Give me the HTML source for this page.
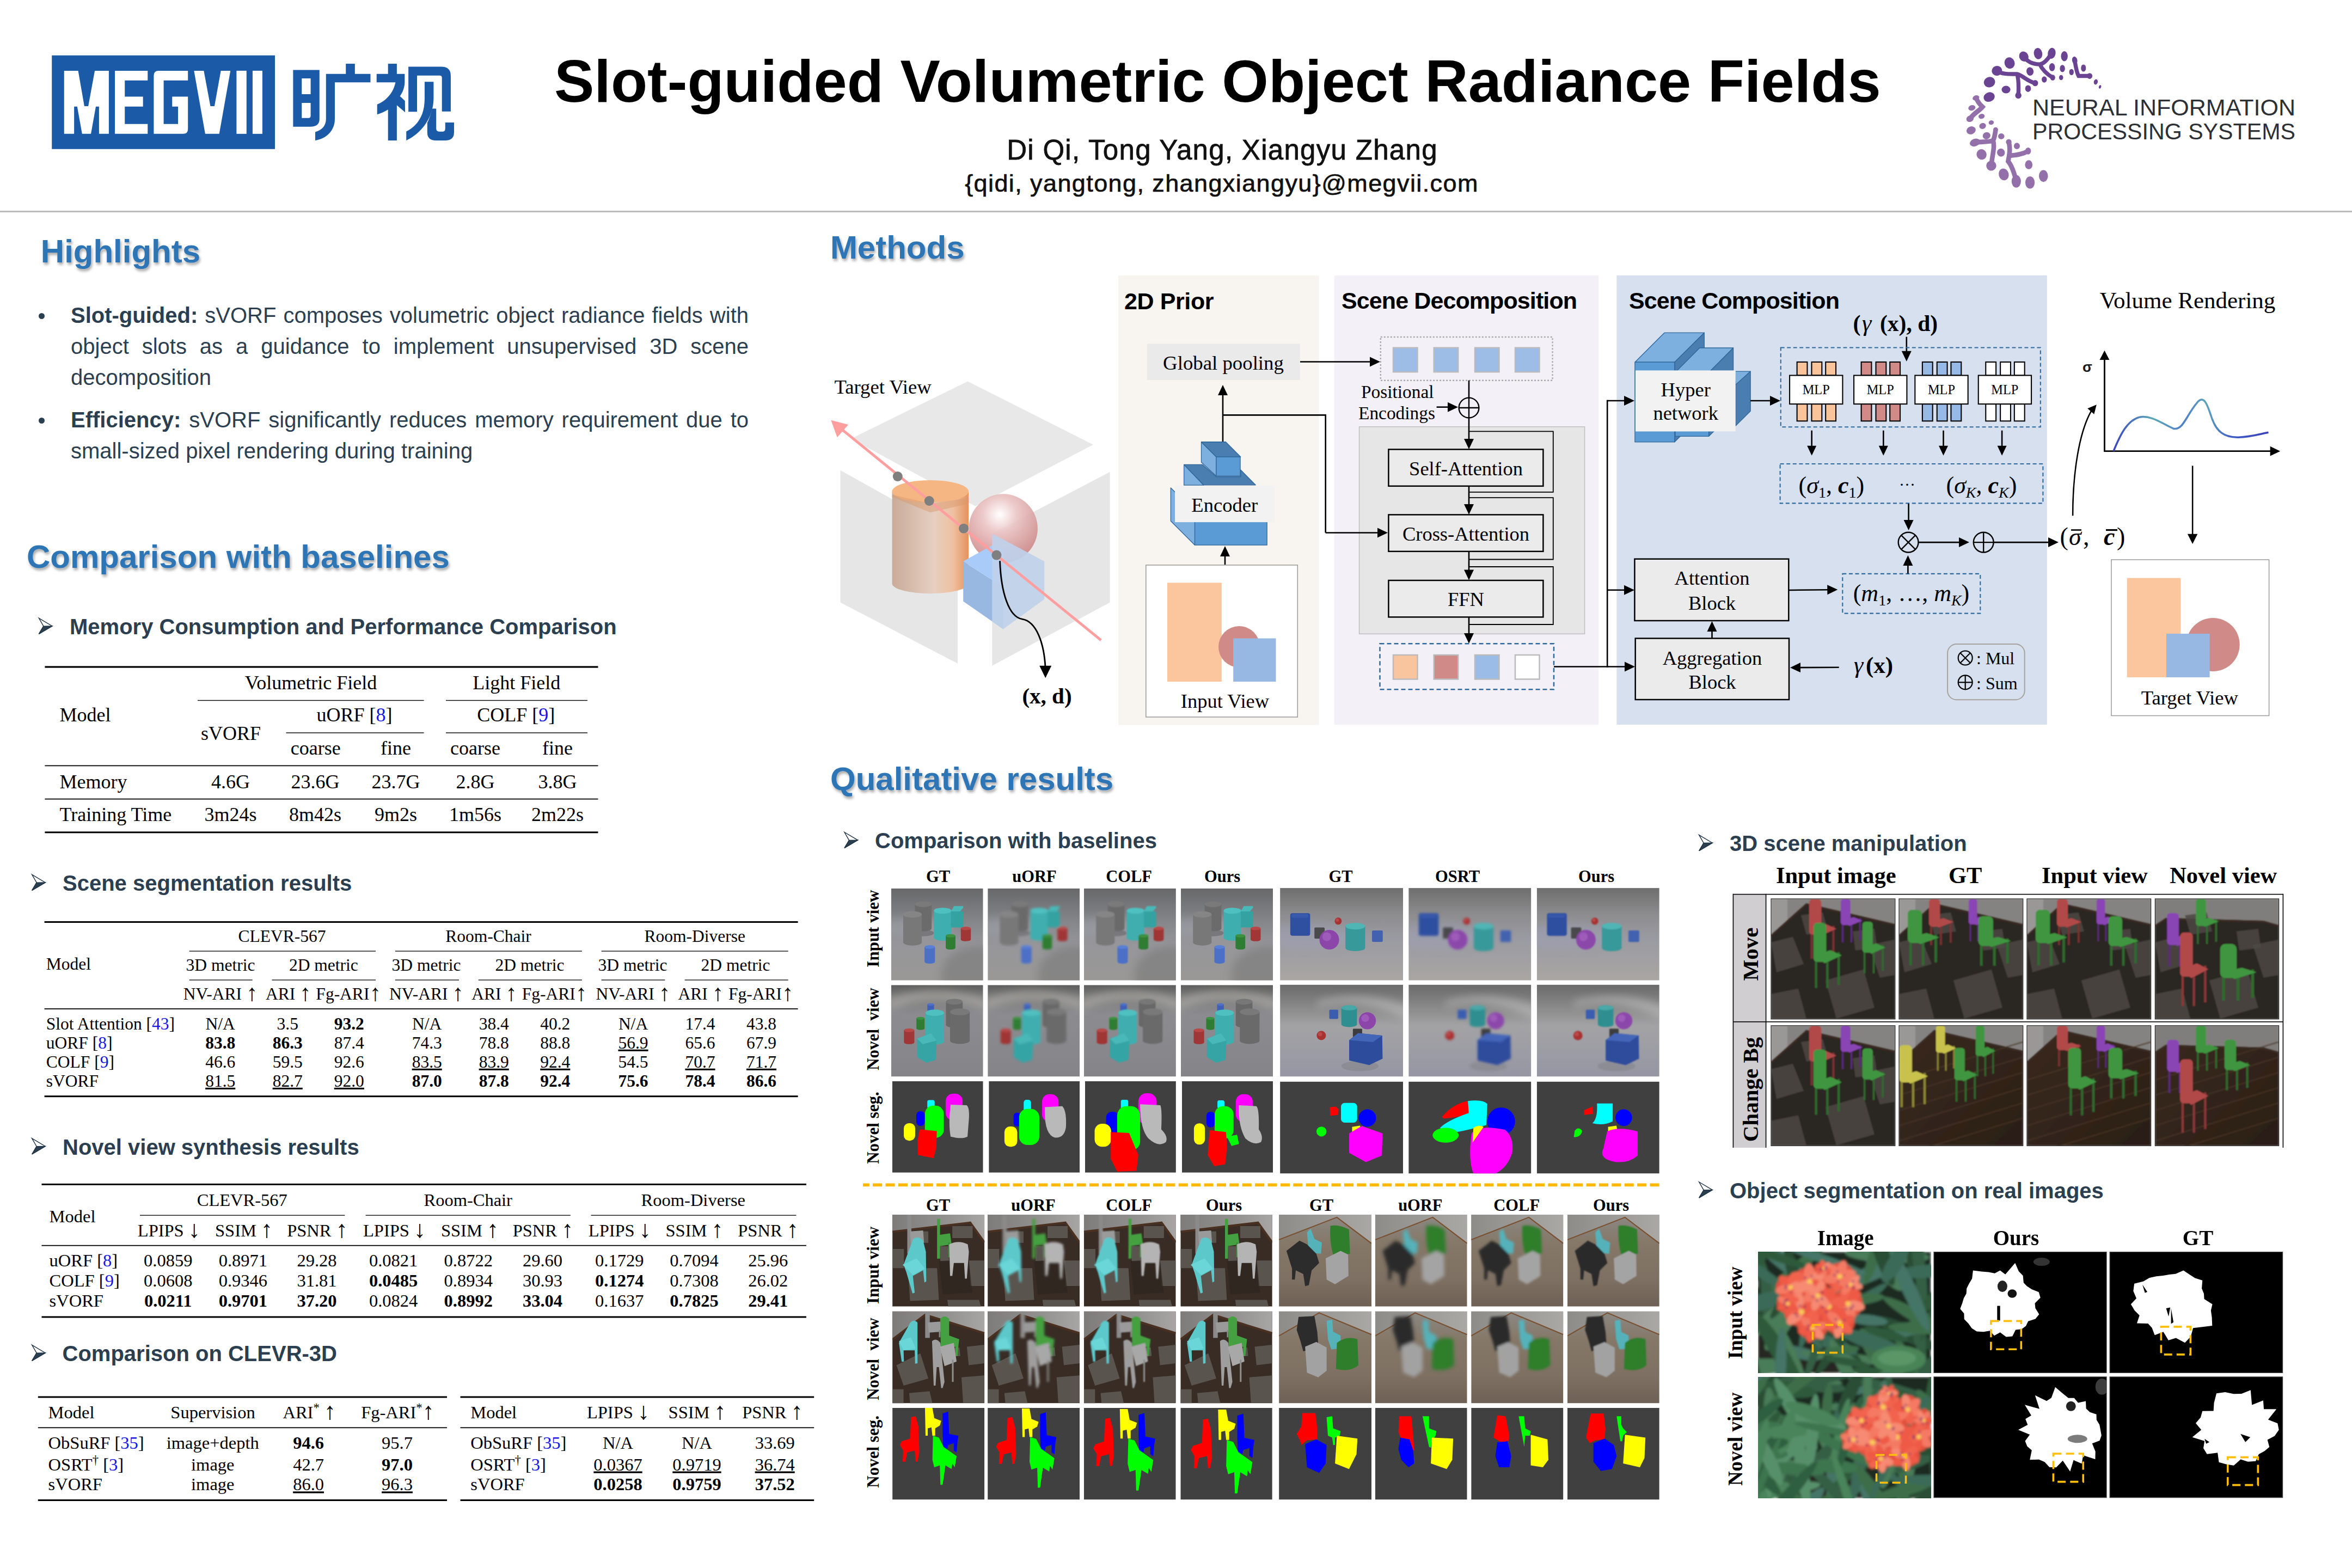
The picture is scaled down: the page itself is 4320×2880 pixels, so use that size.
<!DOCTYPE html>
<html><head><meta charset="utf-8"><title>sVORF poster</title>
<style>
html,body{margin:0;padding:0;background:#fff;}
body{width:4320px;height:2880px;position:relative;overflow:hidden;font-family:"Liberation Sans", sans-serif;}
svg{position:absolute;left:0;top:0;}
.hl{position:absolute;font-family:"Liberation Sans", sans-serif;font-size:40px;color:#2B3F51;line-height:57.3px;text-align:justify;}
.hl b{font-weight:bold;}
</style></head><body>
<svg width="4320" height="2880" viewBox="0 0 4320 2880">
<defs>
<filter id="tsh" x="-5%" y="-20%" width="115%" height="160%"><feDropShadow dx="2" dy="4" stdDeviation="2.5" flood-color="#000" flood-opacity="0.35"/></filter>
<marker id="ah" viewBox="0 0 10 10" refX="9" refY="5" markerWidth="6" markerHeight="6" orient="auto-start-reverse"><path d="M0,0 L10,5 L0,10 z" fill="#000"/></marker>
</defs>
<g transform="translate(80,90) scale(0.195578231292517,0.19550342130987292)" fill="#1A5AA6"><rect x="78" y="60" width="2095" height="880"/><g fill="#fff"><polygon points="193,204 325,204 383,537 420,537 481,204 613,204 613,797 521,797 521,541 491,541 445,797 362,797 316,541 287,541 287,797 193,797"/><polygon points="670,204 978,204 978,296 763,296 763,448 934,448 934,541 763,541 763,705 978,705 978,797 670,797"/><path d="M1035,797 L1035,250 Q1035,204 1080,204 L1356,204 L1356,296 L1128,296 L1128,705 L1263,705 L1263,541 L1208,541 L1208,448 L1356,448 L1356,750 Q1356,797 1310,797 Z"/><polygon points="1413,204 1505,204 1567,537 1605,537 1665,204 1755,204 1650,797 1518,797"/><rect x="1812" y="204" width="94" height="593"/><rect x="1963" y="204" width="92" height="593"/></g></g><g transform="translate(520,100) scale(0.1445578231292517,0.14457831325301204)" fill="#1A5AA6"><path fill-rule="evenodd" d="M127,197 L462,197 L462,820 Q462,918 345,918 L127,918 Z M237,305 L350,305 L350,505 L237,505 Z M237,615 L350,615 L350,780 Q350,808 322,808 L237,808 Z"/><rect x="797" y="118" width="115" height="135"/><path d="M545,248 L1110,248 L1110,355 L657,355 L657,820 C657,960 560,1070 408,1092 L408,985 C500,960 545,900 545,820 Z"/><rect x="1333" y="118" width="112" height="135"/><path d="M1188,248 L1545,248 L1545,360 C1540,430 1520,480 1485,530 L1548,590 L1550,735 L1445,645 L1445,1092 L1333,1092 L1333,700 C1290,725 1240,750 1195,762 L1195,635 C1310,590 1400,490 1428,355 L1188,355 Z"/><path d="M1592,155 L2010,155 Q2130,155 2130,270 L2130,725 L2018,725 L2018,295 Q2018,268 1990,268 L1702,268 L1702,728 L1592,728 Z"/><path d="M1798,348 L1912,348 L1912,560 C1910,780 1780,990 1565,1092 L1565,978 C1720,900 1798,760 1798,560 Z"/><path d="M1893,688 L1945,688 L1945,940 Q1945,980 1990,980 L2025,980 Q2060,980 2060,940 L2060,865 L2172,865 L2172,990 Q2172,1092 2060,1092 L1940,1092 Q1832,1092 1832,990 L1832,870 Q1870,790 1893,688 Z"/></g><text x="1018" y="187" font-family='"Liberation Sans", sans-serif' font-size="110" font-weight="bold" text-anchor="start" fill="#000" >Slot-guided Volumetric Object Radiance Fields</text><text x="2245" y="293.3" font-family='"Liberation Sans", sans-serif' font-size="51" font-weight="normal" text-anchor="middle" fill="#111" letter-spacing="1.3" stroke="#111" stroke-width="0.8">Di Qi, Tong Yang, Xiangyu Zhang</text><text x="2244" y="352.2" font-family='"Liberation Sans", sans-serif' font-size="45" font-weight="normal" text-anchor="middle" fill="#111" letter-spacing="1.4" stroke="#111" stroke-width="0.7">{qidi, yangtong, zhangxiangyu}@megvii.com</text><g transform="translate(3600,80) scale(0.11904761904761904)" fill="#6A4492"><ellipse cx="1205" cy="155" rx="65" ry="88" transform="rotate(-10 1205 155)"/><ellipse cx="1415" cy="150" rx="60" ry="85" transform="rotate(10 1415 150)"/><ellipse cx="1610" cy="195" rx="52" ry="78" transform="rotate(0 1610 195)"/><ellipse cx="1770" cy="260" rx="40" ry="60" transform="rotate(-10 1770 260)"/><ellipse cx="1905" cy="378" rx="38" ry="55" transform="rotate(0 1905 378)"/><ellipse cx="2000" cy="500" rx="42" ry="45" transform="rotate(0 2000 500)"/><ellipse cx="2095" cy="592" rx="30" ry="42" transform="rotate(15 2095 592)"/><ellipse cx="2160" cy="668" rx="18" ry="28" transform="rotate(15 2160 668)"/><ellipse cx="985" cy="200" rx="70" ry="80" transform="rotate(-30 985 200)"/><ellipse cx="765" cy="300" rx="78" ry="88" transform="rotate(-20 765 300)"/><ellipse cx="570" cy="420" rx="80" ry="75" transform="rotate(-20 570 420)"/><ellipse cx="1080" cy="430" rx="55" ry="65" transform="rotate(-10 1080 430)"/><ellipse cx="1420" cy="365" rx="45" ry="62" transform="rotate(0 1420 365)"/><ellipse cx="1580" cy="385" rx="40" ry="55" transform="rotate(0 1580 385)"/><ellipse cx="1720" cy="440" rx="35" ry="48" transform="rotate(0 1720 440)"/><ellipse cx="1300" cy="555" rx="40" ry="48" transform="rotate(0 1300 555)"/><ellipse cx="1560" cy="525" rx="32" ry="40" transform="rotate(0 1560 525)"/><ellipse cx="1430" cy="525" rx="38" ry="45" transform="rotate(0 1430 525)"/><ellipse cx="1160" cy="610" rx="45" ry="48" transform="rotate(0 1160 610)"/><ellipse cx="1050" cy="695" rx="45" ry="52" transform="rotate(0 1050 695)"/><ellipse cx="710" cy="710" rx="68" ry="58" transform="rotate(0 710 710)"/><ellipse cx="455" cy="595" rx="88" ry="80" transform="rotate(-20 455 595)"/><ellipse cx="450" cy="825" rx="88" ry="72" transform="rotate(-20 450 825)"/><ellipse cx="900" cy="800" rx="48" ry="50" transform="rotate(0 900 800)"/><path d="M985,200 C1050,300 1150,320 1230,320 C1300,310 1350,250 1400,170 M1230,320 C1270,400 1320,460 1430,525 M570,420 C650,480 780,470 880,470 C950,480 1050,590 1160,610 M880,470 C910,560 905,700 900,800 M1770,260 C1790,380 1800,450 1830,500 C1900,500 1950,500 2000,500" fill="none" stroke="#6A4492" stroke-width="62" stroke-linecap="round"/></g><g transform="translate(3600,170) scale(0.11479738261967627)" fill="#9470AA"><ellipse cx="255" cy="85" rx="55" ry="40" transform="rotate(-20 255 85)"/><ellipse cx="190" cy="245" rx="58" ry="43" transform="rotate(-15 190 245)"/><ellipse cx="345" cy="380" rx="50" ry="40" transform="rotate(-15 345 380)"/><ellipse cx="160" cy="420" rx="60" ry="50" transform="rotate(-20 160 420)"/><ellipse cx="500" cy="480" rx="42" ry="35" transform="rotate(-15 500 480)"/><ellipse cx="362" cy="535" rx="55" ry="48" transform="rotate(-20 362 535)"/><ellipse cx="178" cy="605" rx="75" ry="62" transform="rotate(-20 178 605)"/><ellipse cx="570" cy="590" rx="38" ry="35" transform="rotate(0 570 590)"/><ellipse cx="425" cy="690" rx="62" ry="55" transform="rotate(-20 425 690)"/><ellipse cx="660" cy="700" rx="50" ry="47" transform="rotate(-10 660 700)"/><ellipse cx="240" cy="800" rx="85" ry="60" transform="rotate(-20 240 800)"/><ellipse cx="345" cy="990" rx="80" ry="85" transform="rotate(-20 345 990)"/><ellipse cx="500" cy="1170" rx="80" ry="80" transform="rotate(-20 500 1170)"/><ellipse cx="655" cy="960" rx="62" ry="65" transform="rotate(-20 655 960)"/><ellipse cx="780" cy="790" rx="45" ry="45" transform="rotate(0 780 790)"/><ellipse cx="910" cy="855" rx="48" ry="52" transform="rotate(0 910 855)"/><ellipse cx="1090" cy="935" rx="45" ry="55" transform="rotate(0 1090 935)"/><ellipse cx="1100" cy="1155" rx="60" ry="72" transform="rotate(0 1100 1155)"/><ellipse cx="700" cy="1310" rx="80" ry="95" transform="rotate(-15 700 1310)"/><ellipse cx="900" cy="1420" rx="75" ry="100" transform="rotate(0 900 1420)"/><ellipse cx="1120" cy="1440" rx="75" ry="98" transform="rotate(0 1120 1440)"/><ellipse cx="1335" cy="1335" rx="72" ry="95" transform="rotate(0 1335 1335)"/><path d="M255,85 C300,180 330,200 360,230 C300,300 220,330 160,420 M240,800 C330,780 420,800 530,770 C560,700 560,650 570,600 M530,770 C560,870 520,980 500,1170 M780,790 C810,900 790,1000 770,1100 C820,1160 860,1250 900,1420 M800,1010 C900,1000 1000,990 1090,935" fill="none" stroke="#9470AA" stroke-width="75" stroke-linecap="round"/></g><text x="3733" y="211.7" font-family='"Liberation Sans", sans-serif' font-size="42" font-weight="normal" text-anchor="start" fill="#2D3035" textLength="483" lengthAdjust="spacingAndGlyphs">NEURAL INFORMATION</text><text x="3733" y="256" font-family='"Liberation Sans", sans-serif' font-size="42" font-weight="normal" text-anchor="start" fill="#2D3035" textLength="483" lengthAdjust="spacingAndGlyphs">PROCESSING SYSTEMS</text><rect x="0" y="387" width="4320" height="3" fill="#BBBBBB" stroke="none" stroke-width="1" /><text x="74.8" y="482.2" font-family='"Liberation Sans", sans-serif' font-size="60" font-weight="bold" text-anchor="start" fill="#2E75B6" filter="url(#tsh)">Highlights</text><text x="49" y="1043.2" font-family='"Liberation Sans", sans-serif' font-size="60" font-weight="bold" text-anchor="start" fill="#2E75B6" filter="url(#tsh)">Comparison with baselines</text><text x="1524.9" y="475.1" font-family='"Liberation Sans", sans-serif' font-size="60" font-weight="bold" text-anchor="start" fill="#2E75B6" filter="url(#tsh)">Methods</text><text x="1525" y="1451.4" font-family='"Liberation Sans", sans-serif' font-size="60" font-weight="bold" text-anchor="start" fill="#2E75B6" filter="url(#tsh)">Qualitative results</text><polygon points="71.4,1135.3 95.9,1149.9 71.4,1164.4 79.9,1150.1" fill="none" stroke="#1E3345" stroke-width="1.4" stroke-linejoin="miter"/><polygon points="79.9,1150.1 95.9,1149.9 71.4,1164.4" fill="#2B3F51" stroke="#1E3345" stroke-width="1.2"/><text x="128" y="1165" font-family='"Liberation Sans", sans-serif' font-size="40" font-weight="bold" text-anchor="start" fill="#2B3F51" >Memory Consumption and Performance Comparison</text><polygon points="58.7,1606.3 83.2,1620.9 58.7,1635.4 67.2,1621.1" fill="none" stroke="#1E3345" stroke-width="1.4" stroke-linejoin="miter"/><polygon points="67.2,1621.1 83.2,1620.9 58.7,1635.4" fill="#2B3F51" stroke="#1E3345" stroke-width="1.2"/><text x="115" y="1636" font-family='"Liberation Sans", sans-serif' font-size="40" font-weight="bold" text-anchor="start" fill="#2B3F51" >Scene segmentation results</text><polygon points="58.7,2090.9 83.2,2105.5 58.7,2120.0 67.2,2105.7" fill="none" stroke="#1E3345" stroke-width="1.4" stroke-linejoin="miter"/><polygon points="67.2,2105.7 83.2,2105.5 58.7,2120.0" fill="#2B3F51" stroke="#1E3345" stroke-width="1.2"/><text x="115" y="2120.6" font-family='"Liberation Sans", sans-serif' font-size="40" font-weight="bold" text-anchor="start" fill="#2B3F51" >Novel view synthesis results</text><polygon points="58.7,2470.3 83.2,2484.9 58.7,2499.4 67.2,2485.1" fill="none" stroke="#1E3345" stroke-width="1.4" stroke-linejoin="miter"/><polygon points="67.2,2485.1 83.2,2484.9 58.7,2499.4" fill="#2B3F51" stroke="#1E3345" stroke-width="1.2"/><text x="114.5" y="2500" font-family='"Liberation Sans", sans-serif' font-size="40" font-weight="bold" text-anchor="start" fill="#2B3F51" >Comparison on CLEVR-3D</text><polygon points="1551,1528.5 1575.5,1543.1000000000001 1551,1557.6000000000001 1559.5,1543.3" fill="none" stroke="#1E3345" stroke-width="1.4" stroke-linejoin="miter"/><polygon points="1559.5,1543.3 1575.5,1543.1000000000001 1551,1557.6000000000001" fill="#2B3F51" stroke="#1E3345" stroke-width="1.2"/><text x="1607" y="1558.2" font-family='"Liberation Sans", sans-serif' font-size="40" font-weight="bold" text-anchor="start" fill="#2B3F51" >Comparison with baselines</text><polygon points="3120.7,1533.6 3145.2,1548.2 3120.7,1562.7 3129.2,1548.3999999999999" fill="none" stroke="#1E3345" stroke-width="1.4" stroke-linejoin="miter"/><polygon points="3129.2,1548.3999999999999 3145.2,1548.2 3120.7,1562.7" fill="#2B3F51" stroke="#1E3345" stroke-width="1.2"/><text x="3177" y="1563.3" font-family='"Liberation Sans", sans-serif' font-size="40" font-weight="bold" text-anchor="start" fill="#2B3F51" >3D scene manipulation</text><polygon points="3120.7,2171.0 3145.2,2185.6 3120.7,2200.1 3129.2,2185.7999999999997" fill="none" stroke="#1E3345" stroke-width="1.4" stroke-linejoin="miter"/><polygon points="3129.2,2185.7999999999997 3145.2,2185.6 3120.7,2200.1" fill="#2B3F51" stroke="#1E3345" stroke-width="1.2"/><text x="3177" y="2200.7" font-family='"Liberation Sans", sans-serif' font-size="40" font-weight="bold" text-anchor="start" fill="#2B3F51" >Object segmentation on real images</text><rect x="82.4" y="1223.4" width="1016.1" height="3.2" fill="#000" stroke="none" stroke-width="1" /><text x="571" y="1266" font-family='"Liberation Serif", serif' font-size="36" font-weight="normal" text-anchor="middle" fill="#000" >Volumetric Field</text><text x="948.7" y="1266" font-family='"Liberation Serif", serif' font-size="36" font-weight="normal" text-anchor="middle" fill="#000" >Light Field</text><rect x="363" y="1285.8" width="415.6" height="1.4" fill="#000" stroke="none" stroke-width="1" /><rect x="819" y="1285.8" width="260" height="1.4" fill="#000" stroke="none" stroke-width="1" /><text x="109.5" y="1325" font-family='"Liberation Serif", serif' font-size="36" font-weight="normal" text-anchor="start" fill="#000" >Model</text><text x="651" y="1325" font-family='"Liberation Serif", serif' font-size="36" font-weight="normal" text-anchor="middle" fill="#000" >uORF [<tspan fill="#1515E6">8</tspan>]</text><text x="947.7" y="1325" font-family='"Liberation Serif", serif' font-size="36" font-weight="normal" text-anchor="middle" fill="#000" >COLF [<tspan fill="#1515E6">9</tspan>]</text><text x="424" y="1359" font-family='"Liberation Serif", serif' font-size="36" font-weight="normal" text-anchor="middle" fill="#000" >sVORF</text><rect x="525.5" y="1345.3" width="253.10000000000002" height="1.4" fill="#000" stroke="none" stroke-width="1" /><rect x="819" y="1345.3" width="260" height="1.4" fill="#000" stroke="none" stroke-width="1" /><text x="579.8" y="1386" font-family='"Liberation Serif", serif' font-size="36" font-weight="normal" text-anchor="middle" fill="#000" >coarse</text><text x="727" y="1386" font-family='"Liberation Serif", serif' font-size="36" font-weight="normal" text-anchor="middle" fill="#000" >fine</text><text x="873" y="1386" font-family='"Liberation Serif", serif' font-size="36" font-weight="normal" text-anchor="middle" fill="#000" >coarse</text><text x="1024" y="1386" font-family='"Liberation Serif", serif' font-size="36" font-weight="normal" text-anchor="middle" fill="#000" >fine</text><rect x="82.4" y="1405.5" width="1016.1" height="1.8" fill="#000" stroke="none" stroke-width="1" /><text x="109.5" y="1447.7" font-family='"Liberation Serif", serif' font-size="36" font-weight="normal" text-anchor="start" fill="#000" >Memory</text><text x="423.5" y="1447.7" font-family='"Liberation Serif", serif' font-size="36" font-weight="normal" text-anchor="middle" fill="#000" >4.6G</text><text x="579" y="1447.7" font-family='"Liberation Serif", serif' font-size="36" font-weight="normal" text-anchor="middle" fill="#000" >23.6G</text><text x="727" y="1447.7" font-family='"Liberation Serif", serif' font-size="36" font-weight="normal" text-anchor="middle" fill="#000" >23.7G</text><text x="873" y="1447.7" font-family='"Liberation Serif", serif' font-size="36" font-weight="normal" text-anchor="middle" fill="#000" >2.8G</text><text x="1024" y="1447.7" font-family='"Liberation Serif", serif' font-size="36" font-weight="normal" text-anchor="middle" fill="#000" >3.8G</text><rect x="82.4" y="1466.6999999999998" width="1016.1" height="1.8" fill="#000" stroke="none" stroke-width="1" /><text x="109.5" y="1507.9" font-family='"Liberation Serif", serif' font-size="36" font-weight="normal" text-anchor="start" fill="#000" >Training Time</text><text x="423.5" y="1507.9" font-family='"Liberation Serif", serif' font-size="36" font-weight="normal" text-anchor="middle" fill="#000" >3m24s</text><text x="579" y="1507.9" font-family='"Liberation Serif", serif' font-size="36" font-weight="normal" text-anchor="middle" fill="#000" >8m42s</text><text x="727" y="1507.9" font-family='"Liberation Serif", serif' font-size="36" font-weight="normal" text-anchor="middle" fill="#000" >9m2s</text><text x="873" y="1507.9" font-family='"Liberation Serif", serif' font-size="36" font-weight="normal" text-anchor="middle" fill="#000" >1m56s</text><text x="1024" y="1507.9" font-family='"Liberation Serif", serif' font-size="36" font-weight="normal" text-anchor="middle" fill="#000" >2m22s</text><rect x="82.4" y="1527.3" width="1016.1" height="3.0" fill="#000" stroke="none" stroke-width="1" /><rect x="81.6" y="1692.0" width="1384.0" height="3.0" fill="#000" stroke="none" stroke-width="1" /><text x="517.9" y="1730" font-family='"Liberation Serif", serif' font-size="31.5" font-weight="normal" text-anchor="middle" fill="#000" >CLEVR-567</text><text x="897" y="1730" font-family='"Liberation Serif", serif' font-size="31.5" font-weight="normal" text-anchor="middle" fill="#000" >Room-Chair</text><text x="1276.2" y="1730" font-family='"Liberation Serif", serif' font-size="31.5" font-weight="normal" text-anchor="middle" fill="#000" >Room-Diverse</text><rect x="347.6" y="1746.35" width="342.4" height="1.3" fill="#000" stroke="none" stroke-width="1" /><rect x="725.8" y="1746.35" width="343.10000000000014" height="1.3" fill="#000" stroke="none" stroke-width="1" /><rect x="1104.6" y="1746.35" width="343.10000000000014" height="1.3" fill="#000" stroke="none" stroke-width="1" /><text x="84.8" y="1781" font-family='"Liberation Serif", serif' font-size="31.5" font-weight="normal" text-anchor="start" fill="#000" >Model</text><text x="405" y="1782.8" font-family='"Liberation Serif", serif' font-size="31.5" font-weight="normal" text-anchor="middle" fill="#000" >3D metric</text><text x="783" y="1782.8" font-family='"Liberation Serif", serif' font-size="31.5" font-weight="normal" text-anchor="middle" fill="#000" >3D metric</text><text x="1162" y="1782.8" font-family='"Liberation Serif", serif' font-size="31.5" font-weight="normal" text-anchor="middle" fill="#000" >3D metric</text><text x="594.4" y="1782.8" font-family='"Liberation Serif", serif' font-size="31.5" font-weight="normal" text-anchor="middle" fill="#000" >2D metric</text><text x="973" y="1782.8" font-family='"Liberation Serif", serif' font-size="31.5" font-weight="normal" text-anchor="middle" fill="#000" >2D metric</text><text x="1351" y="1782.8" font-family='"Liberation Serif", serif' font-size="31.5" font-weight="normal" text-anchor="middle" fill="#000" >2D metric</text><rect x="347.6" y="1799.35" width="116.0" height="1.3" fill="#000" stroke="none" stroke-width="1" /><rect x="499.4" y="1799.35" width="190.60000000000002" height="1.3" fill="#000" stroke="none" stroke-width="1" /><rect x="725.8" y="1799.35" width="117.20000000000005" height="1.3" fill="#000" stroke="none" stroke-width="1" /><rect x="878.8" y="1799.35" width="190.10000000000014" height="1.3" fill="#000" stroke="none" stroke-width="1" /><rect x="1104.6" y="1799.35" width="116.70000000000005" height="1.3" fill="#000" stroke="none" stroke-width="1" /><rect x="1257.7" y="1799.35" width="190.0" height="1.3" fill="#000" stroke="none" stroke-width="1" /><text x="405" y="1836.4" font-family='"Liberation Serif", serif' font-size="31.5" font-weight="normal" text-anchor="middle" fill="#000" >NV-ARI <tspan font-size="42.5" baseline-shift="-1.9">↑</tspan></text><text x="529.6" y="1836.4" font-family='"Liberation Serif", serif' font-size="31.5" font-weight="normal" text-anchor="middle" fill="#000" >ARI <tspan font-size="42.5" baseline-shift="-1.9">↑</tspan></text><text x="640" y="1836.4" font-family='"Liberation Serif", serif' font-size="31.5" font-weight="normal" text-anchor="middle" fill="#000" >Fg-ARI<tspan font-size="42.5" baseline-shift="-1.9">↑</tspan></text><text x="783.3" y="1836.4" font-family='"Liberation Serif", serif' font-size="31.5" font-weight="normal" text-anchor="middle" fill="#000" >NV-ARI <tspan font-size="42.5" baseline-shift="-1.9">↑</tspan></text><text x="907.9000000000001" y="1836.4" font-family='"Liberation Serif", serif' font-size="31.5" font-weight="normal" text-anchor="middle" fill="#000" >ARI <tspan font-size="42.5" baseline-shift="-1.9">↑</tspan></text><text x="1018.3" y="1836.4" font-family='"Liberation Serif", serif' font-size="31.5" font-weight="normal" text-anchor="middle" fill="#000" >Fg-ARI<tspan font-size="42.5" baseline-shift="-1.9">↑</tspan></text><text x="1162.7" y="1836.4" font-family='"Liberation Serif", serif' font-size="31.5" font-weight="normal" text-anchor="middle" fill="#000" >NV-ARI <tspan font-size="42.5" baseline-shift="-1.9">↑</tspan></text><text x="1287.3000000000002" y="1836.4" font-family='"Liberation Serif", serif' font-size="31.5" font-weight="normal" text-anchor="middle" fill="#000" >ARI <tspan font-size="42.5" baseline-shift="-1.9">↑</tspan></text><text x="1397.7" y="1836.4" font-family='"Liberation Serif", serif' font-size="31.5" font-weight="normal" text-anchor="middle" fill="#000" >Fg-ARI<tspan font-size="42.5" baseline-shift="-1.9">↑</tspan></text><rect x="81.6" y="1852.1" width="1384.0" height="1.8" fill="#000" stroke="none" stroke-width="1" /><text x="84.8" y="1890.6" font-family='"Liberation Serif", serif' font-size="31.5" font-weight="normal" text-anchor="start" fill="#000" >Slot Attention [<tspan fill="#1515E6">43</tspan>]</text><text x="404.7" y="1890.6" font-family='"Liberation Serif", serif' font-size="31.5" font-weight="normal" text-anchor="middle" fill="#000" >N/A</text><text x="528.2" y="1890.6" font-family='"Liberation Serif", serif' font-size="31.5" font-weight="normal" text-anchor="middle" fill="#000" >3.5</text><text x="641.3" y="1890.6" font-family='"Liberation Serif", serif' font-size="31.5" font-weight="normal" text-anchor="middle" fill="#000" ><tspan font-weight="bold">93.2</tspan></text><text x="784.2" y="1890.6" font-family='"Liberation Serif", serif' font-size="31.5" font-weight="normal" text-anchor="middle" fill="#000" >N/A</text><text x="907.2" y="1890.6" font-family='"Liberation Serif", serif' font-size="31.5" font-weight="normal" text-anchor="middle" fill="#000" >38.4</text><text x="1019.8" y="1890.6" font-family='"Liberation Serif", serif' font-size="31.5" font-weight="normal" text-anchor="middle" fill="#000" >40.2</text><text x="1163" y="1890.6" font-family='"Liberation Serif", serif' font-size="31.5" font-weight="normal" text-anchor="middle" fill="#000" >N/A</text><text x="1286" y="1890.6" font-family='"Liberation Serif", serif' font-size="31.5" font-weight="normal" text-anchor="middle" fill="#000" >17.4</text><text x="1398.5" y="1890.6" font-family='"Liberation Serif", serif' font-size="31.5" font-weight="normal" text-anchor="middle" fill="#000" >43.8</text><text x="84.8" y="1925.7" font-family='"Liberation Serif", serif' font-size="31.5" font-weight="normal" text-anchor="start" fill="#000" >uORF [<tspan fill="#1515E6">8</tspan>]</text><text x="404.7" y="1925.7" font-family='"Liberation Serif", serif' font-size="31.5" font-weight="normal" text-anchor="middle" fill="#000" ><tspan font-weight="bold">83.8</tspan></text><text x="528.2" y="1925.7" font-family='"Liberation Serif", serif' font-size="31.5" font-weight="normal" text-anchor="middle" fill="#000" ><tspan font-weight="bold">86.3</tspan></text><text x="641.3" y="1925.7" font-family='"Liberation Serif", serif' font-size="31.5" font-weight="normal" text-anchor="middle" fill="#000" >87.4</text><text x="784.2" y="1925.7" font-family='"Liberation Serif", serif' font-size="31.5" font-weight="normal" text-anchor="middle" fill="#000" >74.3</text><text x="907.2" y="1925.7" font-family='"Liberation Serif", serif' font-size="31.5" font-weight="normal" text-anchor="middle" fill="#000" >78.8</text><text x="1019.8" y="1925.7" font-family='"Liberation Serif", serif' font-size="31.5" font-weight="normal" text-anchor="middle" fill="#000" >88.8</text><text x="1163" y="1925.7" font-family='"Liberation Serif", serif' font-size="31.5" font-weight="normal" text-anchor="middle" fill="#000" ><tspan text-decoration="underline">56.9</tspan></text><text x="1286" y="1925.7" font-family='"Liberation Serif", serif' font-size="31.5" font-weight="normal" text-anchor="middle" fill="#000" >65.6</text><text x="1398.5" y="1925.7" font-family='"Liberation Serif", serif' font-size="31.5" font-weight="normal" text-anchor="middle" fill="#000" >67.9</text><text x="84.8" y="1960.7" font-family='"Liberation Serif", serif' font-size="31.5" font-weight="normal" text-anchor="start" fill="#000" >COLF [<tspan fill="#1515E6">9</tspan>]</text><text x="404.7" y="1960.7" font-family='"Liberation Serif", serif' font-size="31.5" font-weight="normal" text-anchor="middle" fill="#000" >46.6</text><text x="528.2" y="1960.7" font-family='"Liberation Serif", serif' font-size="31.5" font-weight="normal" text-anchor="middle" fill="#000" >59.5</text><text x="641.3" y="1960.7" font-family='"Liberation Serif", serif' font-size="31.5" font-weight="normal" text-anchor="middle" fill="#000" >92.6</text><text x="784.2" y="1960.7" font-family='"Liberation Serif", serif' font-size="31.5" font-weight="normal" text-anchor="middle" fill="#000" ><tspan text-decoration="underline">83.5</tspan></text><text x="907.2" y="1960.7" font-family='"Liberation Serif", serif' font-size="31.5" font-weight="normal" text-anchor="middle" fill="#000" ><tspan text-decoration="underline">83.9</tspan></text><text x="1019.8" y="1960.7" font-family='"Liberation Serif", serif' font-size="31.5" font-weight="normal" text-anchor="middle" fill="#000" ><tspan text-decoration="underline">92.4</tspan></text><text x="1163" y="1960.7" font-family='"Liberation Serif", serif' font-size="31.5" font-weight="normal" text-anchor="middle" fill="#000" >54.5</text><text x="1286" y="1960.7" font-family='"Liberation Serif", serif' font-size="31.5" font-weight="normal" text-anchor="middle" fill="#000" ><tspan text-decoration="underline">70.7</tspan></text><text x="1398.5" y="1960.7" font-family='"Liberation Serif", serif' font-size="31.5" font-weight="normal" text-anchor="middle" fill="#000" ><tspan text-decoration="underline">71.7</tspan></text><text x="84.8" y="1995.8" font-family='"Liberation Serif", serif' font-size="31.5" font-weight="normal" text-anchor="start" fill="#000" >sVORF</text><text x="404.7" y="1995.8" font-family='"Liberation Serif", serif' font-size="31.5" font-weight="normal" text-anchor="middle" fill="#000" ><tspan text-decoration="underline">81.5</tspan></text><text x="528.2" y="1995.8" font-family='"Liberation Serif", serif' font-size="31.5" font-weight="normal" text-anchor="middle" fill="#000" ><tspan text-decoration="underline">82.7</tspan></text><text x="641.3" y="1995.8" font-family='"Liberation Serif", serif' font-size="31.5" font-weight="normal" text-anchor="middle" fill="#000" ><tspan text-decoration="underline">92.0</tspan></text><text x="784.2" y="1995.8" font-family='"Liberation Serif", serif' font-size="31.5" font-weight="normal" text-anchor="middle" fill="#000" ><tspan font-weight="bold">87.0</tspan></text><text x="907.2" y="1995.8" font-family='"Liberation Serif", serif' font-size="31.5" font-weight="normal" text-anchor="middle" fill="#000" ><tspan font-weight="bold">87.8</tspan></text><text x="1019.8" y="1995.8" font-family='"Liberation Serif", serif' font-size="31.5" font-weight="normal" text-anchor="middle" fill="#000" ><tspan font-weight="bold">92.4</tspan></text><text x="1163" y="1995.8" font-family='"Liberation Serif", serif' font-size="31.5" font-weight="normal" text-anchor="middle" fill="#000" ><tspan font-weight="bold">75.6</tspan></text><text x="1286" y="1995.8" font-family='"Liberation Serif", serif' font-size="31.5" font-weight="normal" text-anchor="middle" fill="#000" ><tspan font-weight="bold">78.4</tspan></text><text x="1398.5" y="1995.8" font-family='"Liberation Serif", serif' font-size="31.5" font-weight="normal" text-anchor="middle" fill="#000" ><tspan font-weight="bold">86.6</tspan></text><rect x="81.6" y="2012.2" width="1384.0" height="3.0" fill="#000" stroke="none" stroke-width="1" /><rect x="76.5" y="2173.9" width="1404.4" height="3.0" fill="#000" stroke="none" stroke-width="1" /><text x="444.8" y="2215" font-family='"Liberation Serif", serif' font-size="32.5" font-weight="normal" text-anchor="middle" fill="#000" >CLEVR-567</text><text x="859.7" y="2215" font-family='"Liberation Serif", serif' font-size="32.5" font-weight="normal" text-anchor="middle" fill="#000" >Room-Chair</text><text x="1273.3" y="2215" font-family='"Liberation Serif", serif' font-size="32.5" font-weight="normal" text-anchor="middle" fill="#000" >Room-Diverse</text><rect x="257" y="2231.5499999999997" width="376.29999999999995" height="1.3" fill="#000" stroke="none" stroke-width="1" /><rect x="671.6" y="2231.5499999999997" width="376.19999999999993" height="1.3" fill="#000" stroke="none" stroke-width="1" /><rect x="1085.5" y="2231.5499999999997" width="376.9000000000001" height="1.3" fill="#000" stroke="none" stroke-width="1" /><text x="90.6" y="2245" font-family='"Liberation Serif", serif' font-size="32.5" font-weight="normal" text-anchor="start" fill="#000" >Model</text><text x="310.3" y="2270.5" font-family='"Liberation Serif", serif' font-size="32.5" font-weight="normal" text-anchor="middle" fill="#000" >LPIPS <tspan font-size="43.9" baseline-shift="-1.9">↓</tspan></text><text x="448" y="2270.5" font-family='"Liberation Serif", serif' font-size="32.5" font-weight="normal" text-anchor="middle" fill="#000" >SSIM <tspan font-size="43.9" baseline-shift="-1.9">↑</tspan></text><text x="582.9" y="2270.5" font-family='"Liberation Serif", serif' font-size="32.5" font-weight="normal" text-anchor="middle" fill="#000" >PSNR <tspan font-size="43.9" baseline-shift="-1.9">↑</tspan></text><text x="724.5" y="2270.5" font-family='"Liberation Serif", serif' font-size="32.5" font-weight="normal" text-anchor="middle" fill="#000" >LPIPS <tspan font-size="43.9" baseline-shift="-1.9">↓</tspan></text><text x="862.9" y="2270.5" font-family='"Liberation Serif", serif' font-size="32.5" font-weight="normal" text-anchor="middle" fill="#000" >SSIM <tspan font-size="43.9" baseline-shift="-1.9">↑</tspan></text><text x="997.4" y="2270.5" font-family='"Liberation Serif", serif' font-size="32.5" font-weight="normal" text-anchor="middle" fill="#000" >PSNR <tspan font-size="43.9" baseline-shift="-1.9">↑</tspan></text><text x="1138.3" y="2270.5" font-family='"Liberation Serif", serif' font-size="32.5" font-weight="normal" text-anchor="middle" fill="#000" >LPIPS <tspan font-size="43.9" baseline-shift="-1.9">↓</tspan></text><text x="1275.5" y="2270.5" font-family='"Liberation Serif", serif' font-size="32.5" font-weight="normal" text-anchor="middle" fill="#000" >SSIM <tspan font-size="43.9" baseline-shift="-1.9">↑</tspan></text><text x="1411" y="2270.5" font-family='"Liberation Serif", serif' font-size="32.5" font-weight="normal" text-anchor="middle" fill="#000" >PSNR <tspan font-size="43.9" baseline-shift="-1.9">↑</tspan></text><rect x="76.5" y="2286.7999999999997" width="1404.4" height="1.8" fill="#000" stroke="none" stroke-width="1" /><text x="90.6" y="2326" font-family='"Liberation Serif", serif' font-size="32.5" font-weight="normal" text-anchor="start" fill="#000" >uORF [<tspan fill="#1515E6">8</tspan>]</text><text x="308.7" y="2326" font-family='"Liberation Serif", serif' font-size="32.5" font-weight="normal" text-anchor="middle" fill="#000" >0.0859</text><text x="446.4" y="2326" font-family='"Liberation Serif", serif' font-size="32.5" font-weight="normal" text-anchor="middle" fill="#000" >0.8971</text><text x="582" y="2326" font-family='"Liberation Serif", serif' font-size="32.5" font-weight="normal" text-anchor="middle" fill="#000" >29.28</text><text x="722.6" y="2326" font-family='"Liberation Serif", serif' font-size="32.5" font-weight="normal" text-anchor="middle" fill="#000" >0.0821</text><text x="860.3" y="2326" font-family='"Liberation Serif", serif' font-size="32.5" font-weight="normal" text-anchor="middle" fill="#000" >0.8722</text><text x="996.5" y="2326" font-family='"Liberation Serif", serif' font-size="32.5" font-weight="normal" text-anchor="middle" fill="#000" >29.60</text><text x="1137.8" y="2326" font-family='"Liberation Serif", serif' font-size="32.5" font-weight="normal" text-anchor="middle" fill="#000" >0.1729</text><text x="1275" y="2326" font-family='"Liberation Serif", serif' font-size="32.5" font-weight="normal" text-anchor="middle" fill="#000" >0.7094</text><text x="1410.7" y="2326" font-family='"Liberation Serif", serif' font-size="32.5" font-weight="normal" text-anchor="middle" fill="#000" >25.96</text><text x="90.6" y="2363" font-family='"Liberation Serif", serif' font-size="32.5" font-weight="normal" text-anchor="start" fill="#000" >COLF [<tspan fill="#1515E6">9</tspan>]</text><text x="308.7" y="2363" font-family='"Liberation Serif", serif' font-size="32.5" font-weight="normal" text-anchor="middle" fill="#000" >0.0608</text><text x="446.4" y="2363" font-family='"Liberation Serif", serif' font-size="32.5" font-weight="normal" text-anchor="middle" fill="#000" >0.9346</text><text x="582" y="2363" font-family='"Liberation Serif", serif' font-size="32.5" font-weight="normal" text-anchor="middle" fill="#000" >31.81</text><text x="722.6" y="2363" font-family='"Liberation Serif", serif' font-size="32.5" font-weight="normal" text-anchor="middle" fill="#000" ><tspan font-weight="bold">0.0485</tspan></text><text x="860.3" y="2363" font-family='"Liberation Serif", serif' font-size="32.5" font-weight="normal" text-anchor="middle" fill="#000" >0.8934</text><text x="996.5" y="2363" font-family='"Liberation Serif", serif' font-size="32.5" font-weight="normal" text-anchor="middle" fill="#000" >30.93</text><text x="1137.8" y="2363" font-family='"Liberation Serif", serif' font-size="32.5" font-weight="normal" text-anchor="middle" fill="#000" ><tspan font-weight="bold">0.1274</tspan></text><text x="1275" y="2363" font-family='"Liberation Serif", serif' font-size="32.5" font-weight="normal" text-anchor="middle" fill="#000" >0.7308</text><text x="1410.7" y="2363" font-family='"Liberation Serif", serif' font-size="32.5" font-weight="normal" text-anchor="middle" fill="#000" >26.02</text><text x="90.6" y="2400" font-family='"Liberation Serif", serif' font-size="32.5" font-weight="normal" text-anchor="start" fill="#000" >sVORF</text><text x="308.7" y="2400" font-family='"Liberation Serif", serif' font-size="32.5" font-weight="normal" text-anchor="middle" fill="#000" ><tspan font-weight="bold">0.0211</tspan></text><text x="446.4" y="2400" font-family='"Liberation Serif", serif' font-size="32.5" font-weight="normal" text-anchor="middle" fill="#000" ><tspan font-weight="bold">0.9701</tspan></text><text x="582" y="2400" font-family='"Liberation Serif", serif' font-size="32.5" font-weight="normal" text-anchor="middle" fill="#000" ><tspan font-weight="bold">37.20</tspan></text><text x="722.6" y="2400" font-family='"Liberation Serif", serif' font-size="32.5" font-weight="normal" text-anchor="middle" fill="#000" >0.0824</text><text x="860.3" y="2400" font-family='"Liberation Serif", serif' font-size="32.5" font-weight="normal" text-anchor="middle" fill="#000" ><tspan font-weight="bold">0.8992</tspan></text><text x="996.5" y="2400" font-family='"Liberation Serif", serif' font-size="32.5" font-weight="normal" text-anchor="middle" fill="#000" ><tspan font-weight="bold">33.04</tspan></text><text x="1137.8" y="2400" font-family='"Liberation Serif", serif' font-size="32.5" font-weight="normal" text-anchor="middle" fill="#000" >0.1637</text><text x="1275" y="2400" font-family='"Liberation Serif", serif' font-size="32.5" font-weight="normal" text-anchor="middle" fill="#000" ><tspan font-weight="bold">0.7825</tspan></text><text x="1410.7" y="2400" font-family='"Liberation Serif", serif' font-size="32.5" font-weight="normal" text-anchor="middle" fill="#000" ><tspan font-weight="bold">29.41</tspan></text><rect x="76.5" y="2417.5" width="1404.4" height="3.0" fill="#000" stroke="none" stroke-width="1" /><rect x="69.8" y="2564.5" width="751.2" height="3.0" fill="#000" stroke="none" stroke-width="1" /><rect x="845.5" y="2564.5" width="649.7" height="3.0" fill="#000" stroke="none" stroke-width="1" /><text x="88.6" y="2604.8" font-family='"Liberation Serif", serif' font-size="32.5" font-weight="normal" text-anchor="start" fill="#000" >Model</text><text x="391" y="2604.8" font-family='"Liberation Serif", serif' font-size="32.5" font-weight="normal" text-anchor="middle" fill="#000" >Supervision</text><text x="568.2" y="2604.8" font-family='"Liberation Serif", serif' font-size="32.5" font-weight="normal" text-anchor="middle" fill="#000" >ARI<tspan baseline-shift="super" font-size="22.75">*</tspan> <tspan font-size="43.9" baseline-shift="-1.9">↑</tspan></text><text x="730.4" y="2604.8" font-family='"Liberation Serif", serif' font-size="32.5" font-weight="normal" text-anchor="middle" fill="#000" >Fg-ARI<tspan baseline-shift="super" font-size="22.75">*</tspan><tspan font-size="43.9" baseline-shift="-1.9">↑</tspan></text><text x="864.3" y="2604.8" font-family='"Liberation Serif", serif' font-size="32.5" font-weight="normal" text-anchor="start" fill="#000" >Model</text><text x="1135.4" y="2604.8" font-family='"Liberation Serif", serif' font-size="32.5" font-weight="normal" text-anchor="middle" fill="#000" >LPIPS <tspan font-size="43.9" baseline-shift="-1.9">↓</tspan></text><text x="1280.6" y="2604.8" font-family='"Liberation Serif", serif' font-size="32.5" font-weight="normal" text-anchor="middle" fill="#000" >SSIM <tspan font-size="43.9" baseline-shift="-1.9">↑</tspan></text><text x="1418.9" y="2604.8" font-family='"Liberation Serif", serif' font-size="32.5" font-weight="normal" text-anchor="middle" fill="#000" >PSNR <tspan font-size="43.9" baseline-shift="-1.9">↑</tspan></text><rect x="69.8" y="2621.4" width="751.2" height="1.8" fill="#000" stroke="none" stroke-width="1" /><rect x="845.5" y="2621.4" width="649.7" height="1.8" fill="#000" stroke="none" stroke-width="1" /><text x="88.6" y="2661" font-family='"Liberation Serif", serif' font-size="32.5" font-weight="normal" text-anchor="start" fill="#000" >ObSuRF [<tspan fill="#1515E6">35</tspan>]</text><text x="864.3" y="2661" font-family='"Liberation Serif", serif' font-size="32.5" font-weight="normal" text-anchor="start" fill="#000" >ObSuRF [<tspan fill="#1515E6">35</tspan>]</text><text x="390.8" y="2661" font-family='"Liberation Serif", serif' font-size="32.5" font-weight="normal" text-anchor="middle" fill="#000" >image+depth</text><text x="566.6" y="2661" font-family='"Liberation Serif", serif' font-size="32.5" font-weight="normal" text-anchor="middle" fill="#000" ><tspan font-weight="bold">94.6</tspan></text><text x="729.5" y="2661" font-family='"Liberation Serif", serif' font-size="32.5" font-weight="normal" text-anchor="middle" fill="#000" >95.7</text><text x="1135" y="2661" font-family='"Liberation Serif", serif' font-size="32.5" font-weight="normal" text-anchor="middle" fill="#000" >N/A</text><text x="1280" y="2661" font-family='"Liberation Serif", serif' font-size="32.5" font-weight="normal" text-anchor="middle" fill="#000" >N/A</text><text x="1423.2" y="2661" font-family='"Liberation Serif", serif' font-size="32.5" font-weight="normal" text-anchor="middle" fill="#000" >33.69</text><text x="88.6" y="2700.5" font-family='"Liberation Serif", serif' font-size="32.5" font-weight="normal" text-anchor="start" fill="#000" >OSRT<tspan baseline-shift="super" font-size="22.75">†</tspan> [<tspan fill="#1515E6">3</tspan>]</text><text x="864.3" y="2700.5" font-family='"Liberation Serif", serif' font-size="32.5" font-weight="normal" text-anchor="start" fill="#000" >OSRT<tspan baseline-shift="super" font-size="22.75">†</tspan> [<tspan fill="#1515E6">3</tspan>]</text><text x="390.8" y="2700.5" font-family='"Liberation Serif", serif' font-size="32.5" font-weight="normal" text-anchor="middle" fill="#000" >image</text><text x="566.6" y="2700.5" font-family='"Liberation Serif", serif' font-size="32.5" font-weight="normal" text-anchor="middle" fill="#000" >42.7</text><text x="729.5" y="2700.5" font-family='"Liberation Serif", serif' font-size="32.5" font-weight="normal" text-anchor="middle" fill="#000" ><tspan font-weight="bold">97.0</tspan></text><text x="1135" y="2700.5" font-family='"Liberation Serif", serif' font-size="32.5" font-weight="normal" text-anchor="middle" fill="#000" ><tspan text-decoration="underline">0.0367</tspan></text><text x="1280" y="2700.5" font-family='"Liberation Serif", serif' font-size="32.5" font-weight="normal" text-anchor="middle" fill="#000" ><tspan text-decoration="underline">0.9719</tspan></text><text x="1423.2" y="2700.5" font-family='"Liberation Serif", serif' font-size="32.5" font-weight="normal" text-anchor="middle" fill="#000" ><tspan text-decoration="underline">36.74</tspan></text><text x="88.6" y="2737.4" font-family='"Liberation Serif", serif' font-size="32.5" font-weight="normal" text-anchor="start" fill="#000" >sVORF</text><text x="864.3" y="2737.4" font-family='"Liberation Serif", serif' font-size="32.5" font-weight="normal" text-anchor="start" fill="#000" >sVORF</text><text x="390.8" y="2737.4" font-family='"Liberation Serif", serif' font-size="32.5" font-weight="normal" text-anchor="middle" fill="#000" >image</text><text x="566.6" y="2737.4" font-family='"Liberation Serif", serif' font-size="32.5" font-weight="normal" text-anchor="middle" fill="#000" ><tspan text-decoration="underline">86.0</tspan></text><text x="729.5" y="2737.4" font-family='"Liberation Serif", serif' font-size="32.5" font-weight="normal" text-anchor="middle" fill="#000" ><tspan text-decoration="underline">96.3</tspan></text><text x="1135" y="2737.4" font-family='"Liberation Serif", serif' font-size="32.5" font-weight="normal" text-anchor="middle" fill="#000" ><tspan font-weight="bold">0.0258</tspan></text><text x="1280" y="2737.4" font-family='"Liberation Serif", serif' font-size="32.5" font-weight="normal" text-anchor="middle" fill="#000" ><tspan font-weight="bold">0.9759</tspan></text><text x="1423.2" y="2737.4" font-family='"Liberation Serif", serif' font-size="32.5" font-weight="normal" text-anchor="middle" fill="#000" ><tspan font-weight="bold">37.52</tspan></text><rect x="69.8" y="2754.0" width="751.2" height="3.0" fill="#000" stroke="none" stroke-width="1" /><rect x="845.5" y="2754.0" width="649.7" height="3.0" fill="#000" stroke="none" stroke-width="1" /><rect x="2054" y="506" width="368.5" height="825.5" fill="#F8F4F0" stroke="none" stroke-width="1" /><rect x="2450.7" y="506" width="485.6" height="825.3" fill="#F4F0F8" stroke="none" stroke-width="1" /><rect x="2969.4" y="505.7" width="790.4" height="825.3" fill="#D6E0EF" stroke="none" stroke-width="1" /><text x="2065" y="568.3" font-family='"Liberation Sans", sans-serif' font-size="43" font-weight="bold" text-anchor="start" fill="#000" letter-spacing="-0.4">2D Prior</text><text x="2464" y="567" font-family='"Liberation Sans", sans-serif' font-size="43" font-weight="bold" text-anchor="start" fill="#000" letter-spacing="-0.9">Scene Decomposition</text><text x="2992" y="567" font-family='"Liberation Sans", sans-serif' font-size="43" font-weight="bold" text-anchor="start" fill="#000" letter-spacing="-0.9">Scene Composition</text><defs><linearGradient id="cylg" x1="0" x2="1" y1="0" y2="0"><stop offset="0" stop-color="#C9AB98"/><stop offset="0.55" stop-color="#E6CFC2"/><stop offset="0.8" stop-color="#EFC0A0"/><stop offset="1" stop-color="#E3935F"/></linearGradient><radialGradient id="sphg" cx="0.45" cy="0.3" r="0.7"><stop offset="0" stop-color="#FFFFFF"/><stop offset="0.35" stop-color="#EBC4C4"/><stop offset="1" stop-color="#CC8585"/></radialGradient><linearGradient id="curvg" x1="0" x2="1" y1="0" y2="0"><stop offset="0" stop-color="#3A45C0"/><stop offset="0.25" stop-color="#5BA8B8"/><stop offset="0.45" stop-color="#4F7FC8"/><stop offset="0.6" stop-color="#5EA2BA"/><stop offset="0.75" stop-color="#4060C8"/><stop offset="1" stop-color="#3A40B8"/></linearGradient></defs><g transform="translate(1510,680) scale(0.408163)"><polygon points="130,308 655,50 1220,335 690,612" fill="#E8E8E8"/><polygon points="82,450 610,745 610,1320 82,1045" fill="#E6E6E6"/><polygon points="765,735 1295,458 1295,1045 765,1330" fill="#E6E6E6"/><path d="M315,545 L315,960 A172,45 0 0 0 659,960 L659,545 Z" fill="url(#cylg)"/><ellipse cx="487" cy="545" rx="172" ry="50" fill="#F6B684"/><path d="M315,560 L487,600 L660,575 L660,600 L487,640 L315,570 Z" fill="#D99A6C" opacity="0.5"/><circle cx="815" cy="712" r="155" fill="url(#sphg)" opacity="0.9"/><polygon points="635,860 815,975 815,1165 635,1040" fill="#98B8E2"/><polygon points="635,860 770,785 815,810 815,975" fill="#A9CBFA"/><polygon points="765,735 1000,860 1000,1030 815,1165 765,1130" fill="#BFD1EA" opacity="0.92"/><line x1="75" y1="255" x2="1255" y2="1215" stroke="#FF9E9E" stroke-width="12"/><polygon points="40,225 118,245 68,302" fill="#FF9E9E"/><circle cx="340" cy="478" r="22" fill="#7F7F7F"/><circle cx="482" cy="588" r="22" fill="#7F7F7F"/><circle cx="637" cy="712" r="22" fill="#7F7F7F"/><circle cx="785" cy="832" r="22" fill="#7F7F7F"/><path d="M800,858 C805,1000 840,1110 900,1120 C965,1130 1000,1230 1005,1345" fill="none" stroke="#000" stroke-width="7"/><polygon points="978,1330 1032,1330 1005,1385" fill="#000"/></g><text x="1532.4" y="722.9" font-family='"Liberation Serif", serif' font-size="36.7" font-weight="normal" text-anchor="start" fill="#000" >Target View</text><text x="1923" y="1292.2" font-family='"Liberation Serif", serif' font-size="41" font-weight="bold" text-anchor="middle" fill="#000" >(x, d)</text><rect x="2107" y="631.4" width="280.6" height="66.6" fill="#EAEAEA" stroke="none" stroke-width="1" /><text x="2247" y="678.5" font-family='"Liberation Serif", serif' font-size="36.8" font-weight="normal" text-anchor="middle" fill="#000" >Global pooling</text><g transform="translate(2130,790) scale(0.140331)" stroke="#2E6699" stroke-width="9" stroke-linejoin="round"><polygon points="145,755 460,1070 460,1505 145,1190" fill="#7EB0DF"/><rect x="460" y="1200" width="945" height="305" fill="#5B9BD5"/><polygon points="318,452 318,720 575,720" fill="#7EB0DF"/><polygon points="318,452 560,452 740,610 1060,610 1060,520 1255,718 575,718" fill="#4A7DB0"/><polygon points="545,155 740,350 740,600 545,420" fill="#7EB0DF"/><rect x="740" y="350" width="315" height="250" fill="#5B9BD5"/><polygon points="545,155 865,155 1060,350 740,350" fill="#4A7DB0"/><rect x="200" y="728" width="1305" height="477" fill="#F2F2F2" stroke="none"/></g><text x="2249.3" y="939.5" font-family='"Liberation Serif", serif' font-size="36.6" font-weight="normal" text-anchor="middle" fill="#000" >Encoder</text><rect x="2104.8" y="1037.9" width="278.5" height="279.1" fill="#FFFFFF" stroke="#999" stroke-width="1.5" /><rect x="2144" y="1070.3" width="99.8" height="181.7" fill="#FBC59D" stroke="none" stroke-width="1" /><circle cx="2276" cy="1188" r="38" fill="#D08A87"/><rect x="2265.2" y="1172.5" width="78.3" height="79.5" fill="#98B8E4" stroke="none" stroke-width="1" /><text x="2250" y="1300" font-family='"Liberation Serif", serif' font-size="36.5" font-weight="normal" text-anchor="middle" fill="#000" >Input View</text><line x1="2250.0" y1="1037.0" x2="2250.0" y2="1021.0" stroke="#000" stroke-width="2.6"/><polygon points="2250.0,1003.0 2259.0,1022.0 2241.0,1022.0" fill="#000"/><line x1="2246.0" y1="811.0" x2="2246.0" y2="725.0" stroke="#000" stroke-width="2.6"/><polygon points="2246.0,707.0 2255.0,726.0 2237.0,726.0" fill="#000"/><line x1="2388.0" y1="664.5" x2="2517.0" y2="664.5" stroke="#000" stroke-width="2.6"/><polygon points="2535.0,664.5 2516.0,673.5 2516.0,655.5" fill="#000"/><rect x="2496.6" y="783.8" width="414" height="380.5" fill="#E6E6E6" stroke="#BFBFBF" stroke-width="1.5" /><rect x="2535.8" y="619" width="315.8" height="79.7" fill="none" stroke="#AAAAAA" stroke-width="2.4" stroke-dasharray="3,3"/><rect x="2559" y="638.7" width="44.5" height="44.5" fill="#9DBDE7" stroke="#BBBBBB" stroke-width="2.5" /><rect x="2633.7" y="638.7" width="44.5" height="44.5" fill="#9DBDE7" stroke="#BBBBBB" stroke-width="2.5" /><rect x="2709" y="638.7" width="44.5" height="44.5" fill="#9DBDE7" stroke="#BBBBBB" stroke-width="2.5" /><rect x="2783" y="638.7" width="44.5" height="44.5" fill="#9DBDE7" stroke="#BBBBBB" stroke-width="2.5" /><line x1="2698" y1="698.7" x2="2698" y2="731" stroke="#000" stroke-width="2.6" /><circle cx="2698" cy="749" r="18.4" fill="none" stroke="#000" stroke-width="2.4"/><line x1="2679.6" y1="749" x2="2716.4" y2="749" stroke="#000" stroke-width="2.4"/><line x1="2698" y1="730.6" x2="2698" y2="767.4" stroke="#000" stroke-width="2.4"/><line x1="2698.0" y1="767.4" x2="2698.0" y2="807.0" stroke="#000" stroke-width="2.6"/><polygon points="2698.0,825.0 2689.0,806.0 2707.0,806.0" fill="#000"/><text x="2500" y="730.6" font-family='"Liberation Serif", serif' font-size="33.4" font-weight="normal" text-anchor="start" fill="#000" >Positional</text><text x="2495" y="770" font-family='"Liberation Serif", serif' font-size="33.4" font-weight="normal" text-anchor="start" fill="#000" >Encodings</text><line x1="2638.6" y1="747.7" x2="2660.0" y2="747.7" stroke="#000" stroke-width="2.6"/><polygon points="2678.0,747.7 2659.0,756.7 2659.0,738.7" fill="#000"/><rect x="2550.4" y="825.4" width="284" height="67.4" fill="#EBEBEB" stroke="#000" stroke-width="2.5" /><text x="2692.5" y="872.6999999999999" font-family='"Liberation Serif", serif' font-size="36.5" font-weight="normal" text-anchor="middle" fill="#000" >Self-Attention</text><rect x="2550.4" y="945.4" width="284" height="67.4" fill="#EBEBEB" stroke="#000" stroke-width="2.5" /><text x="2692.5" y="992.6999999999999" font-family='"Liberation Serif", serif' font-size="36.5" font-weight="normal" text-anchor="middle" fill="#000" >Cross-Attention</text><rect x="2550.4" y="1066" width="284" height="67.4" fill="#EBEBEB" stroke="#000" stroke-width="2.5" /><text x="2692.5" y="1113.3" font-family='"Liberation Serif", serif' font-size="36.5" font-weight="normal" text-anchor="middle" fill="#000" >FFN</text><polyline points="2698,792.4 2852.8,792.4 2852.8,903.8 2698,903.8" fill="none" stroke="#000" stroke-width="1.8"/><polyline points="2698,914.2 2852.8,914.2 2852.8,1027.5 2698,1027.5" fill="none" stroke="#000" stroke-width="1.8"/><polyline points="2698,1041 2852.8,1041 2852.8,1147 2698,1147" fill="none" stroke="#000" stroke-width="1.8"/><line x1="2698.0" y1="892.8" x2="2698.0" y2="927.0" stroke="#000" stroke-width="2.6"/><polygon points="2698.0,945.0 2689.0,926.0 2707.0,926.0" fill="#000"/><line x1="2698.0" y1="1012.8" x2="2698.0" y2="1047.6" stroke="#000" stroke-width="2.6"/><polygon points="2698.0,1065.6 2689.0,1046.6 2707.0,1046.6" fill="#000"/><line x1="2698.0" y1="1133.0" x2="2698.0" y2="1164.0" stroke="#000" stroke-width="2.6"/><polygon points="2698.0,1182.0 2689.0,1163.0 2707.0,1163.0" fill="#000"/><rect x="2534.5" y="1182.3" width="319.5" height="84" fill="none" stroke="#2F6A9E" stroke-width="2.5" stroke-dasharray="8,5"/><rect x="2559" y="1203" width="44.5" height="44.5" fill="#F9C59F" stroke="#BBBBBB" stroke-width="2.5" /><rect x="2633.7" y="1203" width="44.5" height="44.5" fill="#D08B88" stroke="#BBBBBB" stroke-width="2.5" /><rect x="2709" y="1203" width="44.5" height="44.5" fill="#9BBCE6" stroke="#BBBBBB" stroke-width="2.5" /><rect x="2783" y="1203" width="44.5" height="44.5" fill="#FFFFFF" stroke="#BBBBBB" stroke-width="2.5" /><polyline points="2246,762.4 2434.7,762.4 2434.7,978.5" fill="none" stroke="#000" stroke-width="2.6"/><line x1="2434.7" y1="978.5" x2="2531.0" y2="978.5" stroke="#000" stroke-width="2.6"/><polygon points="2549.0,978.5 2530.0,987.5 2530.0,969.5" fill="#000"/><line x1="2854" y1="1224.5" x2="2952.2" y2="1224.5" stroke="#000" stroke-width="2.6" /><line x1="2952.2" y1="734.7" x2="2952.2" y2="1225.8" stroke="#000" stroke-width="2.6" /><line x1="2951.0" y1="736.0" x2="2984.0" y2="736.0" stroke="#000" stroke-width="2.6"/><polygon points="3002.0,736.0 2983.0,745.0 2983.0,727.0" fill="#000"/><line x1="2951.0" y1="1083.7" x2="2984.0" y2="1083.7" stroke="#000" stroke-width="2.6"/><polygon points="3002.0,1083.7 2983.0,1092.7 2983.0,1074.7" fill="#000"/><line x1="2951.0" y1="1224.5" x2="2985.0" y2="1224.5" stroke="#000" stroke-width="2.6"/><polygon points="3003.0,1224.5 2984.0,1233.5 2984.0,1215.5" fill="#000"/><g transform="translate(2990,600) scale(0.140272)" stroke="#2E6699" stroke-width="9" stroke-linejoin="round"><polygon points="92,465 478,80 1000,80 612,465" fill="#7EB0DF"/><polygon points="612,465 1000,80 1000,1120 612,1510" fill="#4A7DB0"/><rect x="92" y="465" width="520" height="1045" fill="#5B9BD5"/><polygon points="1410,760 1605,585 1605,1105 1410,1300" fill="#4A7DB0"/><polygon points="1400,585 1605,585 1410,760" fill="#7EB0DF"/><polygon points="620,600 940,278 1380,278 1060,600" fill="#7EB0DF"/><polygon points="1060,600 1380,278 1380,1120 1060,1435" fill="#4A7DB0"/><rect x="620" y="600" width="440" height="835" fill="#5B9BD5"/><rect x="100" y="573" width="1310" height="799" fill="#F2F2F2" stroke="none"/></g><text x="3096.2" y="727.6" font-family='"Liberation Serif", serif' font-size="36.5" font-weight="normal" text-anchor="middle" fill="#000" >Hyper</text><text x="3096.2" y="771.4" font-family='"Liberation Serif", serif' font-size="36.5" font-weight="normal" text-anchor="middle" fill="#000" >network</text><line x1="3215.0" y1="736.0" x2="3252.0" y2="736.0" stroke="#000" stroke-width="2.6"/><polygon points="3270.0,736.0 3251.0,745.0 3251.0,727.0" fill="#000"/><text x="3403.5" y="607.5" font-family='"Liberation Serif", serif' font-size="42" font-weight="bold" text-anchor="start" fill="#000" >(</text><text x="3420" y="607.5" font-family='"Liberation Serif", serif' font-size="44" font-weight="normal" text-anchor="start" fill="#000" font-style="italic">γ</text><text x="3453" y="607.5" font-family='"Liberation Serif", serif' font-size="41.5" font-weight="bold" text-anchor="start" fill="#000" >(x), d)</text><line x1="3501.8" y1="618.6" x2="3501.8" y2="645.8" stroke="#000" stroke-width="2.6"/><polygon points="3501.8,663.8 3492.8,644.8 3510.8,644.8" fill="#000"/><g transform="translate(3260,580) scale(0.229568)"><rect x="47" y="255" width="2078" height="635" fill="none" stroke="#2F6A9E" stroke-width="9" stroke-dasharray="30,20"/><rect x="177" y="370" width="82" height="107" fill="#FAC49A" stroke="#000" stroke-width="9"/><rect x="177" y="706" width="82" height="136" fill="#FAC49A" stroke="#000" stroke-width="9"/><rect x="294" y="370" width="82" height="107" fill="#FAC49A" stroke="#000" stroke-width="9"/><rect x="294" y="706" width="82" height="136" fill="#FAC49A" stroke="#000" stroke-width="9"/><rect x="406" y="370" width="82" height="107" fill="#FAC49A" stroke="#000" stroke-width="9"/><rect x="406" y="706" width="82" height="136" fill="#FAC49A" stroke="#000" stroke-width="9"/><rect x="118" y="477" width="424" height="229" fill="#FFFFFF" stroke="#000" stroke-width="9"/><text x="330" y="628" font-family='"Liberation Serif", serif' font-size="106" text-anchor="middle">MLP</text><rect x="691" y="370" width="82" height="107" fill="#D08B88" stroke="#000" stroke-width="9"/><rect x="691" y="706" width="82" height="136" fill="#D08B88" stroke="#000" stroke-width="9"/><rect x="808" y="370" width="82" height="107" fill="#D08B88" stroke="#000" stroke-width="9"/><rect x="808" y="706" width="82" height="136" fill="#D08B88" stroke="#000" stroke-width="9"/><rect x="920" y="370" width="82" height="107" fill="#D08B88" stroke="#000" stroke-width="9"/><rect x="920" y="706" width="82" height="136" fill="#D08B88" stroke="#000" stroke-width="9"/><rect x="632" y="477" width="424" height="229" fill="#FFFFFF" stroke="#000" stroke-width="9"/><text x="844" y="628" font-family='"Liberation Serif", serif' font-size="106" text-anchor="middle">MLP</text><rect x="1180" y="370" width="82" height="107" fill="#96B9E6" stroke="#000" stroke-width="9"/><rect x="1180" y="706" width="82" height="136" fill="#96B9E6" stroke="#000" stroke-width="9"/><rect x="1297" y="370" width="82" height="107" fill="#96B9E6" stroke="#000" stroke-width="9"/><rect x="1297" y="706" width="82" height="136" fill="#96B9E6" stroke="#000" stroke-width="9"/><rect x="1409" y="370" width="82" height="107" fill="#96B9E6" stroke="#000" stroke-width="9"/><rect x="1409" y="706" width="82" height="136" fill="#96B9E6" stroke="#000" stroke-width="9"/><rect x="1121" y="477" width="424" height="229" fill="#FFFFFF" stroke="#000" stroke-width="9"/><text x="1333" y="628" font-family='"Liberation Serif", serif' font-size="106" text-anchor="middle">MLP</text><rect x="1687" y="370" width="82" height="107" fill="#FFFFFF" stroke="#000" stroke-width="9"/><rect x="1687" y="706" width="82" height="136" fill="#FFFFFF" stroke="#000" stroke-width="9"/><rect x="1804" y="370" width="82" height="107" fill="#FFFFFF" stroke="#000" stroke-width="9"/><rect x="1804" y="706" width="82" height="136" fill="#FFFFFF" stroke="#000" stroke-width="9"/><rect x="1916" y="370" width="82" height="107" fill="#FFFFFF" stroke="#000" stroke-width="9"/><rect x="1916" y="706" width="82" height="136" fill="#FFFFFF" stroke="#000" stroke-width="9"/><rect x="1628" y="477" width="424" height="229" fill="#FFFFFF" stroke="#000" stroke-width="9"/><text x="1840" y="628" font-family='"Liberation Serif", serif' font-size="106" text-anchor="middle">MLP</text></g><line x1="3327.7" y1="790.7" x2="3327.7" y2="819.7" stroke="#000" stroke-width="2.6"/><polygon points="3327.7,836.7 3319.2,818.7 3336.2,818.7" fill="#000"/><line x1="3459.3" y1="790.7" x2="3459.3" y2="819.7" stroke="#000" stroke-width="2.6"/><polygon points="3459.3,836.7 3450.8,818.7 3467.8,818.7" fill="#000"/><line x1="3569.5" y1="790.7" x2="3569.5" y2="819.7" stroke="#000" stroke-width="2.6"/><polygon points="3569.5,836.7 3561.0,818.7 3578.0,818.7" fill="#000"/><line x1="3677.1" y1="790.7" x2="3677.1" y2="819.7" stroke="#000" stroke-width="2.6"/><polygon points="3677.1,836.7 3668.6,818.7 3685.6,818.7" fill="#000"/><rect x="3269.6" y="852" width="482.8" height="72.4" fill="none" stroke="#2F6A9E" stroke-width="2.1" stroke-dasharray="7,4.6"/><text x="3303.6" y="905.5" font-family='"Liberation Serif", serif' font-size="44" font-weight="normal" text-anchor="start" fill="#000" >(<tspan font-style="italic">σ</tspan><tspan font-size="28" dy="8">1</tspan><tspan dy="-8">, </tspan><tspan font-style="italic" font-weight="bold">c</tspan><tspan font-size="28" dy="8">1</tspan><tspan dy="-8">)</tspan></text><text x="3502.9" y="900" font-family='"Liberation Serif", serif' font-size="30" font-weight="normal" text-anchor="middle" fill="#000" >···</text><text x="3574.5" y="905.5" font-family='"Liberation Serif", serif' font-size="44" font-weight="normal" text-anchor="start" fill="#000" >(<tspan font-style="italic">σ</tspan><tspan font-size="28" font-style="italic" dy="8">K</tspan><tspan dy="-8">, </tspan><tspan font-style="italic" font-weight="bold">c</tspan><tspan font-size="28" font-style="italic" dy="8">K</tspan><tspan dy="-8">)</tspan></text><line x1="3505.6" y1="925.0" x2="3505.6" y2="956.0" stroke="#000" stroke-width="2.6"/><polygon points="3505.6,974.0 3496.6,955.0 3514.6,955.0" fill="#000"/><circle cx="3505.1" cy="996.1" r="18.4" fill="none" stroke="#000" stroke-width="2.4"/><line x1="3492.0912" y1="983.0912000000001" x2="3518.1088" y2="1009.1088" stroke="#000" stroke-width="2.4"/><line x1="3492.0912" y1="1009.1088" x2="3518.1088" y2="983.0912000000001" stroke="#000" stroke-width="2.4"/><line x1="3524.0" y1="996.1" x2="3599.0" y2="996.1" stroke="#000" stroke-width="2.6"/><polygon points="3617.0,996.1 3598.0,1005.1 3598.0,987.1" fill="#000"/><circle cx="3643.2" cy="996.1" r="18.4" fill="none" stroke="#000" stroke-width="2.4"/><line x1="3624.7999999999997" y1="996.1" x2="3661.6" y2="996.1" stroke="#000" stroke-width="2.4"/><line x1="3643.2" y1="977.7" x2="3643.2" y2="1014.5" stroke="#000" stroke-width="2.4"/><line x1="3662.0" y1="996.1" x2="3763.0" y2="996.1" stroke="#000" stroke-width="2.6"/><polygon points="3781.0,996.1 3762.0,1005.1 3762.0,987.1" fill="#000"/><text x="3783.6" y="1001" font-family='"Liberation Serif", serif' font-size="46" font-weight="normal" text-anchor="start" fill="#000" >(</text><text x="3800" y="1001" font-family='"Liberation Serif", serif' font-size="46" font-weight="normal" text-anchor="start" fill="#000" font-style="italic">σ</text><text x="3826" y="1001" font-family='"Liberation Serif", serif' font-size="46" font-weight="normal" text-anchor="start" fill="#000" >,</text><text x="3864" y="1001" font-family='"Liberation Serif", serif' font-size="46" font-weight="bold" text-anchor="start" fill="#000" font-style="italic">c</text><text x="3888" y="1001" font-family='"Liberation Serif", serif' font-size="46" font-weight="normal" text-anchor="start" fill="#000" >)</text><line x1="3804" y1="973.5" x2="3823" y2="973.5" stroke="#000" stroke-width="2.6" /><line x1="3868" y1="973.5" x2="3889" y2="973.5" stroke="#000" stroke-width="3.2" /><rect x="3002.4" y="1026.7" width="282.9" height="113.3" fill="#EBEBEB" stroke="#000" stroke-width="2.5" /><text x="3144.5" y="1074" font-family='"Liberation Serif", serif' font-size="36.5" font-weight="normal" text-anchor="middle" fill="#000" >Attention</text><text x="3144.5" y="1120" font-family='"Liberation Serif", serif' font-size="36.5" font-weight="normal" text-anchor="middle" fill="#000" >Block</text><rect x="3003.7" y="1172.5" width="282.3" height="112.5" fill="#EBEBEB" stroke="#000" stroke-width="2.5" /><text x="3145" y="1220.8" font-family='"Liberation Serif", serif' font-size="36.5" font-weight="normal" text-anchor="middle" fill="#000" >Aggregation</text><text x="3145" y="1265" font-family='"Liberation Serif", serif' font-size="36.5" font-weight="normal" text-anchor="middle" fill="#000" >Block</text><line x1="3144.5" y1="1172.0" x2="3144.5" y2="1159.0" stroke="#000" stroke-width="2.6"/><polygon points="3144.5,1141.0 3153.5,1160.0 3135.5,1160.0" fill="#000"/><line x1="3285.5" y1="1084.0" x2="3357.3" y2="1083.2" stroke="#000" stroke-width="2.6"/><polygon points="3375.3,1083.0 3356.4,1092.2 3356.2,1074.2" fill="#000"/><rect x="3384.3" y="1053.9" width="253" height="72.7" fill="none" stroke="#2F6A9E" stroke-width="2.1" stroke-dasharray="7,4.6"/><text x="3403.7" y="1103.5" font-family='"Liberation Serif", serif' font-size="44" font-weight="normal" text-anchor="start" fill="#000" >(<tspan font-style="italic">m</tspan><tspan font-size="28" dy="8">1</tspan><tspan dy="-8">, …, </tspan><tspan font-style="italic">m</tspan><tspan font-size="28" font-style="italic" dy="8">K</tspan><tspan dy="-8">)</tspan></text><line x1="3504.4" y1="1053.5" x2="3504.4" y2="1038.0" stroke="#000" stroke-width="2.6"/><polygon points="3504.4,1020.0 3513.4,1039.0 3495.4,1039.0" fill="#000"/><line x1="3377.7" y1="1225.7" x2="3306.0" y2="1226.1" stroke="#000" stroke-width="2.6"/><polygon points="3288.0,1226.2 3306.9,1217.1 3307.0,1235.1" fill="#000"/><text x="3405" y="1235.6" font-family='"Liberation Serif", serif' font-size="44" font-weight="normal" text-anchor="start" fill="#000" font-style="italic">γ</text><text x="3427" y="1235.6" font-family='"Liberation Serif", serif' font-size="43" font-weight="bold" text-anchor="start" fill="#000" >(x)</text><rect x="3577.1" y="1183" width="141.6" height="102.2" rx="16.5" fill="none" stroke="#A8A39E" stroke-width="2"/><circle cx="3609.7" cy="1208.5" r="13" fill="none" stroke="#000" stroke-width="2.2"/><line x1="3600.509" y1="1199.309" x2="3618.8909999999996" y2="1217.691" stroke="#000" stroke-width="2.2"/><line x1="3600.509" y1="1217.691" x2="3618.8909999999996" y2="1199.309" stroke="#000" stroke-width="2.2"/><circle cx="3609.7" cy="1253.3" r="13" fill="none" stroke="#000" stroke-width="2.2"/><line x1="3596.7" y1="1253.3" x2="3622.7" y2="1253.3" stroke="#000" stroke-width="2.2"/><line x1="3609.7" y1="1240.3" x2="3609.7" y2="1266.3" stroke="#000" stroke-width="2.2"/><text x="3630" y="1220.3" font-family='"Liberation Serif", serif' font-size="32" font-weight="normal" text-anchor="start" fill="#000" >: Mul</text><text x="3630" y="1266.3" font-family='"Liberation Serif", serif' font-size="32" font-weight="normal" text-anchor="start" fill="#000" >: Sum</text><text x="3856.5" y="566.2" font-family='"Liberation Serif", serif' font-size="43" font-weight="normal" text-anchor="start" fill="#000" >Volume Rendering</text><g transform="translate(3780,520) scale(0.318878)"><line x1="268" y1="970" x2="268" y2="440" stroke="#000" stroke-width="9"/><polygon points="268,388 240,442 296,442" fill="#000"/><line x1="264" y1="968" x2="1225" y2="968" stroke="#000" stroke-width="9"/><polygon points="1280,968 1222,940 1222,996" fill="#000"/><path d="M320,968 C360,870 400,790 470,772 C540,760 600,810 665,838 C720,850 740,760 800,690 C840,640 860,700 880,760 C910,860 960,890 1040,888 C1110,886 1160,870 1212,860" fill="none" stroke="url(#curvg)" stroke-width="11"/><path d="M85,1340 C85,1100 120,850 200,722" fill="none" stroke="#000" stroke-width="8"/><polygon points="222,700 170,722 208,755" fill="#000"/><line x1="775" y1="1052" x2="775" y2="1450" stroke="#000" stroke-width="8"/><polygon points="775,1502 746,1445 804,1445" fill="#000"/></g><text x="3834" y="683" font-family='"Liberation Sans", sans-serif' font-size="26" font-weight="bold" text-anchor="middle" fill="#1a1a1a" >σ</text><rect x="3878" y="1028" width="289.6" height="286.5" fill="#FFFFFF" stroke="#999" stroke-width="1.5" /><rect x="3906.7" y="1061.6" width="98.6" height="182.4" fill="#FBC59D" stroke="none" stroke-width="1" /><circle cx="4064.7" cy="1184" r="49" fill="#D08A87"/><rect x="3979" y="1163.9" width="79.6" height="80.1" fill="#98B8E4" stroke="none" stroke-width="1" /><text x="4021.8" y="1294.3" font-family='"Liberation Serif", serif' font-size="36.7" font-weight="normal" text-anchor="middle" fill="#000" >Target View</text><defs><filter id="bl1" x="-10%" y="-10%" width="120%" height="120%"><feGaussianBlur stdDeviation="3"/></filter><filter id="bl2" x="-10%" y="-10%" width="120%" height="120%"><feGaussianBlur stdDeviation="6"/></filter><filter id="bl3" x="-10%" y="-10%" width="120%" height="120%"><feGaussianBlur stdDeviation="10"/></filter><filter id="bl4" x="-30%" y="-60%" width="160%" height="220%"><feGaussianBlur stdDeviation="22"/></filter><linearGradient id="clvA" x1="0" y1="0" x2="0" y2="1"><stop offset="0" stop-color="#68686A"/><stop offset="0.35" stop-color="#848589"/><stop offset="0.6" stop-color="#96969A"/><stop offset="1" stop-color="#9A9896"/></linearGradient><linearGradient id="clvB" x1="0" y1="0" x2="0" y2="1"><stop offset="0" stop-color="#5E5E5E"/><stop offset="0.14" stop-color="#7C7C7C"/><stop offset="0.32" stop-color="#8C8C90"/><stop offset="1" stop-color="#848489"/></linearGradient><linearGradient id="osA" x1="0" y1="0" x2="0" y2="1"><stop offset="0" stop-color="#6E6E6E"/><stop offset="0.3" stop-color="#8E8E90"/><stop offset="0.55" stop-color="#9A9AA2"/><stop offset="1" stop-color="#A9A6A2"/></linearGradient><linearGradient id="osB" x1="0" y1="0" x2="0" y2="1"><stop offset="0" stop-color="#6A6A6A"/><stop offset="0.25" stop-color="#8A8A8A"/><stop offset="0.45" stop-color="#A3A3A5"/><stop offset="1" stop-color="#9696A4"/></linearGradient><linearGradient id="rcA" x1="0" y1="0" x2="0" y2="1"><stop offset="0" stop-color="#5A5654"/><stop offset="0.2" stop-color="#3A302A"/><stop offset="1" stop-color="#3A3029"/></linearGradient><linearGradient id="rdA" x1="0" y1="0" x2="0" y2="1"><stop offset="0" stop-color="#8B8985"/><stop offset="0.3" stop-color="#857868"/><stop offset="0.7" stop-color="#7E7062"/><stop offset="1" stop-color="#6E6054"/></linearGradient></defs><defs><linearGradient id="rcw" x1="0" y1="0" x2="1" y2="0"><stop offset="0" stop-color="#7E7C7A"/><stop offset="0.6" stop-color="#949290"/><stop offset="1" stop-color="#A8A6A4"/></linearGradient></defs><defs><linearGradient id="rdw" x1="0" y1="0" x2="1" y2="0"><stop offset="0" stop-color="#8E8C88"/><stop offset="1" stop-color="#AAA8A4"/></linearGradient></defs><svg x="1636.8" y="1631.8" width="168.9" height="168.9" viewBox="0 0 495 495" preserveAspectRatio="none" overflow="hidden"><rect width="495" height="495" fill="url(#clvA)"/><ellipse cx="120" cy="210" rx="220" ry="55" fill="#A4A4AE" opacity="0.5" filter="url(#bl4)"/><ellipse cx="470" cy="470" rx="200" ry="160" fill="#707070" opacity="0.45" filter="url(#bl4)"/><ellipse cx="170" cy="240" rx="60" ry="18" fill="#5A5A5C" opacity="0.5"/><path d="M128,85 L128,215 A45,15.749999999999998 0 0 0 218,215 L218,85 Z" fill="#6B6B6B"/><ellipse cx="173" cy="85" rx="45" ry="15.749999999999998" fill="#7A7A7A"/><path d="M65,140 L65,290 A50,17.5 0 0 0 165,290 L165,140 Z" fill="#787878"/><ellipse cx="115" cy="140" rx="50" ry="17.5" fill="#858585"/><path d="M230,120 L230,265 A47,16.45 0 0 0 324,265 L324,120 Z" fill="#3FAEAE"/><ellipse cx="277" cy="120" rx="47" ry="16.45" fill="#4FC0C0"/><rect x="322" y="123.75" width="66" height="86.25" fill="#35A2A2"/><polygon points="322,123.75 338.5,95 388,95 388,103.625 371.5,123.75" fill="#48B8B8"/><path d="M375,215 L375,275 A27,9.45 0 0 0 429,275 L429,215 Z" fill="#A03636"/><ellipse cx="402" cy="215" rx="27" ry="9.45" fill="#B84848"/><path d="M294,255 L294,320 A26,9.1 0 0 0 346,320 L346,255 Z" fill="#2F7D32"/><ellipse cx="320" cy="255" rx="26" ry="9.1" fill="#3C9240"/><path d="M180,315 L180,395 A28,9.799999999999999 0 0 0 236,395 L236,315 Z" fill="#4B70C6"/><ellipse cx="208" cy="315" rx="28" ry="9.799999999999999" fill="#5A80D6"/></svg><svg x="1636.8" y="1809.2" width="168.9" height="168.2" viewBox="0 0 495 495" preserveAspectRatio="none" overflow="hidden"><rect width="495" height="495" fill="url(#clvB)"/><path d="M-20,140 Q230,20 520,140 L520,80 Q230,-20 -20,80 Z" fill="#B4B2AC" opacity="0.6" filter="url(#bl4)"/><path d="M295,90 L295,215 A45,15.749999999999998 0 0 0 385,215 L385,90 Z" fill="#686868"/><ellipse cx="340" cy="90" rx="45" ry="15.749999999999998" fill="#777"/><path d="M317,145 L317,300 A53,18.549999999999997 0 0 0 423,300 L423,145 Z" fill="#6A6A6A"/><ellipse cx="370" cy="145" rx="53" ry="18.549999999999997" fill="#797979"/><path d="M195,105 L195,140 A18,6.3 0 0 0 231,140 L231,105 Z" fill="#4060B8"/><ellipse cx="213" cy="105" rx="18" ry="6.3" fill="#5070C8"/><path d="M136,180 L136,235 A22,7.699999999999999 0 0 0 180,235 L180,180 Z" fill="#2F7D32"/><ellipse cx="158" cy="180" rx="22" ry="7.699999999999999" fill="#3C9240"/><path d="M185,150 L185,305 A50,17.5 0 0 0 285,305 L285,150 Z" fill="#3FAEAE"/><ellipse cx="235" cy="150" rx="50" ry="17.5" fill="#4FC0C0"/><path d="M69,245 L69,310 A28,9.799999999999999 0 0 0 125,310 L125,245 Z" fill="#A03636"/><ellipse cx="97" cy="245" rx="28" ry="9.799999999999999" fill="#B84848"/><polygon points="140,290 215,260 245,300 240,405 190,420 140,390" fill="#36A4A4"/><polygon points="140,290 215,260 245,300 170,320" fill="#48B8B8"/></svg><svg x="1638.8" y="1986" width="166.9" height="167.8" viewBox="0 0 495 495" preserveAspectRatio="none" overflow="hidden"><rect width="495" height="495" fill="#404040"/><rect x="191" y="102" width="40" height="45" rx="10" fill="#00FFFF"/><rect x="291" y="67" width="92" height="145" rx="40" fill="#FF00FF"/><rect x="131" y="162" width="47" height="80" rx="22" fill="#0000FF"/><rect x="178" y="132" width="103" height="175" rx="45" fill="#00FF00"/><path d="M318,127 L405,130 Q421,140 418,200 L410,300 Q380,315 318,300 Q305,230 318,127 Z" fill="#B9B9B9"/><rect x="63" y="227" width="62" height="95" rx="28" fill="#FFFF00"/><polygon points="150,260 243,270 240,360 225,417 140,400 138,320" fill="#FF0000"/></svg><svg x="1814.2" y="1631.8" width="168.9" height="168.9" viewBox="0 0 495 495" preserveAspectRatio="none" overflow="hidden"><rect width="495" height="495" fill="url(#clvA)"/><ellipse cx="120" cy="210" rx="220" ry="55" fill="#A4A4AE" opacity="0.5" filter="url(#bl4)"/><ellipse cx="470" cy="470" rx="200" ry="160" fill="#707070" opacity="0.45" filter="url(#bl4)"/><g filter="url(#bl2)"><ellipse cx="170" cy="240" rx="60" ry="18" fill="#5A5A5C" opacity="0.5"/><path d="M128,85 L128,215 A45,15.749999999999998 0 0 0 218,215 L218,85 Z" fill="#6B6B6B"/><ellipse cx="173" cy="85" rx="45" ry="15.749999999999998" fill="#7A7A7A"/><path d="M65,140 L65,290 A50,17.5 0 0 0 165,290 L165,140 Z" fill="#787878"/><ellipse cx="115" cy="140" rx="50" ry="17.5" fill="#858585"/><path d="M230,120 L230,265 A47,16.45 0 0 0 324,265 L324,120 Z" fill="#3FAEAE"/><ellipse cx="277" cy="120" rx="47" ry="16.45" fill="#4FC0C0"/><rect x="322" y="123.75" width="66" height="86.25" fill="#35A2A2"/><polygon points="322,123.75 338.5,95 388,95 388,103.625 371.5,123.75" fill="#48B8B8"/><path d="M375,215 L375,275 A27,9.45 0 0 0 429,275 L429,215 Z" fill="#A03636"/><ellipse cx="402" cy="215" rx="27" ry="9.45" fill="#B84848"/><path d="M294,255 L294,320 A26,9.1 0 0 0 346,320 L346,255 Z" fill="#2F7D32"/><ellipse cx="320" cy="255" rx="26" ry="9.1" fill="#3C9240"/><path d="M180,315 L180,395 A28,9.799999999999999 0 0 0 236,395 L236,315 Z" fill="#4B70C6"/><ellipse cx="208" cy="315" rx="28" ry="9.799999999999999" fill="#5A80D6"/></g></svg><svg x="1814.2" y="1809.2" width="168.9" height="168.2" viewBox="0 0 495 495" preserveAspectRatio="none" overflow="hidden"><rect width="495" height="495" fill="url(#clvB)"/><path d="M-20,140 Q230,20 520,140 L520,80 Q230,-20 -20,80 Z" fill="#B4B2AC" opacity="0.6" filter="url(#bl4)"/><g filter="url(#bl2)"><path d="M295,90 L295,215 A45,15.749999999999998 0 0 0 385,215 L385,90 Z" fill="#686868"/><ellipse cx="340" cy="90" rx="45" ry="15.749999999999998" fill="#777"/><path d="M317,145 L317,300 A53,18.549999999999997 0 0 0 423,300 L423,145 Z" fill="#6A6A6A"/><ellipse cx="370" cy="145" rx="53" ry="18.549999999999997" fill="#797979"/><path d="M195,105 L195,140 A18,6.3 0 0 0 231,140 L231,105 Z" fill="#4060B8"/><ellipse cx="213" cy="105" rx="18" ry="6.3" fill="#5070C8"/><path d="M136,180 L136,235 A22,7.699999999999999 0 0 0 180,235 L180,180 Z" fill="#2F7D32"/><ellipse cx="158" cy="180" rx="22" ry="7.699999999999999" fill="#3C9240"/><path d="M185,150 L185,305 A50,17.5 0 0 0 285,305 L285,150 Z" fill="#3FAEAE"/><ellipse cx="235" cy="150" rx="50" ry="17.5" fill="#4FC0C0"/><path d="M69,245 L69,310 A28,9.799999999999999 0 0 0 125,310 L125,245 Z" fill="#A03636"/><ellipse cx="97" cy="245" rx="28" ry="9.799999999999999" fill="#B84848"/><polygon points="140,290 215,260 245,300 240,405 190,420 140,390" fill="#36A4A4"/><polygon points="140,290 215,260 245,300 170,320" fill="#48B8B8"/></g></svg><svg x="1816.2" y="1986" width="166.9" height="167.8" viewBox="0 0 495 495" preserveAspectRatio="none" overflow="hidden"><rect width="495" height="495" fill="#404040"/><rect x="190" y="100" width="40" height="70" rx="15" fill="#00FFFF"/><rect x="290" y="70" width="90" height="150" rx="40" fill="#FF00FF"/><path d="M305,140 L400,135 Q425,160 420,250 Q410,310 360,305 Q300,290 305,140 Z" fill="#B9B9B9"/><rect x="135" y="170" width="40" height="75" rx="18" fill="#0000FF"/><rect x="165" y="150" width="110" height="195" rx="45" fill="#00FF00"/><rect x="85" y="245" width="70" height="110" rx="30" fill="#FFFF00"/></svg><svg x="1991" y="1631.8" width="168.9" height="168.9" viewBox="0 0 495 495" preserveAspectRatio="none" overflow="hidden"><rect width="495" height="495" fill="url(#clvA)"/><ellipse cx="120" cy="210" rx="220" ry="55" fill="#A4A4AE" opacity="0.5" filter="url(#bl4)"/><ellipse cx="470" cy="470" rx="200" ry="160" fill="#707070" opacity="0.45" filter="url(#bl4)"/><g filter="url(#bl1)"><ellipse cx="170" cy="240" rx="60" ry="18" fill="#5A5A5C" opacity="0.5"/><path d="M128,85 L128,215 A45,15.749999999999998 0 0 0 218,215 L218,85 Z" fill="#6B6B6B"/><ellipse cx="173" cy="85" rx="45" ry="15.749999999999998" fill="#7A7A7A"/><path d="M65,140 L65,290 A50,17.5 0 0 0 165,290 L165,140 Z" fill="#787878"/><ellipse cx="115" cy="140" rx="50" ry="17.5" fill="#858585"/><path d="M230,120 L230,265 A47,16.45 0 0 0 324,265 L324,120 Z" fill="#3FAEAE"/><ellipse cx="277" cy="120" rx="47" ry="16.45" fill="#4FC0C0"/><rect x="322" y="123.75" width="66" height="86.25" fill="#35A2A2"/><polygon points="322,123.75 338.5,95 388,95 388,103.625 371.5,123.75" fill="#48B8B8"/><path d="M375,215 L375,275 A27,9.45 0 0 0 429,275 L429,215 Z" fill="#A03636"/><ellipse cx="402" cy="215" rx="27" ry="9.45" fill="#B84848"/><path d="M294,255 L294,320 A26,9.1 0 0 0 346,320 L346,255 Z" fill="#2F7D32"/><ellipse cx="320" cy="255" rx="26" ry="9.1" fill="#3C9240"/><path d="M180,315 L180,395 A28,9.799999999999999 0 0 0 236,395 L236,315 Z" fill="#4B70C6"/><ellipse cx="208" cy="315" rx="28" ry="9.799999999999999" fill="#5A80D6"/></g></svg><svg x="1991" y="1809.2" width="168.9" height="168.2" viewBox="0 0 495 495" preserveAspectRatio="none" overflow="hidden"><rect width="495" height="495" fill="url(#clvB)"/><path d="M-20,140 Q230,20 520,140 L520,80 Q230,-20 -20,80 Z" fill="#B4B2AC" opacity="0.6" filter="url(#bl4)"/><g filter="url(#bl1)"><path d="M295,90 L295,215 A45,15.749999999999998 0 0 0 385,215 L385,90 Z" fill="#686868"/><ellipse cx="340" cy="90" rx="45" ry="15.749999999999998" fill="#777"/><path d="M317,145 L317,300 A53,18.549999999999997 0 0 0 423,300 L423,145 Z" fill="#6A6A6A"/><ellipse cx="370" cy="145" rx="53" ry="18.549999999999997" fill="#797979"/><path d="M195,105 L195,140 A18,6.3 0 0 0 231,140 L231,105 Z" fill="#4060B8"/><ellipse cx="213" cy="105" rx="18" ry="6.3" fill="#5070C8"/><path d="M136,180 L136,235 A22,7.699999999999999 0 0 0 180,235 L180,180 Z" fill="#2F7D32"/><ellipse cx="158" cy="180" rx="22" ry="7.699999999999999" fill="#3C9240"/><path d="M185,150 L185,305 A50,17.5 0 0 0 285,305 L285,150 Z" fill="#3FAEAE"/><ellipse cx="235" cy="150" rx="50" ry="17.5" fill="#4FC0C0"/><path d="M69,245 L69,310 A28,9.799999999999999 0 0 0 125,310 L125,245 Z" fill="#A03636"/><ellipse cx="97" cy="245" rx="28" ry="9.799999999999999" fill="#B84848"/><polygon points="140,290 215,260 245,300 240,405 190,420 140,390" fill="#36A4A4"/><polygon points="140,290 215,260 245,300 170,320" fill="#48B8B8"/></g></svg><svg x="1993" y="1986" width="166.9" height="167.8" viewBox="0 0 495 495" preserveAspectRatio="none" overflow="hidden"><rect width="495" height="495" fill="#404040"/><rect x="195" y="100" width="40" height="50" rx="10" fill="#00FFFF"/><rect x="290" y="65" width="100" height="170" rx="45" fill="#FF00FF"/><rect x="115" y="165" width="70" height="130" rx="30" fill="#0000FF"/><rect x="175" y="135" width="125" height="240" rx="50" fill="#00FF00"/><path d="M300,125 L410,130 Q420,150 415,260 Q455,300 440,330 Q400,360 345,310 Q300,260 300,125 Z" fill="#B9B9B9"/><rect x="52" y="230" width="90" height="125" rx="40" fill="#FFFF00"/><polygon points="140,275 240,280 290,400 280,485 175,490 140,420" fill="#FF0000"/></svg><svg x="2169" y="1631.8" width="169.0" height="168.9" viewBox="0 0 495 495" preserveAspectRatio="none" overflow="hidden"><rect width="495" height="495" fill="url(#clvA)"/><ellipse cx="120" cy="210" rx="220" ry="55" fill="#A4A4AE" opacity="0.5" filter="url(#bl4)"/><ellipse cx="470" cy="470" rx="200" ry="160" fill="#707070" opacity="0.45" filter="url(#bl4)"/><ellipse cx="170" cy="240" rx="60" ry="18" fill="#5A5A5C" opacity="0.5"/><path d="M128,85 L128,215 A45,15.749999999999998 0 0 0 218,215 L218,85 Z" fill="#6B6B6B"/><ellipse cx="173" cy="85" rx="45" ry="15.749999999999998" fill="#7A7A7A"/><path d="M65,140 L65,290 A50,17.5 0 0 0 165,290 L165,140 Z" fill="#787878"/><ellipse cx="115" cy="140" rx="50" ry="17.5" fill="#858585"/><path d="M230,120 L230,265 A47,16.45 0 0 0 324,265 L324,120 Z" fill="#3FAEAE"/><ellipse cx="277" cy="120" rx="47" ry="16.45" fill="#4FC0C0"/><rect x="322" y="123.75" width="66" height="86.25" fill="#35A2A2"/><polygon points="322,123.75 338.5,95 388,95 388,103.625 371.5,123.75" fill="#48B8B8"/><path d="M375,215 L375,275 A27,9.45 0 0 0 429,275 L429,215 Z" fill="#A03636"/><ellipse cx="402" cy="215" rx="27" ry="9.45" fill="#B84848"/><path d="M294,255 L294,320 A26,9.1 0 0 0 346,320 L346,255 Z" fill="#2F7D32"/><ellipse cx="320" cy="255" rx="26" ry="9.1" fill="#3C9240"/><path d="M180,315 L180,395 A28,9.799999999999999 0 0 0 236,395 L236,315 Z" fill="#4B70C6"/><ellipse cx="208" cy="315" rx="28" ry="9.799999999999999" fill="#5A80D6"/></svg><svg x="2169" y="1809.2" width="169.0" height="168.2" viewBox="0 0 495 495" preserveAspectRatio="none" overflow="hidden"><rect width="495" height="495" fill="url(#clvB)"/><path d="M-20,140 Q230,20 520,140 L520,80 Q230,-20 -20,80 Z" fill="#B4B2AC" opacity="0.6" filter="url(#bl4)"/><path d="M295,90 L295,215 A45,15.749999999999998 0 0 0 385,215 L385,90 Z" fill="#686868"/><ellipse cx="340" cy="90" rx="45" ry="15.749999999999998" fill="#777"/><path d="M317,145 L317,300 A53,18.549999999999997 0 0 0 423,300 L423,145 Z" fill="#6A6A6A"/><ellipse cx="370" cy="145" rx="53" ry="18.549999999999997" fill="#797979"/><path d="M195,105 L195,140 A18,6.3 0 0 0 231,140 L231,105 Z" fill="#4060B8"/><ellipse cx="213" cy="105" rx="18" ry="6.3" fill="#5070C8"/><path d="M136,180 L136,235 A22,7.699999999999999 0 0 0 180,235 L180,180 Z" fill="#2F7D32"/><ellipse cx="158" cy="180" rx="22" ry="7.699999999999999" fill="#3C9240"/><path d="M185,150 L185,305 A50,17.5 0 0 0 285,305 L285,150 Z" fill="#3FAEAE"/><ellipse cx="235" cy="150" rx="50" ry="17.5" fill="#4FC0C0"/><path d="M69,245 L69,310 A28,9.799999999999999 0 0 0 125,310 L125,245 Z" fill="#A03636"/><ellipse cx="97" cy="245" rx="28" ry="9.799999999999999" fill="#B84848"/><polygon points="140,290 215,260 245,300 240,405 190,420 140,390" fill="#36A4A4"/><polygon points="140,290 215,260 245,300 170,320" fill="#48B8B8"/></svg><svg x="2171" y="1986" width="167.0" height="167.8" viewBox="0 0 495 495" preserveAspectRatio="none" overflow="hidden"><rect width="495" height="495" fill="#404040"/><rect x="193" y="103" width="38" height="45" rx="10" fill="#00FFFF"/><rect x="293" y="70" width="92" height="150" rx="40" fill="#FF00FF"/><rect x="133" y="165" width="47" height="85" rx="22" fill="#0000FF"/><rect x="178" y="135" width="103" height="175" rx="45" fill="#00FF00"/><path d="M310,130 L405,135 Q421,150 418,260 Q445,300 430,330 Q390,350 345,310 Q305,240 310,130 Z" fill="#B9B9B9"/><path d="M245,300 L300,290 L310,340 L270,350 Z" fill="#00FF00"/><rect x="65" y="228" width="60" height="115" rx="28" fill="#FFFF00"/><polygon points="150,265 240,275 245,360 235,450 175,460 140,400" fill="#FF0000"/></svg><svg x="2351.1" y="1631.1" width="225.9" height="169.6" viewBox="0 0 662 497" preserveAspectRatio="none" overflow="hidden"><rect width="662" height="497" fill="url(#osA)"/><ellipse cx="150" cy="260" rx="260" ry="70" fill="#A0A2B8" opacity="0.45" filter="url(#bl4)"/><rect x="55" y="135" width="107" height="122" rx="12" fill="#2F4FA0"/><rect x="62" y="140" width="90" height="20" rx="8" fill="#4060B4" opacity="0.6"/><rect x="185" y="212" width="55" height="60" rx="5" fill="#4A4A4C"/><circle cx="313" cy="178" r="19" fill="#A83232"/><circle cx="308.25" cy="172.3" r="8.55" fill="#D06060" opacity="0.5"/><circle cx="265" cy="278" r="53" fill="#8C46AA"/><circle cx="251.75" cy="262.1" r="23.85" fill="#B070C8" opacity="0.5"/><path d="M352,205 L352,322 A53,18 0 0 0 458,322 L458,205 Z" fill="#38999A"/><ellipse cx="405" cy="205" rx="53" ry="18" fill="#50B5B5"/><rect x="495" y="228" width="58" height="62" rx="6" fill="#4262B0"/></svg><svg x="2351.1" y="1808.6" width="225.9" height="168.8" viewBox="0 0 662 497" preserveAspectRatio="none" overflow="hidden"><rect width="662" height="497" fill="url(#osB)"/><path d="M200,120 Q450,60 700,200 L700,120 Q450,20 200,90 Z" fill="#BDBDBD" opacity="0.6" filter="url(#bl4)"/><ellipse cx="430" cy="440" rx="100" ry="28" fill="#666" opacity="0.25"/><rect x="265" y="135" width="48" height="50" rx="5" fill="#3B5DB0"/><path d="M330,125 L330,215 A42,14 0 0 0 414,215 L414,125 Z" fill="#2E8E90"/><ellipse cx="372" cy="125" rx="42" ry="14" fill="#48A8A8"/><circle cx="470" cy="195" r="46" fill="#8C46AA"/><circle cx="458.5" cy="181.2" r="20.7" fill="#B070C8" opacity="0.5"/><circle cx="222" cy="275" r="25" fill="#A83232"/><circle cx="215.75" cy="267.5" r="11.25" fill="#D06060" opacity="0.5"/><rect x="392" y="238" width="50" height="45" rx="4" fill="#3C3C3E"/><polygon points="372,300 420,262 550,275 552,400 480,435 372,410" fill="#2E4C9C"/><polygon points="372,300 420,262 550,275 500,310" fill="#4466B8"/></svg><svg x="2351.1" y="1986.6" width="225.9" height="168.9" viewBox="0 0 662 497" preserveAspectRatio="none" overflow="hidden"><rect width="662" height="497" fill="#404040"/><path d="M268,138 L300,135 L315,150 L312,180 L270,185 Z" fill="#FF0000"/><rect x="328" y="115" width="87" height="107" rx="20" fill="#00FFFF"/><circle cx="470" cy="197" r="47" fill="#0000FF"/><circle cx="223" cy="270" r="27" fill="#00FF00"/><path d="M388,245 L430,238 L440,262 L388,272 Z" fill="#FFFF00"/><polygon points="372,280 440,240 552,280 548,400 462,435 372,385" fill="#FF00FF"/></svg><svg x="2587.2" y="1631.1" width="225.2" height="169.6" viewBox="0 0 662 497" preserveAspectRatio="none" overflow="hidden"><rect width="662" height="497" fill="url(#osA)"/><ellipse cx="150" cy="260" rx="260" ry="70" fill="#A0A2B8" opacity="0.45" filter="url(#bl4)"/><g filter="url(#bl2)"><rect x="55" y="135" width="107" height="122" rx="12" fill="#2F4FA0"/><rect x="62" y="140" width="90" height="20" rx="8" fill="#4060B4" opacity="0.6"/><rect x="185" y="212" width="55" height="60" rx="5" fill="#4A4A4C"/><circle cx="313" cy="178" r="19" fill="#A83232"/><circle cx="308.25" cy="172.3" r="8.55" fill="#D06060" opacity="0.5"/><circle cx="265" cy="278" r="53" fill="#8C46AA"/><circle cx="251.75" cy="262.1" r="23.85" fill="#B070C8" opacity="0.5"/><path d="M352,205 L352,322 A53,18 0 0 0 458,322 L458,205 Z" fill="#38999A"/><ellipse cx="405" cy="205" rx="53" ry="18" fill="#50B5B5"/><rect x="495" y="228" width="58" height="62" rx="6" fill="#4262B0"/></g></svg><svg x="2587.2" y="1808.6" width="225.2" height="168.8" viewBox="0 0 662 497" preserveAspectRatio="none" overflow="hidden"><rect width="662" height="497" fill="url(#osB)"/><path d="M200,120 Q450,60 700,200 L700,120 Q450,20 200,90 Z" fill="#BDBDBD" opacity="0.6" filter="url(#bl4)"/><g filter="url(#bl2)"><ellipse cx="430" cy="440" rx="100" ry="28" fill="#666" opacity="0.25"/><rect x="265" y="135" width="48" height="50" rx="5" fill="#3B5DB0"/><path d="M330,125 L330,215 A42,14 0 0 0 414,215 L414,125 Z" fill="#2E8E90"/><ellipse cx="372" cy="125" rx="42" ry="14" fill="#48A8A8"/><circle cx="470" cy="195" r="46" fill="#8C46AA"/><circle cx="458.5" cy="181.2" r="20.7" fill="#B070C8" opacity="0.5"/><circle cx="222" cy="275" r="25" fill="#A83232"/><circle cx="215.75" cy="267.5" r="11.25" fill="#D06060" opacity="0.5"/><rect x="392" y="238" width="50" height="45" rx="4" fill="#3C3C3E"/><polygon points="372,300 420,262 550,275 552,400 480,435 372,410" fill="#2E4C9C"/><polygon points="372,300 420,262 550,275 500,310" fill="#4466B8"/></g></svg><svg x="2587.2" y="1986.6" width="225.2" height="168.9" viewBox="0 0 662 497" preserveAspectRatio="none" overflow="hidden"><rect width="662" height="497" fill="#404040"/><path d="M180,190 Q240,120 320,105 L325,170 Q300,190 190,200 Z" fill="#FF0000"/><path d="M320,105 Q400,95 425,120 L420,235 Q330,260 250,275 Q180,270 170,250 Q210,210 325,170 Z" fill="#00FFFF"/><ellipse cx="500" cy="215" rx="75" ry="75" fill="#0000FF"/><ellipse cx="200" cy="290" rx="70" ry="40" fill="#00FF00"/><path d="M340,280 Q380,230 520,260 Q570,300 560,380 Q540,460 470,497 L350,497 Q320,420 340,280 Z" fill="#FF00FF"/><path d="M350,250 Q380,230 405,245 L345,330 Z" fill="#FFFF00"/></svg><svg x="2822.7" y="1631.1" width="225.1" height="169.6" viewBox="0 0 662 497" preserveAspectRatio="none" overflow="hidden"><rect width="662" height="497" fill="url(#osA)"/><ellipse cx="150" cy="260" rx="260" ry="70" fill="#A0A2B8" opacity="0.45" filter="url(#bl4)"/><g filter="url(#bl1)"><rect x="55" y="135" width="107" height="122" rx="12" fill="#2F4FA0"/><rect x="62" y="140" width="90" height="20" rx="8" fill="#4060B4" opacity="0.6"/><rect x="185" y="212" width="55" height="60" rx="5" fill="#4A4A4C"/><circle cx="313" cy="178" r="19" fill="#A83232"/><circle cx="308.25" cy="172.3" r="8.55" fill="#D06060" opacity="0.5"/><circle cx="265" cy="278" r="53" fill="#8C46AA"/><circle cx="251.75" cy="262.1" r="23.85" fill="#B070C8" opacity="0.5"/><path d="M352,205 L352,322 A53,18 0 0 0 458,322 L458,205 Z" fill="#38999A"/><ellipse cx="405" cy="205" rx="53" ry="18" fill="#50B5B5"/><rect x="495" y="228" width="58" height="62" rx="6" fill="#4262B0"/></g></svg><svg x="2822.7" y="1808.6" width="225.1" height="168.8" viewBox="0 0 662 497" preserveAspectRatio="none" overflow="hidden"><rect width="662" height="497" fill="url(#osB)"/><path d="M200,120 Q450,60 700,200 L700,120 Q450,20 200,90 Z" fill="#BDBDBD" opacity="0.6" filter="url(#bl4)"/><g filter="url(#bl1)"><ellipse cx="430" cy="440" rx="100" ry="28" fill="#666" opacity="0.25"/><rect x="265" y="135" width="48" height="50" rx="5" fill="#3B5DB0"/><path d="M330,125 L330,215 A42,14 0 0 0 414,215 L414,125 Z" fill="#2E8E90"/><ellipse cx="372" cy="125" rx="42" ry="14" fill="#48A8A8"/><circle cx="470" cy="195" r="46" fill="#8C46AA"/><circle cx="458.5" cy="181.2" r="20.7" fill="#B070C8" opacity="0.5"/><circle cx="222" cy="275" r="25" fill="#A83232"/><circle cx="215.75" cy="267.5" r="11.25" fill="#D06060" opacity="0.5"/><rect x="392" y="238" width="50" height="45" rx="4" fill="#3C3C3E"/><polygon points="372,300 420,262 550,275 552,400 480,435 372,410" fill="#2E4C9C"/><polygon points="372,300 420,262 550,275 500,310" fill="#4466B8"/></g></svg><svg x="2822.7" y="1986.6" width="225.1" height="168.9" viewBox="0 0 662 497" preserveAspectRatio="none" overflow="hidden"><rect width="662" height="497" fill="#404040"/><path d="M255,155 L300,135 L305,175 L255,180 Z" fill="#FF0000"/><path d="M325,118 L410,118 L410,215 Q360,240 300,225 Q330,200 325,118 Z" fill="#00FFFF"/><circle cx="470" cy="195" r="45" fill="#0000FF"/><path d="M205,265 Q225,240 245,265 Q240,300 200,300 Z" fill="#00FF00"/><path d="M385,245 L430,238 L435,262 L385,270 Z" fill="#FFFF00"/><path d="M380,270 Q440,240 545,270 L545,400 Q500,440 430,435 Q330,420 360,360 Z" fill="#FF00FF"/></svg><text x="1723" y="1619.5" font-family='"Liberation Serif", serif' font-size="30.5" font-weight="bold" text-anchor="middle" fill="#000" >GT</text><text x="1900" y="1619.5" font-family='"Liberation Serif", serif' font-size="30.5" font-weight="bold" text-anchor="middle" fill="#000" >uORF</text><text x="2073.5" y="1619.5" font-family='"Liberation Serif", serif' font-size="30.5" font-weight="bold" text-anchor="middle" fill="#000" >COLF</text><text x="2245" y="1619.5" font-family='"Liberation Serif", serif' font-size="30.5" font-weight="bold" text-anchor="middle" fill="#000" >Ours</text><text x="2462.6" y="1619.5" font-family='"Liberation Serif", serif' font-size="30.5" font-weight="bold" text-anchor="middle" fill="#000" >GT</text><text x="2677" y="1619.5" font-family='"Liberation Serif", serif' font-size="30.5" font-weight="bold" text-anchor="middle" fill="#000" >OSRT</text><text x="2932" y="1619.5" font-family='"Liberation Serif", serif' font-size="30.5" font-weight="bold" text-anchor="middle" fill="#000" >Ours</text><text transform="translate(1614.4,1705.6) rotate(-90)" font-family='"Liberation Serif", serif' font-size="31" font-weight="bold" text-anchor="middle" xml:space="preserve">Input view</text><text transform="translate(1614.4,1890) rotate(-90)" font-family='"Liberation Serif", serif' font-size="31" font-weight="bold" text-anchor="middle" xml:space="preserve">Novel  view</text><text transform="translate(1614.4,2071.5) rotate(-90)" font-family='"Liberation Serif", serif' font-size="31" font-weight="bold" text-anchor="middle" xml:space="preserve">Novel seg.</text><line x1="1585" y1="2176.4" x2="3048" y2="2176.4" stroke="#FFB900" stroke-width="5.6" stroke-dasharray="17.1,6.3" stroke-dashoffset="5.3"/><svg x="1639.1" y="2231.1" width="169.2" height="168.6" viewBox="0 0 495 495" preserveAspectRatio="none" overflow="hidden"><rect width="495" height="495" fill="#382C25"/><polygon points="0,0 495,0 495,148 418,41 0,90" fill="url(#rcw)"/><polyline points="0,92 418,43 495,150" fill="none" stroke="#4A3020" stroke-width="12"/><polygon points="322,61 431,61 431,126 322,126" fill="#5E5954" opacity="0.9"/><polygon points="0,185 62,185 62,288 0,288" fill="#5E5954" opacity="0.9"/><polygon points="83,288 240,288 250,459 95,465" fill="#5E5954" opacity="0.9"/><polygon points="411,247 495,247 495,384 420,384" fill="#5E5954" opacity="0.9"/><polygon points="295,459 466,459 475,495 300,495" fill="#5E5954" opacity="0.9"/><polygon points="152,90 193,90 193,152 152,152" fill="#5E5954" opacity="0.9"/><polygon points="255,170 300,170 305,250 258,250" fill="#5E5954" opacity="0.9"/><polygon points="250,250 410,240 430,420 270,430" fill="#2C2520" opacity="0.6"/><rect x="80" y="0" width="22" height="210" fill="#8A8A8A"/><polygon points="95,90 165,85 170,150 100,160" fill="#9A9A9A"/><rect x="240" y="22" width="16" height="215" fill="#44A040"/><polygon points="245,110 310,100 318,160 252,170" fill="#44A040"/><rect x="300" y="150" width="9" height="80" fill="#3A8A36"/><path d="M305,160 Q355,135 405,160 L411,200 L400,345 L390,345 L385,260 L330,260 L322,330 L310,330 Z" fill="#B4B4B4"/><path d="M112,130 Q140,110 165,140 L180,200 L182,360 L172,365 L165,300 L110,330 L120,420 L108,425 L75,310 L60,270 Z" fill="#5CC8CA"/><polygon points="55,270 130,235 175,290 110,325" fill="#6AD6D8"/></svg><svg x="1639.1" y="2408.6" width="169.2" height="168.8" viewBox="0 0 495 495" preserveAspectRatio="none" overflow="hidden"><rect width="495" height="495" fill="#382C25"/><polygon points="0,0 495,0 495,116 176,17 0,150" fill="url(#rcw)"/><polyline points="0,152 176,19 495,118" fill="none" stroke="#4A3020" stroke-width="12"/><polygon points="22,290 150,226 193,362 60,400" fill="#5E5954" opacity="0.9"/><polygon points="371,355 495,345 495,492 380,492" fill="#5E5954" opacity="0.9"/><polygon points="400,190 495,180 495,280 410,290" fill="#5E5954" opacity="0.9"/><polygon points="0,420 60,420 60,495 0,495" fill="#5E5954" opacity="0.9"/><polygon points="90,440 200,430 215,495 95,495" fill="#5E5954" opacity="0.9"/><polygon points="300,200 360,195 365,240 305,245" fill="#5E5954" opacity="0.9"/><rect x="176" y="3" width="25" height="140" fill="#8A8A8A"/><polygon points="190,60 260,55 262,110 195,115" fill="#9A9A9A"/><rect x="250" y="100" width="8" height="40" fill="#8A8A8A"/><path d="M97,60 Q115,40 135,60 L135,280 L122,282 L120,210 L60,210 L62,270 L50,272 L35,170 Z" fill="#5CC8CA"/><polygon points="35,160 100,140 125,200 60,210" fill="#6AD6D8"/><path d="M257,40 Q280,15 305,40 L305,130 L359,150 L355,185 L350,240 L340,240 L338,190 L290,195 L285,245 L272,245 L260,190 Z" fill="#44A040"/><path d="M213,160 Q235,140 258,170 L280,380 L270,413 L262,413 L250,300 L238,300 L232,400 L222,400 Z" fill="#9E9E9E"/><polygon points="255,190 330,170 345,270 280,295" fill="#A8A8A8"/><rect x="320" y="260" width="9" height="120" fill="#8E8E8E"/></svg><svg x="1639.1" y="2586" width="169.2" height="168.5" viewBox="0 0 495 495" preserveAspectRatio="none" overflow="hidden"><rect width="495" height="495" fill="#404040"/><path d="M100,50 L125,45 L140,100 L145,240 L135,290 L125,290 L120,230 L80,240 L70,290 L55,290 L58,230 L40,200 L50,180 L95,165 Z" fill="#FF0000"/><path d="M175,0 L215,0 L225,55 L262,70 L255,95 L230,110 L230,150 L215,150 L210,105 L190,110 L190,150 L178,150 Z" fill="#FFFF00"/><path d="M270,30 L300,20 L305,140 L355,150 L350,180 L345,240 L330,230 L330,190 L300,200 L290,240 L275,240 L270,140 Z" fill="#0000FF"/><path d="M218,150 L250,160 L275,210 L345,260 L335,320 L322,300 L318,330 L285,310 L270,415 L258,415 L255,310 L225,320 L215,280 Z" fill="#00FF00"/></svg><svg x="1814.1" y="2231.1" width="168.9" height="168.6" viewBox="0 0 495 495" preserveAspectRatio="none" overflow="hidden"><rect width="495" height="495" fill="#382C25"/><polygon points="0,0 495,0 495,148 418,41 0,90" fill="url(#rcw)"/><polyline points="0,92 418,43 495,150" fill="none" stroke="#4A3020" stroke-width="12"/><polygon points="322,61 431,61 431,126 322,126" fill="#5E5954" opacity="0.9"/><polygon points="0,185 62,185 62,288 0,288" fill="#5E5954" opacity="0.9"/><polygon points="83,288 240,288 250,459 95,465" fill="#5E5954" opacity="0.9"/><polygon points="411,247 495,247 495,384 420,384" fill="#5E5954" opacity="0.9"/><polygon points="295,459 466,459 475,495 300,495" fill="#5E5954" opacity="0.9"/><polygon points="152,90 193,90 193,152 152,152" fill="#5E5954" opacity="0.9"/><polygon points="255,170 300,170 305,250 258,250" fill="#5E5954" opacity="0.9"/><polygon points="250,250 410,240 430,420 270,430" fill="#2C2520" opacity="0.6"/><g filter="url(#bl2)"><rect x="80" y="0" width="22" height="210" fill="#8A8A8A"/><polygon points="95,90 165,85 170,150 100,160" fill="#9A9A9A"/><rect x="240" y="22" width="16" height="215" fill="#44A040"/><polygon points="245,110 310,100 318,160 252,170" fill="#44A040"/><rect x="300" y="150" width="9" height="80" fill="#3A8A36"/><path d="M305,160 Q355,135 405,160 L411,200 L400,345 L390,345 L385,260 L330,260 L322,330 L310,330 Z" fill="#B4B4B4"/><path d="M112,130 Q140,110 165,140 L180,200 L182,360 L172,365 L165,300 L110,330 L120,420 L108,425 L75,310 L60,270 Z" fill="#5CC8CA"/><polygon points="55,270 130,235 175,290 110,325" fill="#6AD6D8"/></g></svg><svg x="1814.1" y="2408.6" width="168.9" height="168.8" viewBox="0 0 495 495" preserveAspectRatio="none" overflow="hidden"><rect width="495" height="495" fill="#382C25"/><polygon points="0,0 495,0 495,116 176,17 0,150" fill="url(#rcw)"/><polyline points="0,152 176,19 495,118" fill="none" stroke="#4A3020" stroke-width="12"/><polygon points="22,290 150,226 193,362 60,400" fill="#5E5954" opacity="0.9"/><polygon points="371,355 495,345 495,492 380,492" fill="#5E5954" opacity="0.9"/><polygon points="400,190 495,180 495,280 410,290" fill="#5E5954" opacity="0.9"/><polygon points="0,420 60,420 60,495 0,495" fill="#5E5954" opacity="0.9"/><polygon points="90,440 200,430 215,495 95,495" fill="#5E5954" opacity="0.9"/><polygon points="300,200 360,195 365,240 305,245" fill="#5E5954" opacity="0.9"/><g filter="url(#bl2)"><rect x="176" y="3" width="25" height="140" fill="#8A8A8A"/><polygon points="190,60 260,55 262,110 195,115" fill="#9A9A9A"/><rect x="250" y="100" width="8" height="40" fill="#8A8A8A"/><path d="M97,60 Q115,40 135,60 L135,280 L122,282 L120,210 L60,210 L62,270 L50,272 L35,170 Z" fill="#5CC8CA"/><polygon points="35,160 100,140 125,200 60,210" fill="#6AD6D8"/><path d="M257,40 Q280,15 305,40 L305,130 L359,150 L355,185 L350,240 L340,240 L338,190 L290,195 L285,245 L272,245 L260,190 Z" fill="#44A040"/><path d="M213,160 Q235,140 258,170 L280,380 L270,413 L262,413 L250,300 L238,300 L232,400 L222,400 Z" fill="#9E9E9E"/><polygon points="255,190 330,170 345,270 280,295" fill="#A8A8A8"/><rect x="320" y="260" width="9" height="120" fill="#8E8E8E"/></g></svg><svg x="1814.1" y="2586" width="168.9" height="168.5" viewBox="0 0 495 495" preserveAspectRatio="none" overflow="hidden"><rect width="495" height="495" fill="#404040"/><g transform="translate(4,3) scale(1.03)"><path d="M100,50 L125,45 L140,100 L145,240 L135,290 L125,290 L120,230 L80,240 L70,290 L55,290 L58,230 L40,200 L50,180 L95,165 Z" fill="#FF0000"/><path d="M175,0 L215,0 L225,55 L262,70 L255,95 L230,110 L230,150 L215,150 L210,105 L190,110 L190,150 L178,150 Z" fill="#FFFF00"/><path d="M270,30 L300,20 L305,140 L355,150 L350,180 L345,240 L330,230 L330,190 L300,200 L290,240 L275,240 L270,140 Z" fill="#0000FF"/><path d="M218,150 L250,160 L275,210 L345,260 L335,320 L322,300 L318,330 L285,310 L270,415 L258,415 L255,310 L225,320 L215,280 Z" fill="#00FF00"/></g></svg><svg x="1990.8" y="2231.1" width="168.9" height="168.6" viewBox="0 0 495 495" preserveAspectRatio="none" overflow="hidden"><rect width="495" height="495" fill="#382C25"/><polygon points="0,0 495,0 495,148 418,41 0,90" fill="url(#rcw)"/><polyline points="0,92 418,43 495,150" fill="none" stroke="#4A3020" stroke-width="12"/><polygon points="322,61 431,61 431,126 322,126" fill="#5E5954" opacity="0.9"/><polygon points="0,185 62,185 62,288 0,288" fill="#5E5954" opacity="0.9"/><polygon points="83,288 240,288 250,459 95,465" fill="#5E5954" opacity="0.9"/><polygon points="411,247 495,247 495,384 420,384" fill="#5E5954" opacity="0.9"/><polygon points="295,459 466,459 475,495 300,495" fill="#5E5954" opacity="0.9"/><polygon points="152,90 193,90 193,152 152,152" fill="#5E5954" opacity="0.9"/><polygon points="255,170 300,170 305,250 258,250" fill="#5E5954" opacity="0.9"/><polygon points="250,250 410,240 430,420 270,430" fill="#2C2520" opacity="0.6"/><g filter="url(#bl1)"><rect x="80" y="0" width="22" height="210" fill="#8A8A8A"/><polygon points="95,90 165,85 170,150 100,160" fill="#9A9A9A"/><rect x="240" y="22" width="16" height="215" fill="#44A040"/><polygon points="245,110 310,100 318,160 252,170" fill="#44A040"/><rect x="300" y="150" width="9" height="80" fill="#3A8A36"/><path d="M305,160 Q355,135 405,160 L411,200 L400,345 L390,345 L385,260 L330,260 L322,330 L310,330 Z" fill="#B4B4B4"/><path d="M112,130 Q140,110 165,140 L180,200 L182,360 L172,365 L165,300 L110,330 L120,420 L108,425 L75,310 L60,270 Z" fill="#5CC8CA"/><polygon points="55,270 130,235 175,290 110,325" fill="#6AD6D8"/></g></svg><svg x="1990.8" y="2408.6" width="168.9" height="168.8" viewBox="0 0 495 495" preserveAspectRatio="none" overflow="hidden"><rect width="495" height="495" fill="#382C25"/><polygon points="0,0 495,0 495,116 176,17 0,150" fill="url(#rcw)"/><polyline points="0,152 176,19 495,118" fill="none" stroke="#4A3020" stroke-width="12"/><polygon points="22,290 150,226 193,362 60,400" fill="#5E5954" opacity="0.9"/><polygon points="371,355 495,345 495,492 380,492" fill="#5E5954" opacity="0.9"/><polygon points="400,190 495,180 495,280 410,290" fill="#5E5954" opacity="0.9"/><polygon points="0,420 60,420 60,495 0,495" fill="#5E5954" opacity="0.9"/><polygon points="90,440 200,430 215,495 95,495" fill="#5E5954" opacity="0.9"/><polygon points="300,200 360,195 365,240 305,245" fill="#5E5954" opacity="0.9"/><g filter="url(#bl1)"><rect x="176" y="3" width="25" height="140" fill="#8A8A8A"/><polygon points="190,60 260,55 262,110 195,115" fill="#9A9A9A"/><rect x="250" y="100" width="8" height="40" fill="#8A8A8A"/><path d="M97,60 Q115,40 135,60 L135,280 L122,282 L120,210 L60,210 L62,270 L50,272 L35,170 Z" fill="#5CC8CA"/><polygon points="35,160 100,140 125,200 60,210" fill="#6AD6D8"/><path d="M257,40 Q280,15 305,40 L305,130 L359,150 L355,185 L350,240 L340,240 L338,190 L290,195 L285,245 L272,245 L260,190 Z" fill="#44A040"/><path d="M213,160 Q235,140 258,170 L280,380 L270,413 L262,413 L250,300 L238,300 L232,400 L222,400 Z" fill="#9E9E9E"/><polygon points="255,190 330,170 345,270 280,295" fill="#A8A8A8"/><rect x="320" y="260" width="9" height="120" fill="#8E8E8E"/></g></svg><svg x="1990.8" y="2586" width="168.9" height="168.5" viewBox="0 0 495 495" preserveAspectRatio="none" overflow="hidden"><rect width="495" height="495" fill="#404040"/><g transform="translate(8,6) scale(1.06)"><path d="M100,50 L125,45 L140,100 L145,240 L135,290 L125,290 L120,230 L80,240 L70,290 L55,290 L58,230 L40,200 L50,180 L95,165 Z" fill="#FF0000"/><path d="M175,0 L215,0 L225,55 L262,70 L255,95 L230,110 L230,150 L215,150 L210,105 L190,110 L190,150 L178,150 Z" fill="#FFFF00"/><path d="M270,30 L300,20 L305,140 L355,150 L350,180 L345,240 L330,230 L330,190 L300,200 L290,240 L275,240 L270,140 Z" fill="#0000FF"/><path d="M218,150 L250,160 L275,210 L345,260 L335,320 L322,300 L318,330 L285,310 L270,415 L258,415 L255,310 L225,320 L215,280 Z" fill="#00FF00"/></g></svg><svg x="2168.3" y="2231.1" width="168.5" height="168.6" viewBox="0 0 495 495" preserveAspectRatio="none" overflow="hidden"><rect width="495" height="495" fill="#382C25"/><polygon points="0,0 495,0 495,148 418,41 0,90" fill="url(#rcw)"/><polyline points="0,92 418,43 495,150" fill="none" stroke="#4A3020" stroke-width="12"/><polygon points="322,61 431,61 431,126 322,126" fill="#5E5954" opacity="0.9"/><polygon points="0,185 62,185 62,288 0,288" fill="#5E5954" opacity="0.9"/><polygon points="83,288 240,288 250,459 95,465" fill="#5E5954" opacity="0.9"/><polygon points="411,247 495,247 495,384 420,384" fill="#5E5954" opacity="0.9"/><polygon points="295,459 466,459 475,495 300,495" fill="#5E5954" opacity="0.9"/><polygon points="152,90 193,90 193,152 152,152" fill="#5E5954" opacity="0.9"/><polygon points="255,170 300,170 305,250 258,250" fill="#5E5954" opacity="0.9"/><polygon points="250,250 410,240 430,420 270,430" fill="#2C2520" opacity="0.6"/><rect x="80" y="0" width="22" height="210" fill="#8A8A8A"/><polygon points="95,90 165,85 170,150 100,160" fill="#9A9A9A"/><rect x="240" y="22" width="16" height="215" fill="#44A040"/><polygon points="245,110 310,100 318,160 252,170" fill="#44A040"/><rect x="300" y="150" width="9" height="80" fill="#3A8A36"/><path d="M305,160 Q355,135 405,160 L411,200 L400,345 L390,345 L385,260 L330,260 L322,330 L310,330 Z" fill="#B4B4B4"/><path d="M112,130 Q140,110 165,140 L180,200 L182,360 L172,365 L165,300 L110,330 L120,420 L108,425 L75,310 L60,270 Z" fill="#5CC8CA"/><polygon points="55,270 130,235 175,290 110,325" fill="#6AD6D8"/></svg><svg x="2168.3" y="2408.6" width="168.5" height="168.8" viewBox="0 0 495 495" preserveAspectRatio="none" overflow="hidden"><rect width="495" height="495" fill="#382C25"/><polygon points="0,0 495,0 495,116 176,17 0,150" fill="url(#rcw)"/><polyline points="0,152 176,19 495,118" fill="none" stroke="#4A3020" stroke-width="12"/><polygon points="22,290 150,226 193,362 60,400" fill="#5E5954" opacity="0.9"/><polygon points="371,355 495,345 495,492 380,492" fill="#5E5954" opacity="0.9"/><polygon points="400,190 495,180 495,280 410,290" fill="#5E5954" opacity="0.9"/><polygon points="0,420 60,420 60,495 0,495" fill="#5E5954" opacity="0.9"/><polygon points="90,440 200,430 215,495 95,495" fill="#5E5954" opacity="0.9"/><polygon points="300,200 360,195 365,240 305,245" fill="#5E5954" opacity="0.9"/><rect x="176" y="3" width="25" height="140" fill="#8A8A8A"/><polygon points="190,60 260,55 262,110 195,115" fill="#9A9A9A"/><rect x="250" y="100" width="8" height="40" fill="#8A8A8A"/><path d="M97,60 Q115,40 135,60 L135,280 L122,282 L120,210 L60,210 L62,270 L50,272 L35,170 Z" fill="#5CC8CA"/><polygon points="35,160 100,140 125,200 60,210" fill="#6AD6D8"/><path d="M257,40 Q280,15 305,40 L305,130 L359,150 L355,185 L350,240 L340,240 L338,190 L290,195 L285,245 L272,245 L260,190 Z" fill="#44A040"/><path d="M213,160 Q235,140 258,170 L280,380 L270,413 L262,413 L250,300 L238,300 L232,400 L222,400 Z" fill="#9E9E9E"/><polygon points="255,190 330,170 345,270 280,295" fill="#A8A8A8"/><rect x="320" y="260" width="9" height="120" fill="#8E8E8E"/></svg><svg x="2168.3" y="2586" width="168.5" height="168.5" viewBox="0 0 495 495" preserveAspectRatio="none" overflow="hidden"><rect width="495" height="495" fill="#404040"/><g transform="translate(12,9) scale(1.09)"><path d="M100,50 L125,45 L140,100 L145,240 L135,290 L125,290 L120,230 L80,240 L70,290 L55,290 L58,230 L40,200 L50,180 L95,165 Z" fill="#FF0000"/><path d="M175,0 L215,0 L225,55 L262,70 L255,95 L230,110 L230,150 L215,150 L210,105 L190,110 L190,150 L178,150 Z" fill="#FFFF00"/><path d="M270,30 L300,20 L305,140 L355,150 L350,180 L345,240 L330,230 L330,190 L300,200 L290,240 L275,240 L270,140 Z" fill="#0000FF"/><path d="M218,150 L250,160 L275,210 L345,260 L335,320 L322,300 L318,330 L285,310 L270,415 L258,415 L255,310 L225,320 L215,280 Z" fill="#00FF00"/></g></svg><svg x="2349.1" y="2231.1" width="169.9" height="168.6" viewBox="0 0 495 495" preserveAspectRatio="none" overflow="hidden"><rect width="495" height="495" fill="url(#rdA)"/><polygon points="0,0 495,0 495,150 310,12 0,132" fill="url(#rdw)"/><polyline points="0,135 310,14 495,155" fill="none" stroke="#7A5030" stroke-width="6"/><polygon points="150,95 170,75 190,130 230,150 225,210 160,205" fill="#4CBCC8" opacity="0.85"/><path d="M275,60 Q320,50 375,80 L380,210 Q330,225 290,215 Q270,150 275,60 Z" fill="#2E7E2C"/><polygon points="40,195 110,140 150,160 200,210 215,260 175,300 160,380 140,385 130,320 90,300 85,350 70,350 70,290" fill="#2C2C2C"/><path d="M250,235 L330,195 L370,215 L372,330 L300,375 L255,350 Z" fill="#A4A4A4"/></svg><svg x="2349.1" y="2408.6" width="169.9" height="168.8" viewBox="0 0 495 495" preserveAspectRatio="none" overflow="hidden"><rect width="495" height="495" fill="url(#rdA)"/><polygon points="0,0 495,0 495,122 215,5 0,130" fill="url(#rdw)"/><polyline points="0,132 215,8 495,125" fill="none" stroke="#7A5030" stroke-width="6"/><polygon points="105,30 190,25 205,110 210,175 195,200 130,215 115,160 95,100" fill="#2C2C2C"/><polygon points="255,50 285,45 290,110 330,130 330,200 280,205 262,150" fill="#4CBCC8" opacity="0.85"/><path d="M140,190 L200,165 L255,195 L255,320 L210,355 L150,330 Z" fill="#A2A2A2"/><path d="M310,170 Q360,130 420,150 L425,290 Q380,330 305,310 Z" fill="#2E7E2C"/></svg><svg x="2349.1" y="2586" width="169.9" height="168.5" viewBox="0 0 495 495" preserveAspectRatio="none" overflow="hidden"><rect width="495" height="495" fill="#404040"/><path d="M125,28 L195,28 L205,110 L205,170 L150,175 L120,200 L110,170 L95,140 L120,100 Z" fill="#FF0000"/><path d="M255,50 L285,45 L290,110 L330,125 L325,150 L300,160 L300,200 L290,200 L285,160 L262,150 Z" fill="#00FF00"/><path d="M140,195 L200,170 L255,200 L250,300 L215,350 L150,320 Z" fill="#0000FF"/><polygon points="310,150 420,165 415,250 375,330 300,300" fill="#FFFF00"/></svg><svg x="2525.8" y="2231.1" width="168.9" height="168.6" viewBox="0 0 495 495" preserveAspectRatio="none" overflow="hidden"><rect width="495" height="495" fill="url(#rdA)"/><polygon points="0,0 495,0 495,150 310,12 0,132" fill="url(#rdw)"/><polyline points="0,135 310,14 495,155" fill="none" stroke="#7A5030" stroke-width="6"/><g filter="url(#bl3)"><polygon points="150,95 170,75 190,130 230,150 225,210 160,205" fill="#4CBCC8" opacity="0.85"/><path d="M275,60 Q320,50 375,80 L380,210 Q330,225 290,215 Q270,150 275,60 Z" fill="#2E7E2C"/><polygon points="40,195 110,140 150,160 200,210 215,260 175,300 160,380 140,385 130,320 90,300 85,350 70,350 70,290" fill="#2C2C2C"/><path d="M250,235 L330,195 L370,215 L372,330 L300,375 L255,350 Z" fill="#A4A4A4"/></g></svg><svg x="2525.8" y="2408.6" width="168.9" height="168.8" viewBox="0 0 495 495" preserveAspectRatio="none" overflow="hidden"><rect width="495" height="495" fill="url(#rdA)"/><polygon points="0,0 495,0 495,122 215,5 0,130" fill="url(#rdw)"/><polyline points="0,132 215,8 495,125" fill="none" stroke="#7A5030" stroke-width="6"/><g filter="url(#bl3)"><polygon points="105,30 190,25 205,110 210,175 195,200 130,215 115,160 95,100" fill="#2C2C2C"/><polygon points="255,50 285,45 290,110 330,130 330,200 280,205 262,150" fill="#4CBCC8" opacity="0.85"/><path d="M140,190 L200,165 L255,195 L255,320 L210,355 L150,330 Z" fill="#A2A2A2"/><path d="M310,170 Q360,130 420,150 L425,290 Q380,330 305,310 Z" fill="#2E7E2C"/></g></svg><svg x="2525.8" y="2586" width="168.9" height="168.5" viewBox="0 0 495 495" preserveAspectRatio="none" overflow="hidden"><rect width="495" height="495" fill="#404040"/><path d="M130,45 L195,45 L205,150 L210,230 L185,230 L140,170 L125,130 Z" fill="#FF0000"/><path d="M135,160 L185,170 L205,230 L210,300 L180,320 L140,280 L125,220 Z" fill="#0000FF"/><path d="M255,45 L290,45 L290,110 L330,125 L325,150 L305,180 L300,215 L290,210 Z" fill="#00FF00"/><polygon points="305,160 420,165 415,280 385,330 300,300" fill="#FFFF00"/></svg><svg x="2702.2" y="2231.1" width="169.2" height="168.6" viewBox="0 0 495 495" preserveAspectRatio="none" overflow="hidden"><rect width="495" height="495" fill="url(#rdA)"/><polygon points="0,0 495,0 495,150 310,12 0,132" fill="url(#rdw)"/><polyline points="0,135 310,14 495,155" fill="none" stroke="#7A5030" stroke-width="6"/><g filter="url(#bl2)"><polygon points="150,95 170,75 190,130 230,150 225,210 160,205" fill="#4CBCC8" opacity="0.85"/><path d="M275,60 Q320,50 375,80 L380,210 Q330,225 290,215 Q270,150 275,60 Z" fill="#2E7E2C"/><polygon points="40,195 110,140 150,160 200,210 215,260 175,300 160,380 140,385 130,320 90,300 85,350 70,350 70,290" fill="#2C2C2C"/><path d="M250,235 L330,195 L370,215 L372,330 L300,375 L255,350 Z" fill="#A4A4A4"/></g></svg><svg x="2702.2" y="2408.6" width="169.2" height="168.8" viewBox="0 0 495 495" preserveAspectRatio="none" overflow="hidden"><rect width="495" height="495" fill="url(#rdA)"/><polygon points="0,0 495,0 495,122 215,5 0,130" fill="url(#rdw)"/><polyline points="0,132 215,8 495,125" fill="none" stroke="#7A5030" stroke-width="6"/><g filter="url(#bl2)"><polygon points="105,30 190,25 205,110 210,175 195,200 130,215 115,160 95,100" fill="#2C2C2C"/><polygon points="255,50 285,45 290,110 330,130 330,200 280,205 262,150" fill="#4CBCC8" opacity="0.85"/><path d="M140,190 L200,165 L255,195 L255,320 L210,355 L150,330 Z" fill="#A2A2A2"/><path d="M310,170 Q360,130 420,150 L425,290 Q380,330 305,310 Z" fill="#2E7E2C"/></g></svg><svg x="2702.2" y="2586" width="169.2" height="168.5" viewBox="0 0 495 495" preserveAspectRatio="none" overflow="hidden"><rect width="495" height="495" fill="#404040"/><path d="M140,40 L185,45 L205,150 L200,180 L160,185 L120,160 Z" fill="#FF0000"/><path d="M140,185 L195,180 L215,260 L205,320 L150,320 L130,260 Z" fill="#0000FF"/><path d="M255,45 L285,45 L290,110 L320,125 L315,150 L290,150 L285,210 Z" fill="#00FF00"/><polygon points="320,145 410,170 415,280 385,320 320,310" fill="#FFFF00"/></svg><svg x="2878.9" y="2231.1" width="168.9" height="168.6" viewBox="0 0 495 495" preserveAspectRatio="none" overflow="hidden"><rect width="495" height="495" fill="url(#rdA)"/><polygon points="0,0 495,0 495,150 310,12 0,132" fill="url(#rdw)"/><polyline points="0,135 310,14 495,155" fill="none" stroke="#7A5030" stroke-width="6"/><g filter="url(#bl1)"><polygon points="150,95 170,75 190,130 230,150 225,210 160,205" fill="#4CBCC8" opacity="0.85"/><path d="M275,60 Q320,50 375,80 L380,210 Q330,225 290,215 Q270,150 275,60 Z" fill="#2E7E2C"/><polygon points="40,195 110,140 150,160 200,210 215,260 175,300 160,380 140,385 130,320 90,300 85,350 70,350 70,290" fill="#2C2C2C"/><path d="M250,235 L330,195 L370,215 L372,330 L300,375 L255,350 Z" fill="#A4A4A4"/></g></svg><svg x="2878.9" y="2408.6" width="168.9" height="168.8" viewBox="0 0 495 495" preserveAspectRatio="none" overflow="hidden"><rect width="495" height="495" fill="url(#rdA)"/><polygon points="0,0 495,0 495,122 215,5 0,130" fill="url(#rdw)"/><polyline points="0,132 215,8 495,125" fill="none" stroke="#7A5030" stroke-width="6"/><g filter="url(#bl1)"><polygon points="105,30 190,25 205,110 210,175 195,200 130,215 115,160 95,100" fill="#2C2C2C"/><polygon points="255,50 285,45 290,110 330,130 330,200 280,205 262,150" fill="#4CBCC8" opacity="0.85"/><path d="M140,190 L200,165 L255,195 L255,320 L210,355 L150,330 Z" fill="#A2A2A2"/><path d="M310,170 Q360,130 420,150 L425,290 Q380,330 305,310 Z" fill="#2E7E2C"/></g></svg><svg x="2878.9" y="2586" width="168.9" height="168.5" viewBox="0 0 495 495" preserveAspectRatio="none" overflow="hidden"><rect width="495" height="495" fill="#404040"/><path d="M125,30 L195,30 L205,110 L200,170 L150,175 L120,190 L100,160 Z" fill="#FF0000"/><path d="M140,190 L200,165 L250,200 L265,260 L240,330 L180,340 L140,290 Z" fill="#0000FF"/><path d="M265,45 L290,45 L290,90 L300,110 L320,130 L300,150 L295,180 L285,180 Z" fill="#00FF00"/><polygon points="310,145 420,160 415,270 390,320 300,300" fill="#FFFF00"/></svg><text x="1723" y="2224.2" font-family='"Liberation Serif", serif' font-size="30.5" font-weight="bold" text-anchor="middle" fill="#000" >GT</text><text x="1898" y="2224.2" font-family='"Liberation Serif", serif' font-size="30.5" font-weight="bold" text-anchor="middle" fill="#000" >uORF</text><text x="2073.5" y="2224.2" font-family='"Liberation Serif", serif' font-size="30.5" font-weight="bold" text-anchor="middle" fill="#000" >COLF</text><text x="2248" y="2224.2" font-family='"Liberation Serif", serif' font-size="30.5" font-weight="bold" text-anchor="middle" fill="#000" >Ours</text><text x="2427" y="2224.2" font-family='"Liberation Serif", serif' font-size="30.5" font-weight="bold" text-anchor="middle" fill="#000" >GT</text><text x="2608.8" y="2224.2" font-family='"Liberation Serif", serif' font-size="30.5" font-weight="bold" text-anchor="middle" fill="#000" >uORF</text><text x="2785.7" y="2224.2" font-family='"Liberation Serif", serif' font-size="30.5" font-weight="bold" text-anchor="middle" fill="#000" >COLF</text><text x="2959" y="2224.2" font-family='"Liberation Serif", serif' font-size="30.5" font-weight="bold" text-anchor="middle" fill="#000" >Ours</text><text transform="translate(1614.4,2324) rotate(-90)" font-family='"Liberation Serif", serif' font-size="31" font-weight="bold" text-anchor="middle" xml:space="preserve">Input view</text><text transform="translate(1614.4,2496) rotate(-90)" font-family='"Liberation Serif", serif' font-size="31" font-weight="bold" text-anchor="middle" xml:space="preserve">Novel  view</text><text transform="translate(1614.4,2666.4) rotate(-90)" font-family='"Liberation Serif", serif' font-size="31" font-weight="bold" text-anchor="middle" xml:space="preserve">Novel seg.</text><defs><linearGradient id="wood" x1="0" y1="0" x2="1" y2="1"><stop offset="0" stop-color="#3A2A1E"/><stop offset="0.5" stop-color="#33251B"/><stop offset="1" stop-color="#2A1E16"/></linearGradient><filter id="mb" x="-5%" y="-5%" width="110%" height="110%"><feGaussianBlur stdDeviation="1.2"/></filter></defs><rect x="3184" y="1643" width="59.5" height="465" fill="#D0CED1" stroke="none" stroke-width="1" /><svg x="3253" y="1650.9" width="227.8" height="220.9" viewBox="0 0 228 221" preserveAspectRatio="none" overflow="hidden"><g filter="url(#mb)"><rect width="228" height="221" fill="#2C2520"/><polygon points="0,0 228,0 228,46 65,8 0,66" fill="#858381"/><polygon points="0,0 30,0 30,40 0,66" fill="#9A9896"/><polyline points="0,68 65,10 228,48" fill="none" stroke="#3A2A20" stroke-width="4"/><polygon points="0,80 40,70 60,120 10,135" fill="#4C4844" opacity="0.85"/><polygon points="100,150 170,130 190,200 120,220" fill="#4C4844" opacity="0.85"/><polygon points="0,175 50,165 65,221 0,221" fill="#4C4844" opacity="0.85"/><polygon points="180,85 228,75 228,140 200,145" fill="#4C4844" opacity="0.85"/><polygon points="55,30 95,25 105,60 65,66" fill="#4C4844" opacity="0.85"/><polygon points="150,60 190,55 195,90 155,95" fill="#4C4844" opacity="0.85"/><rect x="72.5" y="55.0" width="4.0" height="55.0" fill="#7A3030"/><rect x="112.5" y="49.5" width="4.0" height="55.0" fill="#7A3030"/><rect x="92.5" y="60.50000000000001" width="4.0" height="49.5" fill="#7A3030"/><rect x="70" y="0" width="22.5" height="66.0" rx="6.75" fill="#B24A48"/><polygon points="70,55.0 100.0,46.199999999999996 120,55.0 90.0,68.2" fill="#B24A48"/><rect x="130.0" y="40.0" width="3.2" height="40.0" fill="#5A2A7A"/><rect x="162.0" y="36.0" width="3.2" height="40.0" fill="#5A2A7A"/><rect x="146.0" y="44.0" width="3.2" height="36.0" fill="#5A2A7A"/><rect x="128" y="0" width="18.0" height="48.0" rx="5.3999999999999995" fill="#8A44B4"/><polygon points="128,40.0 152.0,33.6 168,40.0 144.0,49.6" fill="#8A44B4"/><rect x="80.6" y="104.0" width="4.16" height="60.0" fill="#2E6A2E"/><rect x="122.19999999999999" y="98.0" width="4.16" height="60.0" fill="#2E6A2E"/><rect x="101.4" y="110.0" width="4.16" height="54.0" fill="#2E6A2E"/><rect x="78" y="44" width="23.400000000000002" height="72.0" rx="7.0200000000000005" fill="#3F9640"/><polygon points="78,104.0 109.2,94.4 130,104.0 98.8,118.4" fill="#3F9640"/><rect x="170.1" y="89.5" width="3.36" height="47.5" fill="#2E6A2E"/><rect x="203.7" y="84.75" width="3.36" height="47.5" fill="#2E6A2E"/><rect x="186.9" y="94.25" width="3.36" height="42.75" fill="#2E6A2E"/><rect x="168" y="42" width="18.900000000000002" height="57.0" rx="5.670000000000001" fill="#3F9640"/><polygon points="168,89.5 193.2,81.9 210,89.5 184.8,100.9" fill="#3F9640"/></g></svg><rect x="3253" y="1650.9" width="227.80000000000018" height="220.89999999999986" fill="none" stroke="#222" stroke-width="1.2" /><svg x="3488" y="1650.9" width="227.7" height="220.9" viewBox="0 0 228 221" preserveAspectRatio="none" overflow="hidden"><g filter="url(#mb)"><rect width="228" height="221" fill="#2C2520"/><polygon points="0,0 228,0 228,46 65,8 0,66" fill="#858381"/><polygon points="0,0 30,0 30,40 0,66" fill="#9A9896"/><polyline points="0,68 65,10 228,48" fill="none" stroke="#3A2A20" stroke-width="4"/><polygon points="0,80 40,70 60,120 10,135" fill="#4C4844" opacity="0.85"/><polygon points="100,150 170,130 190,200 120,220" fill="#4C4844" opacity="0.85"/><polygon points="0,175 50,165 65,221 0,221" fill="#4C4844" opacity="0.85"/><polygon points="180,85 228,75 228,140 200,145" fill="#4C4844" opacity="0.85"/><polygon points="55,30 95,25 105,60 65,66" fill="#4C4844" opacity="0.85"/><polygon points="150,60 190,55 195,90 155,95" fill="#4C4844" opacity="0.85"/><rect x="57.25" y="42.5" width="3.6" height="42.5" fill="#7A3030"/><rect x="93.25" y="38.25" width="3.6" height="42.5" fill="#7A3030"/><rect x="75.25" y="46.75000000000001" width="3.6" height="38.25" fill="#7A3030"/><rect x="55" y="0" width="20.25" height="51.0" rx="6.075" fill="#B24A48"/><polygon points="55,42.5 82.0,35.699999999999996 100,42.5 73.0,52.7" fill="#B24A48"/><rect x="129.75" y="39.0" width="2.8000000000000003" height="39.0" fill="#5A2A7A"/><rect x="157.75" y="35.1" width="2.8000000000000003" height="39.0" fill="#5A2A7A"/><rect x="143.75" y="42.900000000000006" width="2.8000000000000003" height="35.1" fill="#5A2A7A"/><rect x="128" y="0" width="15.75" height="46.8" rx="4.725" fill="#8A44B4"/><polygon points="128,39.0 149.0,32.76 163,39.0 142.0,48.36" fill="#8A44B4"/><rect x="18.9" y="71.0" width="4.64" height="51.0" fill="#2E6A2E"/><rect x="65.3" y="65.9" width="4.64" height="51.0" fill="#2E6A2E"/><rect x="42.1" y="76.1" width="4.64" height="45.9" fill="#2E6A2E"/><rect x="16" y="20" width="26.1" height="61.199999999999996" rx="7.83" fill="#3F9640"/><polygon points="16,71.0 50.8,62.839999999999996 74,71.0 39.2,83.24000000000001" fill="#3F9640"/><rect x="149.0" y="77.5" width="4.8" height="45.5" fill="#2E6A2E"/><rect x="197.0" y="72.95" width="4.8" height="45.5" fill="#2E6A2E"/><rect x="173.0" y="82.05000000000001" width="4.8" height="40.95" fill="#2E6A2E"/><rect x="146" y="32" width="27.0" height="54.6" rx="8.1" fill="#3F9640"/><polygon points="146,77.5 182.0,70.22 206,77.5 170.0,88.42" fill="#3F9640"/></g></svg><rect x="3488" y="1650.9" width="227.69999999999982" height="220.89999999999986" fill="none" stroke="#222" stroke-width="1.2" /><svg x="3723" y="1650.9" width="227.6" height="220.9" viewBox="0 0 228 221" preserveAspectRatio="none" overflow="hidden"><g filter="url(#mb)"><rect width="228" height="221" fill="#2C2520"/><polygon points="0,0 228,0 228,46 65,8 0,66" fill="#858381"/><polygon points="0,0 30,0 30,40 0,66" fill="#9A9896"/><polyline points="0,68 65,10 228,48" fill="none" stroke="#3A2A20" stroke-width="4"/><polygon points="0,80 40,70 60,120 10,135" fill="#4C4844" opacity="0.85"/><polygon points="100,150 170,130 190,200 120,220" fill="#4C4844" opacity="0.85"/><polygon points="0,175 50,165 65,221 0,221" fill="#4C4844" opacity="0.85"/><polygon points="180,85 228,75 228,140 200,145" fill="#4C4844" opacity="0.85"/><polygon points="55,30 95,25 105,60 65,66" fill="#4C4844" opacity="0.85"/><polygon points="150,60 190,55 195,90 155,95" fill="#4C4844" opacity="0.85"/><rect x="57.25" y="42.5" width="3.6" height="42.5" fill="#7A3030"/><rect x="93.25" y="38.25" width="3.6" height="42.5" fill="#7A3030"/><rect x="75.25" y="46.75000000000001" width="3.6" height="38.25" fill="#7A3030"/><rect x="55" y="0" width="20.25" height="51.0" rx="6.075" fill="#B24A48"/><polygon points="55,42.5 82.0,35.699999999999996 100,42.5 73.0,52.7" fill="#B24A48"/><rect x="129.75" y="39.0" width="2.8000000000000003" height="39.0" fill="#5A2A7A"/><rect x="157.75" y="35.1" width="2.8000000000000003" height="39.0" fill="#5A2A7A"/><rect x="143.75" y="42.900000000000006" width="2.8000000000000003" height="35.1" fill="#5A2A7A"/><rect x="128" y="0" width="15.75" height="46.8" rx="4.725" fill="#8A44B4"/><polygon points="128,39.0 149.0,32.76 163,39.0 142.0,48.36" fill="#8A44B4"/><rect x="18.9" y="71.0" width="4.64" height="51.0" fill="#2E6A2E"/><rect x="65.3" y="65.9" width="4.64" height="51.0" fill="#2E6A2E"/><rect x="42.1" y="76.1" width="4.64" height="45.9" fill="#2E6A2E"/><rect x="16" y="20" width="26.1" height="61.199999999999996" rx="7.83" fill="#3F9640"/><polygon points="16,71.0 50.8,62.839999999999996 74,71.0 39.2,83.24000000000001" fill="#3F9640"/><rect x="152.8" y="77.5" width="4.48" height="45.5" fill="#2E6A2E"/><rect x="197.6" y="72.95" width="4.48" height="45.5" fill="#2E6A2E"/><rect x="175.2" y="82.05000000000001" width="4.48" height="40.95" fill="#2E6A2E"/><rect x="150" y="32" width="25.2" height="54.6" rx="7.56" fill="#3F9640"/><polygon points="150,77.5 183.6,70.22 206,77.5 172.4,88.42" fill="#3F9640"/></g></svg><rect x="3723" y="1650.9" width="227.5999999999999" height="220.89999999999986" fill="none" stroke="#222" stroke-width="1.2" /><svg x="3958.4" y="1650.9" width="227.2" height="220.9" viewBox="0 0 228 221" preserveAspectRatio="none" overflow="hidden"><g filter="url(#mb)"><rect width="228" height="221" fill="#2C2520"/><polygon points="0,0 228,0 228,48 200,40 20,35 0,48" fill="#807E7C"/><polyline points="0,50 20,37 200,42 228,50" fill="none" stroke="#3A2A20" stroke-width="4"/><polygon points="0,80 40,70 60,120 10,135" fill="#4C4844" opacity="0.85"/><polygon points="100,150 170,130 190,200 120,220" fill="#4C4844" opacity="0.85"/><polygon points="0,175 50,165 65,221 0,221" fill="#4C4844" opacity="0.85"/><polygon points="180,85 228,75 228,140 200,145" fill="#4C4844" opacity="0.85"/><polygon points="55,30 95,25 105,60 65,66" fill="#4C4844" opacity="0.85"/><polygon points="150,60 190,55 195,90 155,95" fill="#4C4844" opacity="0.85"/><rect x="77.1" y="41.5" width="3.36" height="41.5" fill="#2E6A2E"/><rect x="110.69999999999999" y="37.35" width="3.36" height="41.5" fill="#2E6A2E"/><rect x="93.9" y="45.650000000000006" width="3.36" height="37.35" fill="#2E6A2E"/><rect x="75" y="0" width="18.900000000000002" height="49.8" rx="5.670000000000001" fill="#3F9640"/><polygon points="75,41.5 100.2,34.86 117,41.5 91.8,51.46" fill="#3F9640"/><rect x="24.4" y="75.0" width="3.84" height="49.0" fill="#5A2A7A"/><rect x="62.8" y="70.1" width="3.84" height="49.0" fill="#5A2A7A"/><rect x="43.6" y="79.9" width="3.84" height="44.1" fill="#5A2A7A"/><rect x="22" y="26" width="21.6" height="58.8" rx="6.48" fill="#8A44B4"/><polygon points="22,75.0 50.8,67.16 70,75.0 41.2,86.75999999999999" fill="#8A44B4"/><rect x="48.6" y="129.5" width="4.16" height="67.5" fill="#8A3838"/><rect x="90.19999999999999" y="122.75" width="4.16" height="67.5" fill="#8A3838"/><rect x="69.4" y="136.25" width="4.16" height="60.75" fill="#8A3838"/><rect x="46" y="62" width="23.400000000000002" height="81.0" rx="7.0200000000000005" fill="#B24A48"/><polygon points="46,129.5 77.2,118.69999999999999 98,129.5 66.8,145.7" fill="#B24A48"/><rect x="123.35" y="135.0" width="5.36" height="52.0" fill="#2E6A2E"/><rect x="176.95" y="129.8" width="5.36" height="52.0" fill="#2E6A2E"/><rect x="150.15" y="140.2" width="5.36" height="46.800000000000004" fill="#2E6A2E"/><rect x="120" y="83" width="30.150000000000002" height="62.4" rx="9.045" fill="#3F9640"/><polygon points="120,135.0 160.2,126.68 187,135.0 146.8,147.48000000000002" fill="#3F9640"/></g></svg><rect x="3958.4" y="1650.9" width="227.20000000000027" height="220.89999999999986" fill="none" stroke="#222" stroke-width="1.2" /><svg x="3253" y="1883.8" width="227.8" height="220.7" viewBox="0 0 228 221" preserveAspectRatio="none" overflow="hidden"><g filter="url(#mb)"><rect width="228" height="221" fill="#2C2520"/><polygon points="0,0 228,0 228,46 65,8 0,66" fill="#858381"/><polygon points="0,0 30,0 30,40 0,66" fill="#9A9896"/><polyline points="0,68 65,10 228,48" fill="none" stroke="#3A2A20" stroke-width="4"/><polygon points="0,80 40,70 60,120 10,135" fill="#4C4844" opacity="0.85"/><polygon points="100,150 170,130 190,200 120,220" fill="#4C4844" opacity="0.85"/><polygon points="0,175 50,165 65,221 0,221" fill="#4C4844" opacity="0.85"/><polygon points="180,85 228,75 228,140 200,145" fill="#4C4844" opacity="0.85"/><polygon points="55,30 95,25 105,60 65,66" fill="#4C4844" opacity="0.85"/><polygon points="150,60 190,55 195,90 155,95" fill="#4C4844" opacity="0.85"/><rect x="72.5" y="55.0" width="4.0" height="55.0" fill="#7A3030"/><rect x="112.5" y="49.5" width="4.0" height="55.0" fill="#7A3030"/><rect x="92.5" y="60.50000000000001" width="4.0" height="49.5" fill="#7A3030"/><rect x="70" y="0" width="22.5" height="66.0" rx="6.75" fill="#B24A48"/><polygon points="70,55.0 100.0,46.199999999999996 120,55.0 90.0,68.2" fill="#B24A48"/><rect x="130.0" y="40.0" width="3.2" height="40.0" fill="#5A2A7A"/><rect x="162.0" y="36.0" width="3.2" height="40.0" fill="#5A2A7A"/><rect x="146.0" y="44.0" width="3.2" height="36.0" fill="#5A2A7A"/><rect x="128" y="0" width="18.0" height="48.0" rx="5.3999999999999995" fill="#8A44B4"/><polygon points="128,40.0 152.0,33.6 168,40.0 144.0,49.6" fill="#8A44B4"/><rect x="80.6" y="104.0" width="4.16" height="60.0" fill="#2E6A2E"/><rect x="122.19999999999999" y="98.0" width="4.16" height="60.0" fill="#2E6A2E"/><rect x="101.4" y="110.0" width="4.16" height="54.0" fill="#2E6A2E"/><rect x="78" y="44" width="23.400000000000002" height="72.0" rx="7.0200000000000005" fill="#3F9640"/><polygon points="78,104.0 109.2,94.4 130,104.0 98.8,118.4" fill="#3F9640"/><rect x="170.1" y="89.5" width="3.36" height="47.5" fill="#2E6A2E"/><rect x="203.7" y="84.75" width="3.36" height="47.5" fill="#2E6A2E"/><rect x="186.9" y="94.25" width="3.36" height="42.75" fill="#2E6A2E"/><rect x="168" y="42" width="18.900000000000002" height="57.0" rx="5.670000000000001" fill="#3F9640"/><polygon points="168,89.5 193.2,81.9 210,89.5 184.8,100.9" fill="#3F9640"/></g></svg><rect x="3253" y="1883.8" width="227.80000000000018" height="220.70000000000005" fill="none" stroke="#222" stroke-width="1.2" /><svg x="3488" y="1883.8" width="227.7" height="220.7" viewBox="0 0 228 221" preserveAspectRatio="none" overflow="hidden"><g filter="url(#mb)"><rect width="228" height="221" fill="url(#wood)"/><polygon points="0,0 228,0 228,46 65,8 0,66" fill="#858381"/><polygon points="0,0 30,0 30,40 0,66" fill="#9A9896"/><polyline points="0,68 65,10 228,48" fill="none" stroke="#3A2A20" stroke-width="4"/><line x1="0" y1="100" x2="228" y2="30" stroke="#4A3626" stroke-width="3" opacity="0.6"/><line x1="0" y1="128" x2="228" y2="58" stroke="#4A3626" stroke-width="3" opacity="0.6"/><line x1="0" y1="156" x2="228" y2="86" stroke="#4A3626" stroke-width="3" opacity="0.6"/><line x1="0" y1="184" x2="228" y2="114" stroke="#4A3626" stroke-width="3" opacity="0.6"/><line x1="0" y1="212" x2="228" y2="142" stroke="#4A3626" stroke-width="3" opacity="0.6"/><line x1="0" y1="240" x2="228" y2="170" stroke="#4A3626" stroke-width="3" opacity="0.6"/><rect x="69.85" y="41.5" width="2.96" height="41.5" fill="#8A8430"/><rect x="99.45" y="37.35" width="2.96" height="41.5" fill="#8A8430"/><rect x="84.65" y="45.650000000000006" width="2.96" height="37.35" fill="#8A8430"/><rect x="68" y="0" width="16.650000000000002" height="49.8" rx="4.995" fill="#C8C24E"/><polygon points="68,41.5 90.2,34.86 105,41.5 82.8,51.46" fill="#C8C24E"/><rect x="2.6500000000000004" y="93.0" width="4.24" height="57.0" fill="#8A8430"/><rect x="45.05" y="87.30000000000001" width="4.24" height="57.0" fill="#8A8430"/><rect x="23.85" y="98.7" width="4.24" height="51.300000000000004" fill="#8A8430"/><rect x="0" y="36" width="23.85" height="68.39999999999999" rx="7.155" fill="#C8C24E"/><polygon points="0,93.0 31.799999999999997,83.88 53,93.0 21.200000000000003,106.67999999999999" fill="#C8C24E"/><rect x="142.8" y="46.5" width="2.88" height="46.5" fill="#2E6A2E"/><rect x="171.6" y="41.85" width="2.88" height="46.5" fill="#2E6A2E"/><rect x="157.2" y="51.150000000000006" width="2.88" height="41.85" fill="#2E6A2E"/><rect x="141" y="0" width="16.2" height="55.8" rx="4.859999999999999" fill="#3F9640"/><polygon points="141,46.5 162.6,39.059999999999995 177,46.5 155.4,57.66" fill="#3F9640"/><rect x="104.1" y="90.5" width="3.36" height="49.5" fill="#2E6A2E"/><rect x="137.7" y="85.55000000000001" width="3.36" height="49.5" fill="#2E6A2E"/><rect x="120.9" y="95.45" width="3.36" height="44.550000000000004" fill="#2E6A2E"/><rect x="102" y="41" width="18.900000000000002" height="59.4" rx="5.670000000000001" fill="#3F9640"/><polygon points="102,90.5 127.2,82.58 144,90.5 118.8,102.38" fill="#3F9640"/></g></svg><rect x="3488" y="1883.8" width="227.69999999999982" height="220.70000000000005" fill="none" stroke="#222" stroke-width="1.2" /><svg x="3723" y="1883.8" width="227.6" height="220.7" viewBox="0 0 228 221" preserveAspectRatio="none" overflow="hidden"><g filter="url(#mb)"><rect width="228" height="221" fill="url(#wood)"/><polygon points="0,0 228,0 228,46 65,8 0,66" fill="#858381"/><polygon points="0,0 30,0 30,40 0,66" fill="#9A9896"/><polyline points="0,68 65,10 228,48" fill="none" stroke="#3A2A20" stroke-width="4"/><line x1="0" y1="100" x2="228" y2="30" stroke="#4A3626" stroke-width="3" opacity="0.6"/><line x1="0" y1="128" x2="228" y2="58" stroke="#4A3626" stroke-width="3" opacity="0.6"/><line x1="0" y1="156" x2="228" y2="86" stroke="#4A3626" stroke-width="3" opacity="0.6"/><line x1="0" y1="184" x2="228" y2="114" stroke="#4A3626" stroke-width="3" opacity="0.6"/><line x1="0" y1="212" x2="228" y2="142" stroke="#4A3626" stroke-width="3" opacity="0.6"/><line x1="0" y1="240" x2="228" y2="170" stroke="#4A3626" stroke-width="3" opacity="0.6"/><rect x="57.25" y="37.5" width="3.6" height="37.5" fill="#7A3030"/><rect x="93.25" y="33.75" width="3.6" height="37.5" fill="#7A3030"/><rect x="75.25" y="41.25" width="3.6" height="33.75" fill="#7A3030"/><rect x="55" y="0" width="20.25" height="45.0" rx="6.075" fill="#B24A48"/><polygon points="55,37.5 82.0,31.5 100,37.5 73.0,46.5" fill="#B24A48"/><rect x="129.75" y="39.0" width="2.8000000000000003" height="39.0" fill="#5A2A7A"/><rect x="157.75" y="35.1" width="2.8000000000000003" height="39.0" fill="#5A2A7A"/><rect x="143.75" y="42.900000000000006" width="2.8000000000000003" height="35.1" fill="#5A2A7A"/><rect x="128" y="0" width="15.75" height="46.8" rx="4.725" fill="#8A44B4"/><polygon points="128,39.0 149.0,32.76 163,39.0 142.0,48.36" fill="#8A44B4"/><rect x="78.6" y="103.0" width="4.16" height="62.0" fill="#2E6A2E"/><rect x="120.19999999999999" y="96.80000000000001" width="4.16" height="62.0" fill="#2E6A2E"/><rect x="99.4" y="109.2" width="4.16" height="55.800000000000004" fill="#2E6A2E"/><rect x="76" y="41" width="23.400000000000002" height="74.39999999999999" rx="7.0200000000000005" fill="#3F9640"/><polygon points="76,103.0 107.2,93.08 128,103.0 96.8,117.88" fill="#3F9640"/><rect x="152.8" y="87.5" width="4.48" height="46.5" fill="#2E6A2E"/><rect x="197.6" y="82.85" width="4.48" height="46.5" fill="#2E6A2E"/><rect x="175.2" y="92.15" width="4.48" height="41.85" fill="#2E6A2E"/><rect x="150" y="41" width="25.2" height="55.8" rx="7.56" fill="#3F9640"/><polygon points="150,87.5 183.6,80.06 206,87.5 172.4,98.66" fill="#3F9640"/></g></svg><rect x="3723" y="1883.8" width="227.5999999999999" height="220.70000000000005" fill="none" stroke="#222" stroke-width="1.2" /><svg x="3958.4" y="1883.8" width="227.2" height="220.7" viewBox="0 0 228 221" preserveAspectRatio="none" overflow="hidden"><g filter="url(#mb)"><rect width="228" height="221" fill="url(#wood)"/><polygon points="0,0 228,0 228,48 200,40 20,35 0,48" fill="#807E7C"/><polyline points="0,50 20,37 200,42 228,50" fill="none" stroke="#3A2A20" stroke-width="4"/><line x1="0" y1="100" x2="228" y2="30" stroke="#4A3626" stroke-width="3" opacity="0.6"/><line x1="0" y1="128" x2="228" y2="58" stroke="#4A3626" stroke-width="3" opacity="0.6"/><line x1="0" y1="156" x2="228" y2="86" stroke="#4A3626" stroke-width="3" opacity="0.6"/><line x1="0" y1="184" x2="228" y2="114" stroke="#4A3626" stroke-width="3" opacity="0.6"/><line x1="0" y1="212" x2="228" y2="142" stroke="#4A3626" stroke-width="3" opacity="0.6"/><line x1="0" y1="240" x2="228" y2="170" stroke="#4A3626" stroke-width="3" opacity="0.6"/><rect x="77.1" y="41.5" width="3.36" height="41.5" fill="#2E6A2E"/><rect x="110.69999999999999" y="37.35" width="3.36" height="41.5" fill="#2E6A2E"/><rect x="93.9" y="45.650000000000006" width="3.36" height="37.35" fill="#2E6A2E"/><rect x="75" y="0" width="18.900000000000002" height="49.8" rx="5.670000000000001" fill="#3F9640"/><polygon points="75,41.5 100.2,34.86 117,41.5 91.8,51.46" fill="#3F9640"/><rect x="24.4" y="75.0" width="3.84" height="49.0" fill="#5A2A7A"/><rect x="62.8" y="70.1" width="3.84" height="49.0" fill="#5A2A7A"/><rect x="43.6" y="79.9" width="3.84" height="44.1" fill="#5A2A7A"/><rect x="22" y="26" width="21.6" height="58.8" rx="6.48" fill="#8A44B4"/><polygon points="22,75.0 50.8,67.16 70,75.0 41.2,86.75999999999999" fill="#8A44B4"/><rect x="48.6" y="129.5" width="4.16" height="67.5" fill="#8A3838"/><rect x="90.19999999999999" y="122.75" width="4.16" height="67.5" fill="#8A3838"/><rect x="69.4" y="136.25" width="4.16" height="60.75" fill="#8A3838"/><rect x="46" y="62" width="23.400000000000002" height="81.0" rx="7.0200000000000005" fill="#B24A48"/><polygon points="46,129.5 77.2,118.69999999999999 98,129.5 66.8,145.7" fill="#B24A48"/><rect x="130.35" y="72.5" width="3.7600000000000002" height="46.5" fill="#2E6A2E"/><rect x="167.95" y="67.85" width="3.7600000000000002" height="46.5" fill="#2E6A2E"/><rect x="149.15" y="77.15" width="3.7600000000000002" height="41.85" fill="#2E6A2E"/><rect x="128" y="26" width="21.150000000000002" height="55.8" rx="6.345000000000001" fill="#3F9640"/><polygon points="128,72.5 156.2,65.06 175,72.5 146.8,83.66" fill="#3F9640"/></g></svg><rect x="3958.4" y="1883.8" width="227.20000000000027" height="220.70000000000005" fill="none" stroke="#222" stroke-width="1.2" /><rect x="3183" y="1641.8" width="1011" height="1.6" fill="#000" stroke="none" stroke-width="1" /><rect x="3183" y="1876.0" width="1011" height="1.6" fill="#000" stroke="none" stroke-width="1" /><line x1="3183.4" y1="1641.8" x2="3183.4" y2="2108" stroke="#000" stroke-width="1.6" /><line x1="3243.6" y1="1641.8" x2="3243.6" y2="2108" stroke="#000" stroke-width="1.6" /><line x1="4193.4" y1="1641.8" x2="4193.4" y2="2108" stroke="#000" stroke-width="1.6" /><text x="3372.3" y="1621.7" font-family='"Liberation Serif", serif' font-size="42.5" font-weight="bold" text-anchor="middle" fill="#000" >Input image</text><text x="3609.6" y="1621.7" font-family='"Liberation Serif", serif' font-size="42.5" font-weight="bold" text-anchor="middle" fill="#000" >GT</text><text x="3847.4" y="1621.7" font-family='"Liberation Serif", serif' font-size="42.5" font-weight="bold" text-anchor="middle" fill="#000" >Input view</text><text x="4083.7" y="1621.7" font-family='"Liberation Serif", serif' font-size="42.5" font-weight="bold" text-anchor="middle" fill="#000" >Novel view</text><text transform="translate(3228.9,1752.6) rotate(-90)" font-family='"Liberation Serif", serif' font-size="41" font-weight="bold" text-anchor="middle" xml:space="preserve">Move</text><text transform="translate(3228.9,2001) rotate(-90)" font-family='"Liberation Serif", serif' font-size="41" font-weight="bold" text-anchor="middle" xml:space="preserve">Change Bg</text><defs><radialGradient id="flw" cx="0.5" cy="0.5" r="0.5"><stop offset="0" stop-color="#F4705C"/><stop offset="0.75" stop-color="#EE5E4C"/><stop offset="1" stop-color="#E85848" stop-opacity="0"/></radialGradient><filter id="fb" x="-5%" y="-5%" width="110%" height="110%"><feGaussianBlur stdDeviation="2"/></filter></defs><svg x="3229" y="2299.6" width="317.2" height="221.9" viewBox="0 0 317 222" preserveAspectRatio="none" overflow="hidden"><g filter="url(#fb)"><rect width="317" height="222" fill="#1E2C22"/><polygon points="0,160 120,175 200,222 0,222" fill="#262824"/><ellipse cx="184" cy="94" rx="64" ry="9" transform="rotate(146 184 94)" fill="#3B6A58"/><ellipse cx="79" cy="186" rx="37" ry="11" transform="rotate(14 79 186)" fill="#457566"/><ellipse cx="336" cy="1" rx="78" ry="12" transform="rotate(69 336 1)" fill="#4A7C58"/><ellipse cx="275" cy="53" rx="44" ry="9" transform="rotate(65 275 53)" fill="#355F45"/><ellipse cx="254" cy="228" rx="83" ry="12" transform="rotate(8 254 228)" fill="#2F5A3A"/><ellipse cx="64" cy="37" rx="80" ry="11" transform="rotate(139 64 37)" fill="#3E6E4A"/><ellipse cx="92" cy="123" rx="57" ry="8" transform="rotate(105 92 123)" fill="#3B6A58"/><ellipse cx="159" cy="194" rx="83" ry="9" transform="rotate(6 159 194)" fill="#4A7C58"/><ellipse cx="272" cy="149" rx="62" ry="14" transform="rotate(27 272 149)" fill="#2A4E36"/><ellipse cx="318" cy="211" rx="42" ry="15" transform="rotate(139 318 211)" fill="#355F45"/><ellipse cx="39" cy="185" rx="82" ry="10" transform="rotate(75 39 185)" fill="#3E6E4A"/><ellipse cx="223" cy="25" rx="61" ry="14" transform="rotate(48 223 25)" fill="#4A7C58"/><ellipse cx="39" cy="147" rx="76" ry="13" transform="rotate(86 39 147)" fill="#4A7C58"/><ellipse cx="97" cy="44" rx="62" ry="7" transform="rotate(161 97 44)" fill="#3E6E4A"/><ellipse cx="9" cy="98" rx="64" ry="10" transform="rotate(157 9 98)" fill="#457566"/><ellipse cx="299" cy="168" rx="85" ry="9" transform="rotate(87 299 168)" fill="#355F45"/><ellipse cx="2" cy="108" rx="58" ry="10" transform="rotate(76 2 108)" fill="#2A4E36"/><ellipse cx="105" cy="84" rx="70" ry="11" transform="rotate(18 105 84)" fill="#355F45"/><ellipse cx="276" cy="201" rx="57" ry="8" transform="rotate(63 276 201)" fill="#3E6E4A"/><ellipse cx="19" cy="100" rx="85" ry="11" transform="rotate(83 19 100)" fill="#355F45"/><ellipse cx="257" cy="213" rx="52" ry="9" transform="rotate(142 257 213)" fill="#355F45"/><ellipse cx="131" cy="147" rx="80" ry="8" transform="rotate(43 131 147)" fill="#2A4E36"/><ellipse cx="-8" cy="37" rx="80" ry="12" transform="rotate(113 -8 37)" fill="#2F5A3A"/><ellipse cx="268" cy="223" rx="57" ry="14" transform="rotate(129 268 223)" fill="#2F5A3A"/><ellipse cx="-3" cy="211" rx="73" ry="15" transform="rotate(177 -3 211)" fill="#4A7C58"/><ellipse cx="38" cy="106" rx="53" ry="10" transform="rotate(142 38 106)" fill="#4A7C58"/><ellipse cx="45" cy="133" rx="56" ry="15" transform="rotate(123 45 133)" fill="#4A7C58"/><ellipse cx="297" cy="102" rx="72" ry="13" transform="rotate(94 297 102)" fill="#355F45"/><ellipse cx="140" cy="170" rx="45" ry="12" transform="rotate(21 140 170)" fill="#3B6A58"/><ellipse cx="204" cy="41" rx="65" ry="14" transform="rotate(157 204 41)" fill="#457566"/><ellipse cx="51" cy="177" rx="75" ry="14" transform="rotate(63 51 177)" fill="#4A7C58"/><ellipse cx="143" cy="174" rx="66" ry="9" transform="rotate(125 143 174)" fill="#2A4E36"/><ellipse cx="158" cy="210" rx="55" ry="12" transform="rotate(63 158 210)" fill="#4A7C58"/><ellipse cx="152" cy="98" rx="59" ry="11" transform="rotate(124 152 98)" fill="#457566"/><ellipse cx="111" cy="165" rx="81" ry="8" transform="rotate(109 111 165)" fill="#355F45"/><ellipse cx="237" cy="6" rx="77" ry="14" transform="rotate(3 237 6)" fill="#4A7C58"/><ellipse cx="213" cy="8" rx="55" ry="10" transform="rotate(109 213 8)" fill="#3E6E4A"/><ellipse cx="40" cy="13" rx="75" ry="14" transform="rotate(40 40 13)" fill="#457566"/><ellipse cx="6" cy="92" rx="63" ry="15" transform="rotate(165 6 92)" fill="#3B6A58"/><ellipse cx="290" cy="-6" rx="45" ry="14" transform="rotate(103 290 -6)" fill="#2A4E36"/><ellipse cx="313" cy="127" rx="74" ry="14" transform="rotate(157 313 127)" fill="#457566"/><ellipse cx="227" cy="2" rx="63" ry="14" transform="rotate(71 227 2)" fill="#2A4E36"/><ellipse cx="208" cy="177" rx="41" ry="13" transform="rotate(62 208 177)" fill="#3E6E4A"/><ellipse cx="-9" cy="213" rx="61" ry="10" transform="rotate(72 -9 213)" fill="#2A4E36"/><ellipse cx="294" cy="4" rx="81" ry="11" transform="rotate(85 294 4)" fill="#355F45"/><ellipse cx="238" cy="229" rx="44" ry="14" transform="rotate(148 238 229)" fill="#4A7C58"/><ellipse cx="321" cy="114" rx="54" ry="8" transform="rotate(115 321 114)" fill="#2F5A3A"/><ellipse cx="313" cy="35" rx="67" ry="12" transform="rotate(175 313 35)" fill="#3B6A58"/><ellipse cx="302" cy="125" rx="83" ry="12" transform="rotate(30 302 125)" fill="#3E6E4A"/><ellipse cx="-2" cy="33" rx="67" ry="10" transform="rotate(33 -2 33)" fill="#3B6A58"/><ellipse cx="-5" cy="135" rx="56" ry="10" transform="rotate(35 -5 135)" fill="#3E6E4A"/><ellipse cx="40" cy="186" rx="83" ry="15" transform="rotate(59 40 186)" fill="#2F5A3A"/><ellipse cx="42" cy="203" rx="64" ry="10" transform="rotate(92 42 203)" fill="#457566"/><ellipse cx="120" cy="13" rx="83" ry="8" transform="rotate(19 120 13)" fill="#457566"/><ellipse cx="208" cy="165" rx="62" ry="14" transform="rotate(18 208 165)" fill="#3B6A58"/><ellipse cx="304" cy="140" rx="65" ry="11" transform="rotate(2 304 140)" fill="#3E6E4A"/><ellipse cx="324" cy="84" rx="46" ry="11" transform="rotate(137 324 84)" fill="#2F5A3A"/><ellipse cx="186" cy="87" rx="46" ry="10" transform="rotate(174 186 87)" fill="#3E6E4A"/><ellipse cx="202" cy="125" rx="36" ry="10" transform="rotate(6 202 125)" fill="#457566"/><ellipse cx="279" cy="72" rx="81" ry="13" transform="rotate(65 279 72)" fill="#457566"/><ellipse cx="150" cy="181" rx="36" ry="8" transform="rotate(173 150 181)" fill="#3E6E4A"/><ellipse cx="68" cy="50" rx="66" ry="12" transform="rotate(75 68 50)" fill="#2A4E36"/><ellipse cx="252" cy="20" rx="41" ry="14" transform="rotate(123 252 20)" fill="#3B6A58"/><ellipse cx="330" cy="20" rx="54" ry="7" transform="rotate(78 330 20)" fill="#457566"/><ellipse cx="45" cy="92" rx="37" ry="8" transform="rotate(126 45 92)" fill="#2A4E36"/><ellipse cx="144" cy="71" rx="37" ry="12" transform="rotate(88 144 71)" fill="#457566"/><ellipse cx="235" cy="151" rx="42" ry="9" transform="rotate(16 235 151)" fill="#2F5A3A"/><ellipse cx="35" cy="9" rx="61" ry="8" transform="rotate(19 35 9)" fill="#2F5A3A"/><ellipse cx="83" cy="140" rx="52" ry="7" transform="rotate(47 83 140)" fill="#3B6A58"/><ellipse cx="165" cy="202" rx="42" ry="7" transform="rotate(10 165 202)" fill="#2F5A3A"/><ellipse cx="258" cy="197" rx="50" ry="25" fill="#4A8456"/><ellipse cx="255" cy="195" rx="35" ry="14" fill="#5A9666"/><ellipse cx="60" cy="65" rx="27" ry="22" fill="#E4503C"/><ellipse cx="95" cy="55" rx="32" ry="27" fill="#E4503C"/><ellipse cx="150" cy="45" rx="27" ry="25" fill="#E4503C"/><ellipse cx="165" cy="95" rx="27" ry="27" fill="#E4503C"/><ellipse cx="130" cy="100" rx="32" ry="27" fill="#E4503C"/><ellipse cx="80" cy="110" rx="32" ry="27" fill="#E4503C"/><ellipse cx="100" cy="140" rx="27" ry="20" fill="#E4503C"/><ellipse cx="150" cy="130" rx="27" ry="22" fill="#E4503C"/><ellipse cx="55" cy="95" rx="20" ry="18" fill="#E4503C"/><ellipse cx="120" cy="30" rx="16" ry="11" fill="#E4503C"/><ellipse cx="170" cy="60" rx="16" ry="22" fill="#E4503C"/><ellipse cx="110" cy="80" rx="27" ry="22" fill="#E4503C"/><ellipse cx="50.1" cy="55.4" rx="15.1" ry="8.2" transform="rotate(224 50.1 55.4)" fill="#EE5A44"/><ellipse cx="63.4" cy="51.7" rx="15.1" ry="8.2" transform="rotate(284 63.4 51.7)" fill="#F2644E"/><ellipse cx="73.2" cy="61.3" rx="15.1" ry="8.2" transform="rotate(344 73.2 61.3)" fill="#F68A72"/><ellipse cx="69.9" cy="74.6" rx="15.1" ry="8.2" transform="rotate(404 69.9 74.6)" fill="#F57A64"/><ellipse cx="56.6" cy="78.3" rx="15.1" ry="8.2" transform="rotate(464 56.6 78.3)" fill="#F2644E"/><ellipse cx="46.8" cy="68.7" rx="15.1" ry="8.2" transform="rotate(524 46.8 68.7)" fill="#F57A64"/><circle cx="60" cy="65" r="4.4" fill="#F9C85A"/><circle cx="67.3" cy="71.3" r="1.8" fill="#6A3070"/><circle cx="50.6" cy="66.9" r="1.8" fill="#6A3070"/><circle cx="60.2" cy="74.6" r="1.8" fill="#6A3070"/><circle cx="50.7" cy="62.4" r="1.8" fill="#6A3070"/><ellipse cx="80.5" cy="47.7" rx="17.9" ry="9.8" transform="rotate(207 80.5 47.7)" fill="#F2644E"/><ellipse cx="94.0" cy="38.8" rx="17.9" ry="9.8" transform="rotate(267 94.0 38.8)" fill="#F57A64"/><ellipse cx="108.6" cy="46.1" rx="17.9" ry="9.8" transform="rotate(327 108.6 46.1)" fill="#F68A72"/><ellipse cx="109.5" cy="62.3" rx="17.9" ry="9.8" transform="rotate(387 109.5 62.3)" fill="#EE5A44"/><ellipse cx="96.0" cy="71.2" rx="17.9" ry="9.8" transform="rotate(447 96.0 71.2)" fill="#F57A64"/><ellipse cx="81.4" cy="64.0" rx="17.9" ry="9.8" transform="rotate(507 81.4 64.0)" fill="#F68A72"/><circle cx="95" cy="55" r="5.2" fill="#F9C85A"/><circle cx="101.1" cy="64.6" r="1.8" fill="#6A3070"/><circle cx="98.3" cy="44.1" r="1.8" fill="#6A3070"/><circle cx="102.3" cy="63.7" r="1.8" fill="#6A3070"/><circle cx="86.6" cy="47.3" r="1.8" fill="#6A3070"/><ellipse cx="160.1" cy="55.4" rx="16.0" ry="8.7" transform="rotate(46 160.1 55.4)" fill="#F2644E"/><ellipse cx="146.1" cy="59.0" rx="16.0" ry="8.7" transform="rotate(106 146.1 59.0)" fill="#F2644E"/><ellipse cx="136.0" cy="48.6" rx="16.0" ry="8.7" transform="rotate(166 136.0 48.6)" fill="#F57A64"/><ellipse cx="139.9" cy="34.6" rx="16.0" ry="8.7" transform="rotate(226 139.9 34.6)" fill="#F57A64"/><ellipse cx="153.9" cy="31.0" rx="16.0" ry="8.7" transform="rotate(286 153.9 31.0)" fill="#F57A64"/><ellipse cx="164.0" cy="41.4" rx="16.0" ry="8.7" transform="rotate(346 164.0 41.4)" fill="#F57A64"/><circle cx="150" cy="45" r="4.6" fill="#F9C85A"/><circle cx="147.5" cy="54.8" r="1.8" fill="#6A3070"/><circle cx="159.9" cy="42.6" r="1.8" fill="#6A3070"/><circle cx="140.2" cy="42.5" r="1.8" fill="#6A3070"/><circle cx="145.6" cy="35.9" r="1.8" fill="#6A3070"/><ellipse cx="169.2" cy="109.4" rx="16.5" ry="9.0" transform="rotate(74 169.2 109.4)" fill="#F57A64"/><ellipse cx="154.6" cy="105.8" rx="16.5" ry="9.0" transform="rotate(134 154.6 105.8)" fill="#F68A72"/><ellipse cx="150.4" cy="91.4" rx="16.5" ry="9.0" transform="rotate(194 150.4 91.4)" fill="#EE5A44"/><ellipse cx="160.8" cy="80.6" rx="16.5" ry="9.0" transform="rotate(254 160.8 80.6)" fill="#F2644E"/><ellipse cx="175.4" cy="84.2" rx="16.5" ry="9.0" transform="rotate(314 175.4 84.2)" fill="#EE5A44"/><ellipse cx="179.6" cy="98.5" rx="16.5" ry="9.0" transform="rotate(374 179.6 98.5)" fill="#F68A72"/><circle cx="165" cy="95" r="4.8" fill="#F9C85A"/><circle cx="170.3" cy="104.1" r="1.8" fill="#6A3070"/><circle cx="171.4" cy="103.3" r="1.8" fill="#6A3070"/><circle cx="174.6" cy="99.2" r="1.8" fill="#6A3070"/><circle cx="161.7" cy="105.0" r="1.8" fill="#6A3070"/><ellipse cx="117.0" cy="90.2" rx="17.9" ry="9.8" transform="rotate(217 117.0 90.2)" fill="#F2644E"/><ellipse cx="132.0" cy="83.9" rx="17.9" ry="9.8" transform="rotate(277 132.0 83.9)" fill="#EE5A44"/><ellipse cx="145.0" cy="93.7" rx="17.9" ry="9.8" transform="rotate(337 145.0 93.7)" fill="#F2644E"/><ellipse cx="143.0" cy="109.8" rx="17.9" ry="9.8" transform="rotate(397 143.0 109.8)" fill="#EE5A44"/><ellipse cx="128.0" cy="116.1" rx="17.9" ry="9.8" transform="rotate(457 128.0 116.1)" fill="#EE5A44"/><ellipse cx="115.0" cy="106.3" rx="17.9" ry="9.8" transform="rotate(517 115.0 106.3)" fill="#EE5A44"/><circle cx="130" cy="100" r="5.2" fill="#F9C85A"/><circle cx="118.7" cy="101.4" r="1.8" fill="#6A3070"/><circle cx="125.4" cy="110.4" r="1.8" fill="#6A3070"/><circle cx="118.7" cy="101.3" r="1.8" fill="#6A3070"/><circle cx="126.8" cy="89.1" r="1.8" fill="#6A3070"/><ellipse cx="95.2" cy="115.7" rx="17.9" ry="9.8" transform="rotate(21 95.2 115.7)" fill="#F2644E"/><ellipse cx="82.7" cy="126.0" rx="17.9" ry="9.8" transform="rotate(81 82.7 126.0)" fill="#EE5A44"/><ellipse cx="67.5" cy="120.3" rx="17.9" ry="9.8" transform="rotate(140 67.5 120.3)" fill="#F68A72"/><ellipse cx="64.8" cy="104.3" rx="17.9" ry="9.8" transform="rotate(200 64.8 104.3)" fill="#F2644E"/><ellipse cx="77.3" cy="94.0" rx="17.9" ry="9.8" transform="rotate(260 77.3 94.0)" fill="#F68A72"/><ellipse cx="92.5" cy="99.7" rx="17.9" ry="9.8" transform="rotate(320 92.5 99.7)" fill="#EE5A44"/><circle cx="80" cy="110" r="5.2" fill="#F9C85A"/><circle cx="71.9" cy="118.0" r="1.8" fill="#6A3070"/><circle cx="86.2" cy="100.4" r="1.8" fill="#6A3070"/><circle cx="69.1" cy="113.3" r="1.8" fill="#6A3070"/><circle cx="77.0" cy="99.0" r="1.8" fill="#6A3070"/><ellipse cx="90.7" cy="130.9" rx="14.3" ry="7.8" transform="rotate(225 90.7 130.9)" fill="#F57A64"/><ellipse cx="103.3" cy="127.4" rx="14.3" ry="7.8" transform="rotate(285 103.3 127.4)" fill="#F2644E"/><ellipse cx="112.5" cy="136.5" rx="14.3" ry="7.8" transform="rotate(345 112.5 136.5)" fill="#F57A64"/><ellipse cx="109.3" cy="149.1" rx="14.3" ry="7.8" transform="rotate(404 109.3 149.1)" fill="#F68A72"/><ellipse cx="96.7" cy="152.6" rx="14.3" ry="7.8" transform="rotate(464 96.7 152.6)" fill="#EE5A44"/><ellipse cx="87.5" cy="143.5" rx="14.3" ry="7.8" transform="rotate(524 87.5 143.5)" fill="#EE5A44"/><circle cx="100" cy="140" r="4.2" fill="#F9C85A"/><circle cx="107.1" cy="134.3" r="1.8" fill="#6A3070"/><circle cx="99.9" cy="149.1" r="1.8" fill="#6A3070"/><circle cx="91.1" cy="142.1" r="1.8" fill="#6A3070"/><circle cx="92.3" cy="135.1" r="1.8" fill="#6A3070"/><ellipse cx="152.7" cy="116.5" rx="15.1" ry="8.2" transform="rotate(281 152.7 116.5)" fill="#EE5A44"/><ellipse cx="163.0" cy="125.6" rx="15.1" ry="8.2" transform="rotate(341 163.0 125.6)" fill="#EE5A44"/><ellipse cx="160.4" cy="139.0" rx="15.1" ry="8.2" transform="rotate(401 160.4 139.0)" fill="#F2644E"/><ellipse cx="147.3" cy="143.5" rx="15.1" ry="8.2" transform="rotate(461 147.3 143.5)" fill="#F68A72"/><ellipse cx="137.0" cy="134.5" rx="15.1" ry="8.2" transform="rotate(521 137.0 134.5)" fill="#F2644E"/><ellipse cx="139.6" cy="121.0" rx="15.1" ry="8.2" transform="rotate(581 139.6 121.0)" fill="#F57A64"/><circle cx="150" cy="130" r="4.4" fill="#F9C85A"/><circle cx="144.8" cy="138.1" r="1.8" fill="#6A3070"/><circle cx="142.6" cy="123.8" r="1.8" fill="#6A3070"/><circle cx="158.4" cy="125.3" r="1.8" fill="#6A3070"/><circle cx="144.8" cy="138.1" r="1.8" fill="#6A3070"/><ellipse cx="64.3" cy="90.2" rx="11.6" ry="6.3" transform="rotate(333 64.3 90.2)" fill="#F2644E"/><ellipse cx="63.8" cy="100.7" rx="11.6" ry="6.3" transform="rotate(393 63.8 100.7)" fill="#EE5A44"/><ellipse cx="54.5" cy="105.5" rx="11.6" ry="6.3" transform="rotate(453 54.5 105.5)" fill="#EE5A44"/><ellipse cx="45.7" cy="99.8" rx="11.6" ry="6.3" transform="rotate(513 45.7 99.8)" fill="#EE5A44"/><ellipse cx="46.2" cy="89.3" rx="11.6" ry="6.3" transform="rotate(573 46.2 89.3)" fill="#F57A64"/><ellipse cx="55.5" cy="84.5" rx="11.6" ry="6.3" transform="rotate(633 55.5 84.5)" fill="#F2644E"/><circle cx="55" cy="95" r="3.4" fill="#F9C85A"/><circle cx="49.9" cy="89.7" r="1.8" fill="#6A3070"/><circle cx="53.7" cy="87.8" r="1.8" fill="#6A3070"/><circle cx="52.3" cy="101.8" r="1.8" fill="#6A3070"/><circle cx="47.7" cy="95.7" r="1.8" fill="#6A3070"/><ellipse cx="118.6" cy="22.6" rx="8.2" ry="4.5" transform="rotate(259 118.6 22.6)" fill="#F2644E"/><ellipse cx="125.7" cy="25.1" rx="8.2" ry="4.5" transform="rotate(319 125.7 25.1)" fill="#F68A72"/><ellipse cx="127.1" cy="32.5" rx="8.2" ry="4.5" transform="rotate(379 127.1 32.5)" fill="#F2644E"/><ellipse cx="121.4" cy="37.4" rx="8.2" ry="4.5" transform="rotate(439 121.4 37.4)" fill="#F57A64"/><ellipse cx="114.3" cy="34.9" rx="8.2" ry="4.5" transform="rotate(499 114.3 34.9)" fill="#EE5A44"/><ellipse cx="112.9" cy="27.5" rx="8.2" ry="4.5" transform="rotate(559 112.9 27.5)" fill="#EE5A44"/><circle cx="120" cy="30" r="2.4" fill="#F9C85A"/><circle cx="115.0" cy="31.4" r="1.8" fill="#6A3070"/><circle cx="115.4" cy="32.5" r="1.8" fill="#6A3070"/><circle cx="124.9" cy="31.8" r="1.8" fill="#6A3070"/><circle cx="124.5" cy="27.4" r="1.8" fill="#6A3070"/><ellipse cx="180.5" cy="62.2" rx="11.8" ry="6.5" transform="rotate(12 180.5 62.2)" fill="#F68A72"/><ellipse cx="173.4" cy="70.2" rx="11.8" ry="6.5" transform="rotate(72 173.4 70.2)" fill="#EE5A44"/><ellipse cx="162.8" cy="68.0" rx="11.8" ry="6.5" transform="rotate(132 162.8 68.0)" fill="#F57A64"/><ellipse cx="159.5" cy="57.8" rx="11.8" ry="6.5" transform="rotate(192 159.5 57.8)" fill="#F57A64"/><ellipse cx="166.6" cy="49.8" rx="11.8" ry="6.5" transform="rotate(252 166.6 49.8)" fill="#F57A64"/><ellipse cx="177.2" cy="52.0" rx="11.8" ry="6.5" transform="rotate(312 177.2 52.0)" fill="#F68A72"/><circle cx="170" cy="60" r="3.4" fill="#F9C85A"/><circle cx="175.9" cy="64.7" r="1.8" fill="#6A3070"/><circle cx="163.1" cy="63.0" r="1.8" fill="#6A3070"/><circle cx="174.5" cy="66.1" r="1.8" fill="#6A3070"/><circle cx="174.2" cy="53.8" r="1.8" fill="#6A3070"/><ellipse cx="106.2" cy="93.2" rx="15.1" ry="8.2" transform="rotate(106 106.2 93.2)" fill="#F68A72"/><ellipse cx="96.7" cy="83.3" rx="15.1" ry="8.2" transform="rotate(166 96.7 83.3)" fill="#F57A64"/><ellipse cx="100.5" cy="70.1" rx="15.1" ry="8.2" transform="rotate(226 100.5 70.1)" fill="#F68A72"/><ellipse cx="113.8" cy="66.8" rx="15.1" ry="8.2" transform="rotate(286 113.8 66.8)" fill="#F68A72"/><ellipse cx="123.3" cy="76.7" rx="15.1" ry="8.2" transform="rotate(346 123.3 76.7)" fill="#EE5A44"/><ellipse cx="119.5" cy="89.9" rx="15.1" ry="8.2" transform="rotate(406 119.5 89.9)" fill="#F68A72"/><circle cx="110" cy="80" r="4.4" fill="#F9C85A"/><circle cx="108.6" cy="89.5" r="1.8" fill="#6A3070"/><circle cx="100.5" cy="81.8" r="1.8" fill="#6A3070"/><circle cx="117.9" cy="74.4" r="1.8" fill="#6A3070"/><circle cx="117.3" cy="86.3" r="1.8" fill="#6A3070"/></g><rect x="100.4" y="134" width="54.79999999999998" height="51" fill="none" stroke="#FFBE0B" stroke-width="3.6" stroke-dasharray="15,8"/></svg><svg x="3229" y="2529.2" width="317.2" height="222.0" viewBox="0 0 317 222" preserveAspectRatio="none" overflow="hidden"><g filter="url(#fb)"><rect width="317" height="222" fill="#1E2C22"/><polygon points="60,170 200,160 230,222 40,222" fill="#262824"/><ellipse cx="141" cy="125" rx="81" ry="11" transform="rotate(91 141 125)" fill="#2A4E36"/><ellipse cx="48" cy="185" rx="59" ry="12" transform="rotate(34 48 185)" fill="#355F45"/><ellipse cx="88" cy="12" rx="75" ry="13" transform="rotate(8 88 12)" fill="#355F45"/><ellipse cx="324" cy="148" rx="66" ry="8" transform="rotate(3 324 148)" fill="#2A4E36"/><ellipse cx="3" cy="-1" rx="79" ry="12" transform="rotate(140 3 -1)" fill="#4A7C58"/><ellipse cx="137" cy="194" rx="61" ry="12" transform="rotate(90 137 194)" fill="#457566"/><ellipse cx="10" cy="148" rx="55" ry="11" transform="rotate(168 10 148)" fill="#2F5A3A"/><ellipse cx="233" cy="66" rx="46" ry="9" transform="rotate(13 233 66)" fill="#3B6A58"/><ellipse cx="19" cy="16" rx="50" ry="8" transform="rotate(3 19 16)" fill="#457566"/><ellipse cx="-20" cy="41" rx="81" ry="11" transform="rotate(176 -20 41)" fill="#355F45"/><ellipse cx="130" cy="127" rx="45" ry="12" transform="rotate(61 130 127)" fill="#4A7C58"/><ellipse cx="99" cy="223" rx="73" ry="8" transform="rotate(44 99 223)" fill="#2F5A3A"/><ellipse cx="-16" cy="103" rx="59" ry="12" transform="rotate(34 -16 103)" fill="#2A4E36"/><ellipse cx="48" cy="167" rx="42" ry="12" transform="rotate(21 48 167)" fill="#355F45"/><ellipse cx="333" cy="-10" rx="78" ry="15" transform="rotate(107 333 -10)" fill="#2F5A3A"/><ellipse cx="55" cy="85" rx="78" ry="12" transform="rotate(18 55 85)" fill="#3E6E4A"/><ellipse cx="56" cy="53" rx="74" ry="10" transform="rotate(53 56 53)" fill="#2F5A3A"/><ellipse cx="7" cy="41" rx="67" ry="7" transform="rotate(66 7 41)" fill="#2A4E36"/><ellipse cx="142" cy="222" rx="59" ry="12" transform="rotate(156 142 222)" fill="#3E6E4A"/><ellipse cx="204" cy="65" rx="46" ry="12" transform="rotate(131 204 65)" fill="#3E6E4A"/><ellipse cx="244" cy="218" rx="45" ry="15" transform="rotate(159 244 218)" fill="#2A4E36"/><ellipse cx="8" cy="1" rx="40" ry="11" transform="rotate(46 8 1)" fill="#457566"/><ellipse cx="232" cy="52" rx="76" ry="12" transform="rotate(53 232 52)" fill="#3E6E4A"/><ellipse cx="312" cy="226" rx="41" ry="11" transform="rotate(118 312 226)" fill="#2A4E36"/><ellipse cx="199" cy="58" rx="81" ry="9" transform="rotate(3 199 58)" fill="#4A7C58"/><ellipse cx="127" cy="50" rx="37" ry="9" transform="rotate(96 127 50)" fill="#3E6E4A"/><ellipse cx="13" cy="23" rx="58" ry="10" transform="rotate(132 13 23)" fill="#2A4E36"/><ellipse cx="189" cy="24" rx="37" ry="7" transform="rotate(164 189 24)" fill="#457566"/><ellipse cx="91" cy="-2" rx="65" ry="8" transform="rotate(12 91 -2)" fill="#4A7C58"/><ellipse cx="94" cy="232" rx="39" ry="11" transform="rotate(133 94 232)" fill="#457566"/><ellipse cx="243" cy="21" rx="83" ry="10" transform="rotate(15 243 21)" fill="#355F45"/><ellipse cx="302" cy="201" rx="56" ry="13" transform="rotate(155 302 201)" fill="#2A4E36"/><ellipse cx="-15" cy="150" rx="54" ry="7" transform="rotate(13 -15 150)" fill="#2F5A3A"/><ellipse cx="208" cy="230" rx="79" ry="13" transform="rotate(70 208 230)" fill="#457566"/><ellipse cx="228" cy="101" rx="58" ry="11" transform="rotate(93 228 101)" fill="#2A4E36"/><ellipse cx="-9" cy="136" rx="59" ry="9" transform="rotate(126 -9 136)" fill="#355F45"/><ellipse cx="258" cy="150" rx="59" ry="14" transform="rotate(66 258 150)" fill="#3E6E4A"/><ellipse cx="222" cy="39" rx="43" ry="14" transform="rotate(119 222 39)" fill="#355F45"/><ellipse cx="158" cy="48" rx="55" ry="9" transform="rotate(114 158 48)" fill="#3B6A58"/><ellipse cx="268" cy="211" rx="79" ry="10" transform="rotate(105 268 211)" fill="#4A7C58"/><ellipse cx="55" cy="23" rx="53" ry="14" transform="rotate(7 55 23)" fill="#2F5A3A"/><ellipse cx="319" cy="57" rx="43" ry="11" transform="rotate(50 319 57)" fill="#3E6E4A"/><ellipse cx="277" cy="83" rx="61" ry="12" transform="rotate(129 277 83)" fill="#3B6A58"/><ellipse cx="331" cy="99" rx="39" ry="7" transform="rotate(157 331 99)" fill="#2F5A3A"/><ellipse cx="222" cy="58" rx="53" ry="12" transform="rotate(102 222 58)" fill="#457566"/><ellipse cx="29" cy="100" rx="36" ry="14" transform="rotate(43 29 100)" fill="#3E6E4A"/><ellipse cx="264" cy="228" rx="41" ry="8" transform="rotate(96 264 228)" fill="#457566"/><ellipse cx="268" cy="222" rx="69" ry="9" transform="rotate(86 268 222)" fill="#3E6E4A"/><ellipse cx="235" cy="173" rx="62" ry="7" transform="rotate(41 235 173)" fill="#3B6A58"/><ellipse cx="103" cy="159" rx="61" ry="12" transform="rotate(136 103 159)" fill="#355F45"/><ellipse cx="283" cy="159" rx="46" ry="10" transform="rotate(161 283 159)" fill="#355F45"/><ellipse cx="26" cy="100" rx="66" ry="14" transform="rotate(68 26 100)" fill="#2A4E36"/><ellipse cx="213" cy="112" rx="76" ry="10" transform="rotate(59 213 112)" fill="#3E6E4A"/><ellipse cx="15" cy="200" rx="75" ry="14" transform="rotate(22 15 200)" fill="#3E6E4A"/><ellipse cx="301" cy="227" rx="84" ry="11" transform="rotate(142 301 227)" fill="#4A7C58"/><ellipse cx="73" cy="164" rx="36" ry="11" transform="rotate(7 73 164)" fill="#4A7C58"/><ellipse cx="176" cy="176" rx="59" ry="7" transform="rotate(146 176 176)" fill="#2F5A3A"/><ellipse cx="133" cy="-2" rx="62" ry="12" transform="rotate(165 133 -2)" fill="#355F45"/><ellipse cx="33" cy="115" rx="71" ry="14" transform="rotate(124 33 115)" fill="#355F45"/><ellipse cx="187" cy="157" rx="73" ry="11" transform="rotate(101 187 157)" fill="#3B6A58"/><ellipse cx="240" cy="145" rx="61" ry="14" transform="rotate(101 240 145)" fill="#4A7C58"/><ellipse cx="220" cy="221" rx="79" ry="12" transform="rotate(55 220 221)" fill="#3E6E4A"/><ellipse cx="326" cy="117" rx="64" ry="9" transform="rotate(96 326 117)" fill="#2A4E36"/><ellipse cx="-18" cy="81" rx="62" ry="7" transform="rotate(165 -18 81)" fill="#2A4E36"/><ellipse cx="266" cy="126" rx="60" ry="13" transform="rotate(12 266 126)" fill="#2A4E36"/><ellipse cx="144" cy="213" rx="75" ry="10" transform="rotate(44 144 213)" fill="#355F45"/><ellipse cx="25" cy="95" rx="76" ry="14" transform="rotate(86 25 95)" fill="#4A7C58"/><ellipse cx="19" cy="92" rx="36" ry="9" transform="rotate(126 19 92)" fill="#2F5A3A"/><ellipse cx="-7" cy="28" rx="36" ry="9" transform="rotate(130 -7 28)" fill="#3E6E4A"/><ellipse cx="201" cy="15" rx="72" ry="8" transform="rotate(92 201 15)" fill="#4A7C58"/><ellipse cx="236" cy="160" rx="79" ry="7" transform="rotate(114 236 160)" fill="#3B6A58"/><ellipse cx="169" cy="29" rx="45" ry="12" transform="rotate(115 169 29)" fill="#2A4E36"/><ellipse cx="57" cy="121" rx="64" ry="8" transform="rotate(165 57 121)" fill="#457566"/><ellipse cx="269" cy="208" rx="51" ry="10" transform="rotate(166 269 208)" fill="#3E6E4A"/><ellipse cx="258" cy="37" rx="40" ry="14" transform="rotate(24 258 37)" fill="#2F5A3A"/><ellipse cx="73" cy="13" rx="77" ry="10" transform="rotate(142 73 13)" fill="#3E6E4A"/><ellipse cx="52" cy="142" rx="75" ry="8" transform="rotate(103 52 142)" fill="#4A7C58"/><ellipse cx="305" cy="224" rx="41" ry="11" transform="rotate(136 305 224)" fill="#2A4E36"/><ellipse cx="336" cy="192" rx="75" ry="11" transform="rotate(4 336 192)" fill="#3B6A58"/><ellipse cx="177" cy="115" rx="63" ry="8" transform="rotate(33 177 115)" fill="#3E6E4A"/><ellipse cx="78" cy="202" rx="37" ry="9" transform="rotate(173 78 202)" fill="#56906A"/><ellipse cx="22" cy="116" rx="79" ry="11" transform="rotate(5 22 116)" fill="#56906A"/><ellipse cx="10" cy="93" rx="70" ry="14" transform="rotate(10 10 93)" fill="#3E7450"/><ellipse cx="19" cy="216" rx="42" ry="11" transform="rotate(150 19 216)" fill="#4A845A"/><ellipse cx="69" cy="68" rx="76" ry="13" transform="rotate(60 69 68)" fill="#56906A"/><ellipse cx="53" cy="144" rx="70" ry="9" transform="rotate(141 53 144)" fill="#56906A"/><ellipse cx="152" cy="94" rx="57" ry="8" transform="rotate(105 152 94)" fill="#4A845A"/><ellipse cx="15" cy="159" rx="41" ry="14" transform="rotate(83 15 159)" fill="#4A845A"/><ellipse cx="80" cy="163" rx="79" ry="12" transform="rotate(82 80 163)" fill="#56906A"/><ellipse cx="12" cy="66" rx="42" ry="10" transform="rotate(143 12 66)" fill="#2F5E40"/><ellipse cx="18" cy="179" rx="44" ry="7" transform="rotate(86 18 179)" fill="#56906A"/><ellipse cx="154" cy="131" rx="75" ry="9" transform="rotate(29 154 131)" fill="#3E7450"/><ellipse cx="114" cy="88" rx="52" ry="13" transform="rotate(10 114 88)" fill="#56906A"/><ellipse cx="9" cy="142" rx="46" ry="12" transform="rotate(179 9 142)" fill="#3E7450"/><ellipse cx="53" cy="100" rx="75" ry="13" transform="rotate(170 53 100)" fill="#4A845A"/><ellipse cx="140" cy="164" rx="43" ry="13" transform="rotate(5 140 164)" fill="#3E7450"/><ellipse cx="67" cy="169" rx="56" ry="11" transform="rotate(6 67 169)" fill="#3E7450"/><ellipse cx="100" cy="101" rx="70" ry="11" transform="rotate(95 100 101)" fill="#56906A"/><ellipse cx="100" cy="67" rx="53" ry="13" transform="rotate(20 100 67)" fill="#4A845A"/><ellipse cx="52" cy="102" rx="41" ry="13" transform="rotate(106 52 102)" fill="#4A845A"/><ellipse cx="3" cy="179" rx="73" ry="10" transform="rotate(108 3 179)" fill="#2F5E40"/><ellipse cx="6" cy="181" rx="50" ry="11" transform="rotate(45 6 181)" fill="#2F5E40"/><ellipse cx="168" cy="103" rx="72" ry="9" transform="rotate(108 168 103)" fill="#2F5E40"/><ellipse cx="56" cy="217" rx="81" ry="11" transform="rotate(130 56 217)" fill="#2F5E40"/><ellipse cx="4" cy="130" rx="53" ry="13" transform="rotate(167 4 130)" fill="#2F5E40"/><ellipse cx="9" cy="186" rx="82" ry="7" transform="rotate(113 9 186)" fill="#3E7450"/><ellipse cx="20" cy="151" rx="52" ry="12" transform="rotate(64 20 151)" fill="#56906A"/><ellipse cx="160" cy="207" rx="73" ry="8" transform="rotate(71 160 207)" fill="#4A845A"/><ellipse cx="124" cy="96" rx="59" ry="7" transform="rotate(12 124 96)" fill="#3E7450"/><ellipse cx="2" cy="138" rx="62" ry="10" transform="rotate(104 2 138)" fill="#4A845A"/><ellipse cx="190" cy="80" rx="27" ry="22" fill="#E4503C"/><ellipse cx="230" cy="55" rx="32" ry="25" fill="#E4503C"/><ellipse cx="275" cy="60" rx="22" ry="27" fill="#E4503C"/><ellipse cx="295" cy="110" rx="22" ry="27" fill="#E4503C"/><ellipse cx="255" cy="110" rx="32" ry="27" fill="#E4503C"/><ellipse cx="210" cy="120" rx="32" ry="27" fill="#E4503C"/><ellipse cx="225" cy="150" rx="27" ry="18" fill="#E4503C"/><ellipse cx="270" cy="145" rx="27" ry="20" fill="#E4503C"/><ellipse cx="175" cy="115" rx="20" ry="22" fill="#E4503C"/><ellipse cx="240" cy="30" rx="18" ry="11" fill="#E4503C"/><ellipse cx="305" cy="80" rx="11" ry="22" fill="#E4503C"/><ellipse cx="240" cy="90" rx="27" ry="22" fill="#E4503C"/><ellipse cx="183.8" cy="92.3" rx="15.1" ry="8.2" transform="rotate(117 183.8 92.3)" fill="#F57A64"/><ellipse cx="176.3" cy="80.8" rx="15.1" ry="8.2" transform="rotate(177 176.3 80.8)" fill="#F68A72"/><ellipse cx="182.4" cy="68.5" rx="15.1" ry="8.2" transform="rotate(237 182.4 68.5)" fill="#F2644E"/><ellipse cx="196.1" cy="67.7" rx="15.1" ry="8.2" transform="rotate(297 196.1 67.7)" fill="#F2644E"/><ellipse cx="203.7" cy="79.2" rx="15.1" ry="8.2" transform="rotate(357 203.7 79.2)" fill="#F2644E"/><ellipse cx="197.6" cy="91.5" rx="15.1" ry="8.2" transform="rotate(417 197.6 91.5)" fill="#EE5A44"/><circle cx="190" cy="80" r="4.4" fill="#F9C85A"/><circle cx="181.6" cy="75.2" r="1.8" fill="#6A3070"/><circle cx="198.1" cy="74.8" r="1.8" fill="#6A3070"/><circle cx="192.1" cy="89.4" r="1.8" fill="#6A3070"/><circle cx="198.3" cy="84.9" r="1.8" fill="#6A3070"/><ellipse cx="216.3" cy="62.7" rx="17.3" ry="9.4" transform="rotate(151 216.3 62.7)" fill="#F57A64"/><ellipse cx="216.4" cy="47.0" rx="17.3" ry="9.4" transform="rotate(211 216.4 47.0)" fill="#F2644E"/><ellipse cx="230.1" cy="39.3" rx="17.3" ry="9.4" transform="rotate(271 230.1 39.3)" fill="#F68A72"/><ellipse cx="243.7" cy="47.2" rx="17.3" ry="9.4" transform="rotate(331 243.7 47.2)" fill="#F2644E"/><ellipse cx="243.6" cy="63.0" rx="17.3" ry="9.4" transform="rotate(390 243.6 63.0)" fill="#F2644E"/><ellipse cx="229.9" cy="70.7" rx="17.3" ry="9.4" transform="rotate(450 229.9 70.7)" fill="#F57A64"/><circle cx="230" cy="55" r="5.0" fill="#F9C85A"/><circle cx="222.5" cy="46.9" r="1.8" fill="#6A3070"/><circle cx="220.4" cy="49.5" r="1.8" fill="#6A3070"/><circle cx="240.2" cy="59.2" r="1.8" fill="#6A3070"/><circle cx="220.5" cy="49.4" r="1.8" fill="#6A3070"/><ellipse cx="288.1" cy="64.2" rx="15.1" ry="8.2" transform="rotate(18 288.1 64.2)" fill="#F57A64"/><ellipse cx="277.9" cy="73.4" rx="15.1" ry="8.2" transform="rotate(78 277.9 73.4)" fill="#F2644E"/><ellipse cx="264.8" cy="69.2" rx="15.1" ry="8.2" transform="rotate(138 264.8 69.2)" fill="#F57A64"/><ellipse cx="261.9" cy="55.8" rx="15.1" ry="8.2" transform="rotate(198 261.9 55.8)" fill="#EE5A44"/><ellipse cx="272.1" cy="46.6" rx="15.1" ry="8.2" transform="rotate(258 272.1 46.6)" fill="#F68A72"/><ellipse cx="285.2" cy="50.8" rx="15.1" ry="8.2" transform="rotate(318 285.2 50.8)" fill="#F57A64"/><circle cx="275" cy="60" r="4.4" fill="#F9C85A"/><circle cx="265.7" cy="57.6" r="1.8" fill="#6A3070"/><circle cx="266.3" cy="55.9" r="1.8" fill="#6A3070"/><circle cx="266.1" cy="56.4" r="1.8" fill="#6A3070"/><circle cx="271.0" cy="51.2" r="1.8" fill="#6A3070"/><ellipse cx="306.0" cy="118.3" rx="15.1" ry="8.2" transform="rotate(37 306.0 118.3)" fill="#F57A64"/><ellipse cx="293.3" cy="123.6" rx="15.1" ry="8.2" transform="rotate(97 293.3 123.6)" fill="#EE5A44"/><ellipse cx="282.3" cy="115.4" rx="15.1" ry="8.2" transform="rotate(157 282.3 115.4)" fill="#F2644E"/><ellipse cx="284.0" cy="101.7" rx="15.1" ry="8.2" transform="rotate(217 284.0 101.7)" fill="#F2644E"/><ellipse cx="296.7" cy="96.4" rx="15.1" ry="8.2" transform="rotate(277 296.7 96.4)" fill="#F2644E"/><ellipse cx="307.7" cy="104.6" rx="15.1" ry="8.2" transform="rotate(337 307.7 104.6)" fill="#F57A64"/><circle cx="295" cy="110" r="4.4" fill="#F9C85A"/><circle cx="285.4" cy="110.2" r="1.8" fill="#6A3070"/><circle cx="285.6" cy="108.1" r="1.8" fill="#6A3070"/><circle cx="296.6" cy="100.5" r="1.8" fill="#6A3070"/><circle cx="285.6" cy="112.1" r="1.8" fill="#6A3070"/><ellipse cx="269.4" cy="102.5" rx="17.9" ry="9.8" transform="rotate(332 269.4 102.5)" fill="#EE5A44"/><ellipse cx="268.7" cy="118.7" rx="17.9" ry="9.8" transform="rotate(392 268.7 118.7)" fill="#EE5A44"/><ellipse cx="254.3" cy="126.2" rx="17.9" ry="9.8" transform="rotate(452 254.3 126.2)" fill="#F57A64"/><ellipse cx="240.6" cy="117.5" rx="17.9" ry="9.8" transform="rotate(512 240.6 117.5)" fill="#F57A64"/><ellipse cx="241.3" cy="101.3" rx="17.9" ry="9.8" transform="rotate(572 241.3 101.3)" fill="#F57A64"/><ellipse cx="255.7" cy="93.8" rx="17.9" ry="9.8" transform="rotate(632 255.7 93.8)" fill="#F2644E"/><circle cx="255" cy="110" r="5.2" fill="#F9C85A"/><circle cx="244.8" cy="104.9" r="1.8" fill="#6A3070"/><circle cx="243.8" cy="108.2" r="1.8" fill="#6A3070"/><circle cx="263.0" cy="102.0" r="1.8" fill="#6A3070"/><circle cx="253.5" cy="98.7" r="1.8" fill="#6A3070"/><ellipse cx="206.2" cy="135.8" rx="17.9" ry="9.8" transform="rotate(104 206.2 135.8)" fill="#F2644E"/><ellipse cx="194.4" cy="124.6" rx="17.9" ry="9.8" transform="rotate(164 194.4 124.6)" fill="#F2644E"/><ellipse cx="198.2" cy="108.8" rx="17.9" ry="9.8" transform="rotate(224 198.2 108.8)" fill="#F68A72"/><ellipse cx="213.8" cy="104.2" rx="17.9" ry="9.8" transform="rotate(284 213.8 104.2)" fill="#F57A64"/><ellipse cx="225.6" cy="115.4" rx="17.9" ry="9.8" transform="rotate(344 225.6 115.4)" fill="#EE5A44"/><ellipse cx="221.8" cy="131.2" rx="17.9" ry="9.8" transform="rotate(404 221.8 131.2)" fill="#F57A64"/><circle cx="210" cy="120" r="5.2" fill="#F9C85A"/><circle cx="220.4" cy="115.4" r="1.8" fill="#6A3070"/><circle cx="200.0" cy="125.4" r="1.8" fill="#6A3070"/><circle cx="221.1" cy="117.3" r="1.8" fill="#6A3070"/><circle cx="220.0" cy="125.3" r="1.8" fill="#6A3070"/><ellipse cx="213.3" cy="145.5" rx="13.8" ry="7.5" transform="rotate(201 213.3 145.5)" fill="#EE5A44"/><ellipse cx="223.0" cy="137.7" rx="13.8" ry="7.5" transform="rotate(261 223.0 137.7)" fill="#EE5A44"/><ellipse cx="234.7" cy="142.1" rx="13.8" ry="7.5" transform="rotate(321 234.7 142.1)" fill="#EE5A44"/><ellipse cx="236.7" cy="154.5" rx="13.8" ry="7.5" transform="rotate(381 236.7 154.5)" fill="#F68A72"/><ellipse cx="227.0" cy="162.3" rx="13.8" ry="7.5" transform="rotate(441 227.0 162.3)" fill="#F68A72"/><ellipse cx="215.3" cy="157.9" rx="13.8" ry="7.5" transform="rotate(501 215.3 157.9)" fill="#F2644E"/><circle cx="225" cy="150" r="4.0" fill="#F9C85A"/><circle cx="229.7" cy="142.6" r="1.8" fill="#6A3070"/><circle cx="233.2" cy="147.0" r="1.8" fill="#6A3070"/><circle cx="216.4" cy="151.4" r="1.8" fill="#6A3070"/><circle cx="220.5" cy="142.5" r="1.8" fill="#6A3070"/><ellipse cx="282.1" cy="149.8" rx="14.3" ry="7.8" transform="rotate(22 282.1 149.8)" fill="#EE5A44"/><ellipse cx="271.8" cy="157.9" rx="14.3" ry="7.8" transform="rotate(82 271.8 157.9)" fill="#F68A72"/><ellipse cx="259.8" cy="153.0" rx="14.3" ry="7.8" transform="rotate(142 259.8 153.0)" fill="#EE5A44"/><ellipse cx="257.9" cy="140.2" rx="14.3" ry="7.8" transform="rotate(202 257.9 140.2)" fill="#F68A72"/><ellipse cx="268.1" cy="132.1" rx="14.3" ry="7.8" transform="rotate(262 268.1 132.1)" fill="#EE5A44"/><ellipse cx="280.2" cy="137.0" rx="14.3" ry="7.8" transform="rotate(322 280.2 137.0)" fill="#F2644E"/><circle cx="270" cy="145" r="4.2" fill="#F9C85A"/><circle cx="278.5" cy="141.7" r="1.8" fill="#6A3070"/><circle cx="264.4" cy="152.2" r="1.8" fill="#6A3070"/><circle cx="263.0" cy="139.2" r="1.8" fill="#6A3070"/><circle cx="260.9" cy="145.4" r="1.8" fill="#6A3070"/><ellipse cx="177.3" cy="126.5" rx="12.9" ry="7.0" transform="rotate(79 177.3 126.5)" fill="#EE5A44"/><ellipse cx="166.2" cy="122.8" rx="12.9" ry="7.0" transform="rotate(139 166.2 122.8)" fill="#F57A64"/><ellipse cx="163.9" cy="111.3" rx="12.9" ry="7.0" transform="rotate(199 163.9 111.3)" fill="#F57A64"/><ellipse cx="172.7" cy="103.5" rx="12.9" ry="7.0" transform="rotate(259 172.7 103.5)" fill="#F68A72"/><ellipse cx="183.8" cy="107.2" rx="12.9" ry="7.0" transform="rotate(319 183.8 107.2)" fill="#F68A72"/><ellipse cx="186.1" cy="118.7" rx="12.9" ry="7.0" transform="rotate(378 186.1 118.7)" fill="#F68A72"/><circle cx="175" cy="115" r="3.8" fill="#F9C85A"/><circle cx="182.2" cy="119.0" r="1.8" fill="#6A3070"/><circle cx="167.2" cy="117.6" r="1.8" fill="#6A3070"/><circle cx="167.2" cy="112.5" r="1.8" fill="#6A3070"/><circle cx="181.1" cy="109.5" r="1.8" fill="#6A3070"/><ellipse cx="243.4" cy="22.7" rx="8.8" ry="4.8" transform="rotate(295 243.4 22.7)" fill="#EE5A44"/><ellipse cx="248.0" cy="29.3" rx="8.8" ry="4.8" transform="rotate(355 248.0 29.3)" fill="#F68A72"/><ellipse cx="244.6" cy="36.5" rx="8.8" ry="4.8" transform="rotate(415 244.6 36.5)" fill="#EE5A44"/><ellipse cx="236.6" cy="37.3" rx="8.8" ry="4.8" transform="rotate(475 236.6 37.3)" fill="#F68A72"/><ellipse cx="232.0" cy="30.7" rx="8.8" ry="4.8" transform="rotate(535 232.0 30.7)" fill="#F57A64"/><ellipse cx="235.4" cy="23.5" rx="8.8" ry="4.8" transform="rotate(595 235.4 23.5)" fill="#F57A64"/><circle cx="240" cy="30" r="2.6" fill="#F9C85A"/><circle cx="244.9" cy="32.8" r="1.8" fill="#6A3070"/><circle cx="243.3" cy="34.6" r="1.8" fill="#6A3070"/><circle cx="237.0" cy="25.3" r="1.8" fill="#6A3070"/><circle cx="245.6" cy="30.4" r="1.8" fill="#6A3070"/><ellipse cx="309.5" cy="71.9" rx="10.2" ry="5.5" transform="rotate(299 309.5 71.9)" fill="#F57A64"/><ellipse cx="314.2" cy="79.9" rx="10.2" ry="5.5" transform="rotate(359 314.2 79.9)" fill="#EE5A44"/><ellipse cx="309.7" cy="87.9" rx="10.2" ry="5.5" transform="rotate(419 309.7 87.9)" fill="#EE5A44"/><ellipse cx="300.5" cy="88.1" rx="10.2" ry="5.5" transform="rotate(479 300.5 88.1)" fill="#F2644E"/><ellipse cx="295.8" cy="80.1" rx="10.2" ry="5.5" transform="rotate(539 295.8 80.1)" fill="#F57A64"/><ellipse cx="300.3" cy="72.1" rx="10.2" ry="5.5" transform="rotate(599 300.3 72.1)" fill="#F68A72"/><circle cx="305" cy="80" r="3.0" fill="#F9C85A"/><circle cx="298.7" cy="78.6" r="1.8" fill="#6A3070"/><circle cx="300.0" cy="75.9" r="1.8" fill="#6A3070"/><circle cx="302.3" cy="85.9" r="1.8" fill="#6A3070"/><circle cx="309.6" cy="84.6" r="1.8" fill="#6A3070"/><ellipse cx="248.7" cy="79.4" rx="15.1" ry="8.2" transform="rotate(309 248.7 79.4)" fill="#F2644E"/><ellipse cx="253.6" cy="92.2" rx="15.1" ry="8.2" transform="rotate(369 253.6 92.2)" fill="#F68A72"/><ellipse cx="244.9" cy="102.9" rx="15.1" ry="8.2" transform="rotate(429 244.9 102.9)" fill="#F68A72"/><ellipse cx="231.3" cy="100.6" rx="15.1" ry="8.2" transform="rotate(489 231.3 100.6)" fill="#F68A72"/><ellipse cx="226.4" cy="87.8" rx="15.1" ry="8.2" transform="rotate(549 226.4 87.8)" fill="#F68A72"/><ellipse cx="235.1" cy="77.1" rx="15.1" ry="8.2" transform="rotate(609 235.1 77.1)" fill="#F68A72"/><circle cx="240" cy="90" r="4.4" fill="#F9C85A"/><circle cx="247.7" cy="95.8" r="1.8" fill="#6A3070"/><circle cx="233.6" cy="82.8" r="1.8" fill="#6A3070"/><circle cx="248.9" cy="93.7" r="1.8" fill="#6A3070"/><circle cx="248.8" cy="94.0" r="1.8" fill="#6A3070"/></g><rect x="217.4" y="143" width="53.99999999999997" height="51" fill="none" stroke="#FFBE0B" stroke-width="3.6" stroke-dasharray="15,8"/></svg><svg x="3552" y="2299.6" width="317.1" height="221.8" viewBox="0 0 1058 740" preserveAspectRatio="none" overflow="hidden"><rect width="1058" height="740" fill="#000"/><polygon points="619,314 622,344 645,382 622,410 578,424 564,453 538,473 501,477 481,517 443,520 406,493 370,513 343,483 304,489 263,487 232,467 212,438 186,412 185,377 161,348 174,314 183,283 199,255 201,223 216,193 234,163 240,113 293,120 335,123 373,131 406,113 438,137 498,67 520,118 546,145 550,188 570,209 599,228 643,246 653,280" fill="#FFFFFF"/><ellipse cx="420" cy="210" rx="30" ry="35" fill="#222"/><ellipse cx="480" cy="255" rx="28" ry="26" fill="#111"/><rect x="388" y="330" width="18" height="90" fill="#000"/><ellipse cx="660" cy="60" rx="50" ry="25" fill="#555" opacity="0.6"/><rect x="350" y="423" width="185" height="173" fill="none" stroke="#FFBE0B" stroke-width="12" stroke-dasharray="50,27"/></svg><svg x="3875.1" y="2299.6" width="317.5" height="221.8" viewBox="0 0 1058 740" preserveAspectRatio="none" overflow="hidden"><rect width="1058" height="740" fill="#000"/><polygon points="628,320 619,358 625,402 627,452 559,460 510,466 496,518 460,556 405,527 359,541 328,489 275,509 258,464 234,438 166,437 182,388 152,358 129,320 163,284 144,239 150,194 206,180 243,158 285,149 326,145 364,138 403,134 451,113 487,137 522,160 567,174 563,223 576,255 578,288" fill="#FFFFFF"/><polygon points="200,200 215,250 230,245" fill="#000"/><polygon points="345,345 370,340 360,395" fill="#000"/><polygon points="375,345 390,430 375,440" fill="#000"/><rect x="314" y="458" width="180" height="170" fill="none" stroke="#FFBE0B" stroke-width="12" stroke-dasharray="50,27"/></svg><svg x="3552" y="2528.9" width="317.1" height="221.8" viewBox="0 0 1058 740" preserveAspectRatio="none" overflow="hidden"><rect width="1058" height="740" fill="#000"/><polygon points="1021,325 1027,359 1016,391 970,408 990,457 989,505 915,481 906,532 856,510 835,580 790,513 750,555 708,553 679,522 644,507 588,508 600,450 572,426 559,393 588,354 517,325 575,294 561,258 597,236 557,171 647,196 620,113 691,148 720,129 744,63 790,102 824,130 860,130 884,159 931,149 933,195 956,216 996,230 997,264 1015,293" fill="#FFFFFF"/><ellipse cx="840" cy="180" rx="30" ry="30" fill="#222"/><ellipse cx="880" cy="380" rx="60" ry="25" fill="#444" opacity="0.7"/><ellipse cx="1030" cy="60" rx="40" ry="50" fill="#666" opacity="0.6"/><rect x="732" y="471" width="183" height="172" fill="none" stroke="#FFBE0B" stroke-width="12" stroke-dasharray="50,27"/></svg><svg x="3875.1" y="2528.9" width="317.5" height="221.8" viewBox="0 0 1058 740" preserveAspectRatio="none" overflow="hidden"><rect width="1058" height="740" fill="#000"/><polygon points="1035,325 1009,362 965,386 977,430 947,455 912,474 893,517 846,520 801,506 759,543 713,536 668,523 660,465 595,473 573,437 580,393 505,370 560,325 526,284 556,249 567,210 635,209 638,160 653,101 706,94 758,105 806,104 862,81 870,172 939,145 943,198 1020,198 969,262 1027,285" fill="#FFFFFF"/><polygon points="800,350 860,370 830,400" fill="#000"/><polygon points="580,380 610,400 590,410" fill="#000"/><rect x="722" y="493" width="185" height="170" fill="none" stroke="#FFBE0B" stroke-width="12" stroke-dasharray="50,27"/></svg><rect x="3552" y="2299.6" width="317.0999999999999" height="221.80000000000018" fill="none" stroke="#444" stroke-width="1.2" /><rect x="3552" y="2528.9" width="317.0999999999999" height="221.79999999999973" fill="none" stroke="#444" stroke-width="1.2" /><rect x="3875.1" y="2299.6" width="317.50000000000045" height="221.80000000000018" fill="none" stroke="#444" stroke-width="1.2" /><rect x="3875.1" y="2528.9" width="317.50000000000045" height="221.79999999999973" fill="none" stroke="#444" stroke-width="1.2" /><text x="3389.7" y="2286.8" font-family='"Liberation Serif", serif' font-size="39" font-weight="bold" text-anchor="middle" fill="#000" >Image</text><text x="3703" y="2286.8" font-family='"Liberation Serif", serif' font-size="39" font-weight="bold" text-anchor="middle" fill="#000" >Ours</text><text x="4037" y="2286.8" font-family='"Liberation Serif", serif' font-size="39" font-weight="bold" text-anchor="middle" fill="#000" >GT</text><text transform="translate(3199.8,2411.3) rotate(-90)" font-family='"Liberation Serif", serif' font-size="37" font-weight="bold" text-anchor="middle" xml:space="preserve">Input view</text><text transform="translate(3199.8,2643.3) rotate(-90)" font-family='"Liberation Serif", serif' font-size="37" font-weight="bold" text-anchor="middle" xml:space="preserve">Novel view</text>
</svg>
<div style="position:absolute;left:71px;top:574.5px;width:11px;height:11px;border-radius:50%;background:#2B3F51"></div><div style="position:absolute;left:71px;top:766.5px;width:11px;height:11px;border-radius:50%;background:#2B3F51"></div><div class="hl" style="left:130px;top:550.5px;width:1245px"><b>Slot-guided:</b> sVORF composes volumetric object radiance fields with object slots as a guidance to implement unsupervised 3D scene decomposition</div><div class="hl" style="left:130px;top:742.5px;width:1245px"><b>Efficiency:</b> sVORF significantly reduces memory requirement due to small-sized pixel rendering during training</div>
</body></html>
